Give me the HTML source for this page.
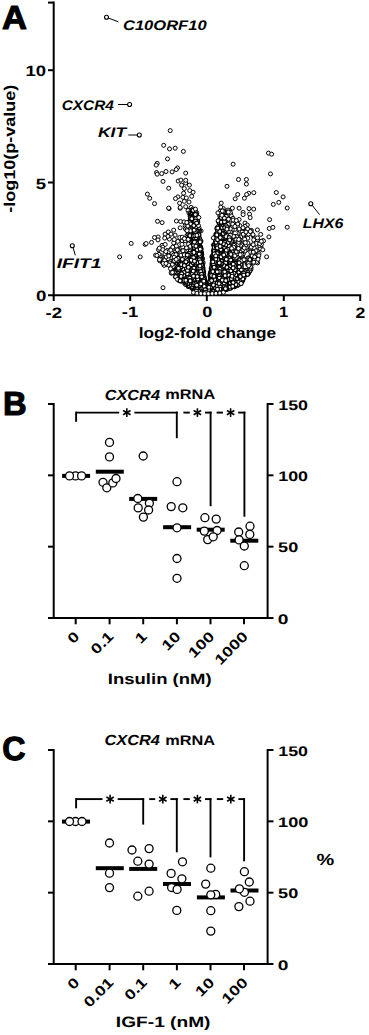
<!DOCTYPE html>
<html><head><meta charset="utf-8"><style>
html,body{margin:0;padding:0;background:#fff;}
svg{display:block;font-family:"Liberation Sans", sans-serif;text-rendering:geometricPrecision;}
</style></head><body>
<svg width="369" height="1035" viewBox="0 0 369 1035" xmlns="http://www.w3.org/2000/svg">
<line x1="53.7" y1="1.6" x2="53.7" y2="296.2" stroke="#000" stroke-width="2"/>
<line x1="48" y1="2.6" x2="53.7" y2="2.6" stroke="#000" stroke-width="2"/>
<line x1="48" y1="70.2" x2="53.7" y2="70.2" stroke="#000" stroke-width="2"/>
<line x1="48" y1="182.5" x2="53.7" y2="182.5" stroke="#000" stroke-width="2"/>
<line x1="48" y1="295.2" x2="361.2" y2="295.2" stroke="#000" stroke-width="2"/>
<line x1="53.7" y1="295.2" x2="53.7" y2="301" stroke="#000" stroke-width="2"/>
<line x1="130.2" y1="295.2" x2="130.2" y2="301" stroke="#000" stroke-width="2"/>
<line x1="206.8" y1="295.2" x2="206.8" y2="301" stroke="#000" stroke-width="2"/>
<line x1="283.8" y1="295.2" x2="283.8" y2="301" stroke="#000" stroke-width="2"/>
<line x1="360.2" y1="295.2" x2="360.2" y2="301" stroke="#000" stroke-width="2"/>
<defs><filter id="bl" x="0" y="0" width="1" height="1"><feGaussianBlur stdDeviation="0.4"/></filter></defs>
<g fill="#fff" stroke="#000" stroke-width="1.12"">
<circle cx="178.2" cy="181" r="2.0" stroke-width="1.0"/>
<circle cx="184.32" cy="260.34" r="2.0" stroke-width="1.0"/>
<circle cx="244.28" cy="271.86" r="1.95"/>
<circle cx="219.79" cy="233.84" r="1.95"/>
<circle cx="212.62" cy="275.65" r="1.95"/>
<circle cx="201.9" cy="272.11" r="1.95"/>
<circle cx="180.6" cy="221.5" r="2.0" stroke-width="1.0"/>
<circle cx="187.06" cy="264.64" r="1.95"/>
<circle cx="208.61" cy="290.04" r="1.95"/>
<circle cx="236.92" cy="271.6" r="1.95"/>
<circle cx="221.35" cy="243.11" r="1.95"/>
<circle cx="198.43" cy="246.44" r="1.95"/>
<circle cx="213.16" cy="272.15" r="1.95"/>
<circle cx="217.87" cy="245.41" r="1.95"/>
<circle cx="216.92" cy="264.91" r="1.95"/>
<circle cx="227.01" cy="285.45" r="1.95"/>
<circle cx="243.1" cy="212.4" r="2.0" stroke-width="1.0"/>
<circle cx="202.25" cy="279.61" r="1.95"/>
<circle cx="236.72" cy="264.17" r="1.95"/>
<circle cx="197.06" cy="271" r="1.95"/>
<circle cx="231.43" cy="232.25" r="2.0" stroke-width="1.0"/>
<circle cx="162" cy="262.01" r="2.0" stroke-width="1.0"/>
<circle cx="216.77" cy="267.9" r="1.95"/>
<circle cx="212.02" cy="289.96" r="1.95"/>
<circle cx="211.85" cy="270.19" r="1.95"/>
<circle cx="219.16" cy="289.79" r="1.95"/>
<circle cx="210.87" cy="291.3" r="1.95"/>
<circle cx="158.49" cy="249.68" r="2.0" stroke-width="1.0"/>
<circle cx="203.23" cy="279.64" r="1.95"/>
<circle cx="220.75" cy="281.06" r="1.95"/>
<circle cx="217.61" cy="253.18" r="1.95"/>
<circle cx="202.39" cy="281.01" r="1.95"/>
<circle cx="219.02" cy="293.21" r="1.95"/>
<circle cx="217.98" cy="282.3" r="1.95"/>
<circle cx="201.49" cy="275.31" r="1.95"/>
<circle cx="268.5" cy="153.1" r="2.0" stroke-width="1.0"/>
<circle cx="201.59" cy="258.16" r="1.95"/>
<circle cx="232.69" cy="259.51" r="1.95"/>
<circle cx="193.19" cy="213.93" r="1.95"/>
<circle cx="172.13" cy="271.52" r="2.0" stroke-width="1.0"/>
<circle cx="233.63" cy="283.58" r="1.95"/>
<circle cx="261.1" cy="247.4" r="2.0" stroke-width="1.0"/>
<circle cx="207.17" cy="293.14" r="1.95"/>
<circle cx="242.56" cy="275.15" r="1.95"/>
<circle cx="201.16" cy="280.87" r="1.95"/>
<circle cx="229.34" cy="253.87" r="1.95"/>
<circle cx="192.17" cy="282.73" r="1.95"/>
<circle cx="229.43" cy="286.29" r="1.95"/>
<circle cx="203.47" cy="281.82" r="1.95"/>
<circle cx="203.88" cy="284.97" r="1.95"/>
<circle cx="214.88" cy="269.62" r="1.95"/>
<circle cx="208.41" cy="291.75" r="1.95"/>
<circle cx="212.7" cy="292.45" r="1.95"/>
<circle cx="199.98" cy="265.34" r="1.95"/>
<circle cx="193.85" cy="288.84" r="1.95"/>
<circle cx="198.7" cy="278.36" r="1.95"/>
<circle cx="217.52" cy="256.44" r="1.95"/>
<circle cx="204.17" cy="289.83" r="1.95"/>
<circle cx="204.37" cy="285.05" r="1.95"/>
<circle cx="211.09" cy="278.66" r="1.95"/>
<circle cx="224.98" cy="230.72" r="1.95"/>
<circle cx="227.92" cy="215.78" r="1.95"/>
<circle cx="225.66" cy="280.15" r="1.95"/>
<circle cx="198.32" cy="263.98" r="1.95"/>
<circle cx="195.32" cy="237.86" r="1.95"/>
<circle cx="201.19" cy="272.7" r="1.95"/>
<circle cx="222.92" cy="252.6" r="1.95"/>
<circle cx="212.71" cy="270.09" r="1.95"/>
<circle cx="220.34" cy="263.63" r="1.95"/>
<circle cx="212.83" cy="268.36" r="1.95"/>
<circle cx="201.9" cy="284.14" r="1.95"/>
<circle cx="216.68" cy="287.44" r="1.95"/>
<circle cx="216.42" cy="274.13" r="1.95"/>
<circle cx="213.74" cy="259.61" r="1.95"/>
<circle cx="211.76" cy="279.83" r="1.95"/>
<circle cx="202.47" cy="282.51" r="1.95"/>
<circle cx="222.54" cy="260.9" r="1.95"/>
<circle cx="258.4" cy="249.8" r="2.0" stroke-width="1.0"/>
<circle cx="200.52" cy="282.7" r="1.95"/>
<circle cx="260.7" cy="234.4" r="2.0" stroke-width="1.0"/>
<circle cx="212.28" cy="270.14" r="1.95"/>
<circle cx="249.33" cy="270.77" r="2.0" stroke-width="1.0"/>
<circle cx="238.14" cy="248.01" r="2.0" stroke-width="1.0"/>
<circle cx="240.37" cy="242.61" r="2.0" stroke-width="1.0"/>
<circle cx="203.05" cy="287.22" r="1.95"/>
<circle cx="213.92" cy="269.63" r="1.95"/>
<circle cx="245.75" cy="236.41" r="2.0" stroke-width="1.0"/>
<circle cx="199.58" cy="292.11" r="1.95"/>
<circle cx="194.73" cy="212.5" r="1.95"/>
<circle cx="202.21" cy="269.61" r="1.95"/>
<circle cx="197.1" cy="250.61" r="1.95"/>
<circle cx="224.03" cy="265.08" r="1.95"/>
<circle cx="187.87" cy="235.85" r="2.0" stroke-width="1.0"/>
<circle cx="203.78" cy="283.29" r="1.95"/>
<circle cx="199.43" cy="250.64" r="1.95"/>
<circle cx="227.58" cy="249.79" r="1.95"/>
<circle cx="234.54" cy="279.56" r="1.95"/>
<circle cx="198.68" cy="255.84" r="1.95"/>
<circle cx="162.06" cy="245.35" r="2.0" stroke-width="1.0"/>
<circle cx="228.92" cy="275.71" r="1.95"/>
<circle cx="195.16" cy="210.67" r="2.0" stroke-width="1.0"/>
<circle cx="198.88" cy="255.62" r="1.95"/>
<circle cx="203.95" cy="292.96" r="1.95"/>
<circle cx="218.97" cy="280.66" r="1.95"/>
<circle cx="200.65" cy="272.79" r="1.95"/>
<circle cx="202.05" cy="284.97" r="1.95"/>
<circle cx="207.92" cy="293.26" r="1.95"/>
<circle cx="189.49" cy="263.39" r="1.95"/>
<circle cx="220.72" cy="265.15" r="1.95"/>
<circle cx="210.19" cy="282.28" r="1.95"/>
<circle cx="218.4" cy="221.44" r="2.0" stroke-width="1.0"/>
<circle cx="203.95" cy="283.37" r="1.95"/>
<circle cx="215.49" cy="279.62" r="1.95"/>
<circle cx="202.58" cy="278.31" r="1.95"/>
<circle cx="247.06" cy="260.8" r="2.0" stroke-width="1.0"/>
<circle cx="241.23" cy="257.53" r="2.0" stroke-width="1.0"/>
<circle cx="192.55" cy="224.93" r="1.95"/>
<circle cx="225.03" cy="224.85" r="1.95"/>
<circle cx="196.93" cy="248.01" r="1.95"/>
<circle cx="205.11" cy="291.31" r="1.95"/>
<circle cx="211.77" cy="273.19" r="1.95"/>
<circle cx="229.9" cy="283.99" r="1.95"/>
<circle cx="218" cy="283.71" r="1.95"/>
<circle cx="221.87" cy="238.47" r="1.95"/>
<circle cx="179.03" cy="261.76" r="1.95"/>
<circle cx="179.7" cy="237.5" r="2.0" stroke-width="1.0"/>
<circle cx="199.89" cy="261.43" r="1.95"/>
<circle cx="218.82" cy="238.55" r="1.95"/>
<circle cx="215.32" cy="239.95" r="2.0" stroke-width="1.0"/>
<circle cx="183.03" cy="259.58" r="2.0" stroke-width="1.0"/>
<circle cx="209.48" cy="286.67" r="1.95"/>
<circle cx="212.24" cy="278.47" r="1.95"/>
<circle cx="224.75" cy="264.67" r="1.95"/>
<circle cx="234.37" cy="224.99" r="2.0" stroke-width="1.0"/>
<circle cx="195.15" cy="284.78" r="1.95"/>
<circle cx="211.88" cy="277.88" r="1.95"/>
<circle cx="227.14" cy="231.1" r="1.95"/>
<circle cx="198.64" cy="243.97" r="1.95"/>
<circle cx="168.89" cy="255.81" r="2.0" stroke-width="1.0"/>
<circle cx="216.07" cy="267.42" r="1.95"/>
<circle cx="218.84" cy="244.83" r="1.95"/>
<circle cx="223.32" cy="280.6" r="1.95"/>
<circle cx="198.6" cy="268.64" r="1.95"/>
<circle cx="196.12" cy="271.74" r="1.95"/>
<circle cx="202.4" cy="272.29" r="1.95"/>
<circle cx="179.85" cy="268.26" r="1.95"/>
<circle cx="201.63" cy="277.33" r="1.95"/>
<circle cx="216.44" cy="267.75" r="1.95"/>
<circle cx="211.19" cy="277.24" r="1.95"/>
<circle cx="213.07" cy="268.91" r="1.95"/>
<circle cx="221.48" cy="212" r="2.0" stroke-width="1.0"/>
<circle cx="180.26" cy="268.12" r="1.95"/>
<circle cx="168.52" cy="263.33" r="2.0" stroke-width="1.0"/>
<circle cx="200.47" cy="275.56" r="1.95"/>
<circle cx="215.89" cy="234.51" r="1.95"/>
<circle cx="208.22" cy="290.67" r="1.95"/>
<circle cx="217.71" cy="285.68" r="1.95"/>
<circle cx="200.66" cy="274.31" r="1.95"/>
<circle cx="199.34" cy="292.08" r="1.95"/>
<circle cx="203.37" cy="278.64" r="1.95"/>
<circle cx="202.59" cy="292.98" r="1.95"/>
<circle cx="215.37" cy="266.11" r="1.95"/>
<circle cx="215.25" cy="278.62" r="1.95"/>
<circle cx="214.36" cy="267.41" r="1.95"/>
<circle cx="202.09" cy="280.13" r="1.95"/>
<circle cx="218.48" cy="254.97" r="1.95"/>
<circle cx="227.66" cy="261.94" r="1.95"/>
<circle cx="215.05" cy="287.61" r="1.95"/>
<circle cx="202.61" cy="275.78" r="1.95"/>
<circle cx="208.73" cy="290.27" r="1.95"/>
<circle cx="214.9" cy="262.24" r="1.95"/>
<circle cx="190.6" cy="274.87" r="1.95"/>
<circle cx="203.66" cy="284.81" r="1.95"/>
<circle cx="198.96" cy="257.95" r="1.95"/>
<circle cx="209.46" cy="286.72" r="1.95"/>
<circle cx="212.42" cy="276.51" r="1.95"/>
<circle cx="210" cy="288.42" r="1.95"/>
<circle cx="205.29" cy="292.33" r="1.95"/>
<circle cx="236.07" cy="279.6" r="1.95"/>
<circle cx="207.95" cy="293.57" r="1.95"/>
<circle cx="188.71" cy="237.78" r="2.0" stroke-width="1.0"/>
<circle cx="200.75" cy="259.87" r="1.95"/>
<circle cx="217.09" cy="234.05" r="1.95"/>
<circle cx="200.64" cy="264.03" r="1.95"/>
<circle cx="197.36" cy="225.77" r="1.95"/>
<circle cx="188.25" cy="267.7" r="1.95"/>
<circle cx="191.31" cy="235.65" r="1.95"/>
<circle cx="212.51" cy="273.32" r="1.95"/>
<circle cx="195.33" cy="242.68" r="1.95"/>
<circle cx="228.74" cy="244.3" r="1.95"/>
<circle cx="201.79" cy="279.18" r="1.95"/>
<circle cx="209.75" cy="287.68" r="1.95"/>
<circle cx="211.11" cy="293.46" r="1.95"/>
<circle cx="218.45" cy="286.71" r="1.95"/>
<circle cx="210.19" cy="284.11" r="1.95"/>
<circle cx="173.79" cy="254.19" r="2.0" stroke-width="1.0"/>
<circle cx="233.1" cy="275.51" r="1.95"/>
<circle cx="212.61" cy="279.18" r="1.95"/>
<circle cx="216.1" cy="260.02" r="1.95"/>
<circle cx="210.19" cy="280.98" r="1.95"/>
<circle cx="216.59" cy="238.75" r="1.95"/>
<circle cx="197.85" cy="254.98" r="1.95"/>
<circle cx="204.09" cy="283.56" r="1.95"/>
<circle cx="217.31" cy="263.4" r="1.95"/>
<circle cx="195.69" cy="291.23" r="1.95"/>
<circle cx="202.53" cy="282.39" r="1.95"/>
<circle cx="182.69" cy="280.31" r="1.95"/>
<circle cx="234.91" cy="229.39" r="2.0" stroke-width="1.0"/>
<circle cx="217.21" cy="256.51" r="1.95"/>
<circle cx="224.49" cy="285.67" r="1.95"/>
<circle cx="218.01" cy="290.08" r="1.95"/>
<circle cx="218.22" cy="271.06" r="1.95"/>
<circle cx="204.49" cy="288.06" r="1.95"/>
<circle cx="198.45" cy="249.52" r="1.95"/>
<circle cx="224.42" cy="289.1" r="1.95"/>
<circle cx="222" cy="274.3" r="1.95"/>
<circle cx="199.2" cy="258.25" r="1.95"/>
<circle cx="197.2" cy="291.06" r="1.95"/>
<circle cx="195.65" cy="211.69" r="2.0" stroke-width="1.0"/>
<circle cx="217.26" cy="283.69" r="1.95"/>
<circle cx="200.19" cy="254.29" r="1.95"/>
<circle cx="192.66" cy="240.6" r="1.95"/>
<circle cx="221.99" cy="284.56" r="1.95"/>
<circle cx="201.05" cy="230.92" r="2.0" stroke-width="1.0"/>
<circle cx="201.99" cy="282.55" r="1.95"/>
<circle cx="207.88" cy="291.8" r="1.95"/>
<circle cx="198.22" cy="256.57" r="1.95"/>
<circle cx="201.82" cy="274.1" r="1.95"/>
<circle cx="222.9" cy="283.63" r="1.95"/>
<circle cx="220.78" cy="223.88" r="1.95"/>
<circle cx="218.47" cy="246.01" r="1.95"/>
<circle cx="191.25" cy="217.13" r="1.95"/>
<circle cx="241.12" cy="281.61" r="1.95"/>
<circle cx="185.19" cy="272.73" r="1.95"/>
<circle cx="205.82" cy="291.85" r="1.95"/>
<circle cx="226.91" cy="289.35" r="1.95"/>
<circle cx="223.79" cy="286.17" r="1.95"/>
<circle cx="186.97" cy="235.4" r="2.0" stroke-width="1.0"/>
<circle cx="185.53" cy="274.64" r="1.95"/>
<circle cx="198.82" cy="258.32" r="1.95"/>
<circle cx="258" cy="258.2" r="2.0" stroke-width="1.0"/>
<circle cx="197.92" cy="254.04" r="1.95"/>
<circle cx="203.87" cy="283.39" r="1.95"/>
<circle cx="193.25" cy="238.31" r="1.95"/>
<circle cx="197.46" cy="261.35" r="1.95"/>
<circle cx="200.97" cy="272.94" r="1.95"/>
<circle cx="199.55" cy="277.6" r="1.95"/>
<circle cx="227.92" cy="215.32" r="1.95"/>
<circle cx="231.02" cy="216.87" r="2.0" stroke-width="1.0"/>
<circle cx="185.44" cy="228.96" r="2.0" stroke-width="1.0"/>
<circle cx="200.16" cy="279.84" r="1.95"/>
<circle cx="202.67" cy="272.73" r="1.95"/>
<circle cx="214.99" cy="281.09" r="1.95"/>
<circle cx="197.2" cy="248.34" r="1.95"/>
<circle cx="216" cy="265.4" r="1.95"/>
<circle cx="213.03" cy="268.65" r="1.95"/>
<circle cx="220.3" cy="261.47" r="1.95"/>
<circle cx="214.13" cy="272.82" r="1.95"/>
<circle cx="193.86" cy="245.74" r="1.95"/>
<circle cx="210.43" cy="286.34" r="1.95"/>
<circle cx="224.89" cy="283.09" r="1.95"/>
<circle cx="207.44" cy="293.44" r="1.95"/>
<circle cx="206.41" cy="293.59" r="1.95"/>
<circle cx="199.28" cy="269.7" r="1.95"/>
<circle cx="202.31" cy="267.06" r="1.95"/>
<circle cx="202.04" cy="277.35" r="1.95"/>
<circle cx="219.73" cy="271.03" r="1.95"/>
<circle cx="200.67" cy="262.02" r="1.95"/>
<circle cx="225.62" cy="268.36" r="1.95"/>
<circle cx="194.97" cy="254.75" r="1.95"/>
<circle cx="239.82" cy="281.45" r="1.95"/>
<circle cx="219.39" cy="281.82" r="1.95"/>
<circle cx="226.75" cy="217.32" r="1.95"/>
<circle cx="194.03" cy="254.17" r="1.95"/>
<circle cx="200.65" cy="264.37" r="1.95"/>
<circle cx="208.87" cy="290.04" r="1.95"/>
<circle cx="229.38" cy="287.64" r="1.95"/>
<circle cx="216.89" cy="258.7" r="1.95"/>
<circle cx="215.66" cy="289.84" r="1.95"/>
<circle cx="209.39" cy="286.15" r="1.95"/>
<circle cx="197.72" cy="250.93" r="1.95"/>
<circle cx="202.38" cy="271.6" r="1.95"/>
<circle cx="245" cy="223.1" r="2.0" stroke-width="1.0"/>
<circle cx="188.24" cy="276.67" r="1.95"/>
<circle cx="214.67" cy="274.7" r="1.95"/>
<circle cx="160.43" cy="255.66" r="2.0" stroke-width="1.0"/>
<circle cx="223.4" cy="208.6" r="2.0" stroke-width="1.0"/>
<circle cx="203.28" cy="283.94" r="1.95"/>
<circle cx="215.22" cy="273.47" r="1.95"/>
<circle cx="202.2" cy="282.9" r="1.95"/>
<circle cx="202.9" cy="276.87" r="1.95"/>
<circle cx="204.1" cy="281.45" r="1.95"/>
<circle cx="224.01" cy="212.69" r="2.0" stroke-width="1.0"/>
<circle cx="219.54" cy="284.96" r="1.95"/>
<circle cx="202.99" cy="281.83" r="1.95"/>
<circle cx="195.45" cy="265.25" r="1.95"/>
<circle cx="195.39" cy="234.83" r="1.95"/>
<circle cx="212.45" cy="276.37" r="1.95"/>
<circle cx="174.35" cy="272.69" r="1.95"/>
<circle cx="216.9" cy="260.22" r="1.95"/>
<circle cx="209.33" cy="285.56" r="1.95"/>
<circle cx="222.63" cy="285.86" r="1.95"/>
<circle cx="192.88" cy="283.84" r="1.95"/>
<circle cx="170.2" cy="130.6" r="2.0" stroke-width="1.0"/>
<circle cx="218.11" cy="268.41" r="1.95"/>
<circle cx="204.33" cy="282.51" r="1.95"/>
<circle cx="208.94" cy="293.56" r="1.95"/>
<circle cx="171.88" cy="268.47" r="2.0" stroke-width="1.0"/>
<circle cx="198.22" cy="269.13" r="1.95"/>
<circle cx="200.07" cy="263.66" r="1.95"/>
<circle cx="198.69" cy="254.27" r="1.95"/>
<circle cx="199.43" cy="260.51" r="1.95"/>
<circle cx="239.31" cy="256.4" r="2.0" stroke-width="1.0"/>
<circle cx="209.96" cy="285.52" r="1.95"/>
<circle cx="198.18" cy="251.59" r="1.95"/>
<circle cx="203" cy="290.98" r="1.95"/>
<circle cx="241.5" cy="282.52" r="2.0" stroke-width="1.0"/>
<circle cx="244.67" cy="272.97" r="1.95"/>
<circle cx="203.93" cy="285.33" r="1.95"/>
<circle cx="223.14" cy="264.77" r="1.95"/>
<circle cx="201.6" cy="264.33" r="1.95"/>
<circle cx="204.59" cy="291.28" r="1.95"/>
<circle cx="222.25" cy="253.21" r="1.95"/>
<circle cx="217.22" cy="256.88" r="1.95"/>
<circle cx="202.33" cy="290.12" r="1.95"/>
<circle cx="218.67" cy="263.11" r="1.95"/>
<circle cx="231.89" cy="227" r="2.0" stroke-width="1.0"/>
<circle cx="214.37" cy="265.82" r="1.95"/>
<circle cx="204.95" cy="288.04" r="1.95"/>
<circle cx="217.96" cy="290.3" r="1.95"/>
<circle cx="225.06" cy="281.36" r="1.95"/>
<circle cx="175.29" cy="276.9" r="2.0" stroke-width="1.0"/>
<circle cx="204.11" cy="284.22" r="1.95"/>
<circle cx="201.58" cy="271.51" r="1.95"/>
<circle cx="270.5" cy="173.9" r="2.0" stroke-width="1.0"/>
<circle cx="216.77" cy="252.92" r="1.95"/>
<circle cx="202.27" cy="279.1" r="1.95"/>
<circle cx="202.78" cy="280.75" r="1.95"/>
<circle cx="199.46" cy="255.61" r="1.95"/>
<circle cx="202.89" cy="287.1" r="1.95"/>
<circle cx="203.38" cy="276.96" r="1.95"/>
<circle cx="198.26" cy="292.52" r="1.95"/>
<circle cx="201.92" cy="271.5" r="1.95"/>
<circle cx="195.07" cy="221.75" r="1.95"/>
<circle cx="192.06" cy="221.26" r="1.95"/>
<circle cx="193.79" cy="287.15" r="1.95"/>
<circle cx="213.55" cy="292.98" r="1.95"/>
<circle cx="202.24" cy="283.15" r="1.95"/>
<circle cx="241.15" cy="261.01" r="1.95"/>
<circle cx="224.27" cy="285.31" r="1.95"/>
<circle cx="216.2" cy="254.62" r="1.95"/>
<circle cx="209.37" cy="286.42" r="1.95"/>
<circle cx="202.1" cy="276.6" r="1.95"/>
<circle cx="194.79" cy="283.97" r="1.95"/>
<circle cx="218.51" cy="248.16" r="1.95"/>
<circle cx="199.48" cy="230.47" r="1.95"/>
<circle cx="239.48" cy="259.79" r="2.0" stroke-width="1.0"/>
<circle cx="212.26" cy="270.1" r="1.95"/>
<circle cx="220.35" cy="274.24" r="1.95"/>
<circle cx="199.92" cy="250.63" r="1.95"/>
<circle cx="180.52" cy="278.09" r="1.95"/>
<circle cx="241.32" cy="279.82" r="1.95"/>
<circle cx="202.38" cy="277.35" r="1.95"/>
<circle cx="205.78" cy="292.11" r="1.95"/>
<circle cx="176.21" cy="274.94" r="2.0" stroke-width="1.0"/>
<circle cx="181.49" cy="266.23" r="1.95"/>
<circle cx="212.38" cy="277.7" r="1.95"/>
<circle cx="196.38" cy="216.26" r="1.95"/>
<circle cx="200.35" cy="253.35" r="1.95"/>
<circle cx="202.57" cy="280.43" r="1.95"/>
<circle cx="211.8" cy="269.34" r="1.95"/>
<circle cx="214.28" cy="269.17" r="1.95"/>
<circle cx="216.88" cy="267.04" r="1.95"/>
<circle cx="202.65" cy="293.2" r="1.95"/>
<circle cx="203.18" cy="276" r="1.95"/>
<circle cx="257.56" cy="255.25" r="2.0" stroke-width="1.0"/>
<circle cx="213.74" cy="273.3" r="1.95"/>
<circle cx="190.16" cy="215.89" r="1.95"/>
<circle cx="200.5" cy="268.09" r="1.95"/>
<circle cx="212.97" cy="274.24" r="1.95"/>
<circle cx="215.01" cy="269.26" r="1.95"/>
<circle cx="211.5" cy="290.71" r="1.95"/>
<circle cx="233.66" cy="246.61" r="2.0" stroke-width="1.0"/>
<circle cx="201.32" cy="271.09" r="1.95"/>
<circle cx="203.83" cy="289.23" r="1.95"/>
<circle cx="208.75" cy="291.53" r="1.95"/>
<circle cx="195.79" cy="282.53" r="1.95"/>
<circle cx="213.57" cy="277.23" r="1.95"/>
<circle cx="218.59" cy="273.02" r="1.95"/>
<circle cx="208.77" cy="293.15" r="1.95"/>
<circle cx="221.32" cy="240.24" r="1.95"/>
<circle cx="217.52" cy="246.52" r="1.95"/>
<circle cx="238.22" cy="266.52" r="1.95"/>
<circle cx="219.9" cy="277.65" r="1.95"/>
<circle cx="216.25" cy="271.26" r="1.95"/>
<circle cx="211.47" cy="284.13" r="1.95"/>
<circle cx="218.99" cy="228.1" r="1.95"/>
<circle cx="204.88" cy="289.79" r="1.95"/>
<circle cx="212.16" cy="263.32" r="1.95"/>
<circle cx="175.1" cy="235.1" r="2.0" stroke-width="1.0"/>
<circle cx="202.41" cy="274.69" r="1.95"/>
<circle cx="202.39" cy="288.4" r="1.95"/>
<circle cx="190.49" cy="209.09" r="2.0" stroke-width="1.0"/>
<circle cx="203.16" cy="281.19" r="1.95"/>
<circle cx="211.69" cy="283.3" r="1.95"/>
<circle cx="224.56" cy="229.74" r="1.95"/>
<circle cx="200.55" cy="247.11" r="1.95"/>
<circle cx="211.46" cy="274.74" r="1.95"/>
<circle cx="199.16" cy="263.76" r="1.95"/>
<circle cx="228.92" cy="241.69" r="1.95"/>
<circle cx="216.62" cy="291.69" r="1.95"/>
<circle cx="248.52" cy="270.74" r="1.95"/>
<circle cx="225.43" cy="215.51" r="1.95"/>
<circle cx="202.5" cy="279.96" r="1.95"/>
<circle cx="207.1" cy="293.42" r="1.95"/>
<circle cx="222.74" cy="268.05" r="1.95"/>
<circle cx="204.25" cy="293.18" r="1.95"/>
<circle cx="219.94" cy="231.88" r="1.95"/>
<circle cx="167.04" cy="260.38" r="2.0" stroke-width="1.0"/>
<circle cx="233.86" cy="238.62" r="1.95"/>
<circle cx="214.84" cy="264.42" r="1.95"/>
<circle cx="202.16" cy="280.8" r="1.95"/>
<circle cx="228.04" cy="246.68" r="2.0" stroke-width="1.0"/>
<circle cx="219.42" cy="235.8" r="1.95"/>
<circle cx="192.6" cy="286.72" r="1.95"/>
<circle cx="195.6" cy="224.07" r="1.95"/>
<circle cx="216.46" cy="273.85" r="1.95"/>
<circle cx="203.52" cy="286.8" r="1.95"/>
<circle cx="214.6" cy="262.75" r="1.95"/>
<circle cx="198" cy="257.73" r="1.95"/>
<circle cx="182.4" cy="240.8" r="2.0" stroke-width="1.0"/>
<circle cx="198.49" cy="288.55" r="1.95"/>
<circle cx="198.75" cy="274.44" r="1.95"/>
<circle cx="202.59" cy="277.23" r="1.95"/>
<circle cx="220.02" cy="291.58" r="1.95"/>
<circle cx="196.82" cy="244.62" r="1.95"/>
<circle cx="202.29" cy="271.05" r="1.95"/>
<circle cx="202.21" cy="263.51" r="1.95"/>
<circle cx="203.95" cy="289.85" r="1.95"/>
<circle cx="221.35" cy="259.33" r="1.95"/>
<circle cx="204.33" cy="280.42" r="1.95"/>
<circle cx="216.47" cy="256.22" r="1.95"/>
<circle cx="227" cy="252.53" r="1.95"/>
<circle cx="215.38" cy="269.92" r="1.95"/>
<circle cx="217.82" cy="268.33" r="1.95"/>
<circle cx="203.09" cy="282.71" r="1.95"/>
<circle cx="198.75" cy="258.61" r="1.95"/>
<circle cx="190.71" cy="234.45" r="1.95"/>
<circle cx="241.15" cy="262.02" r="1.95"/>
<circle cx="210.8" cy="293.06" r="1.95"/>
<circle cx="240.82" cy="283.79" r="2.0" stroke-width="1.0"/>
<circle cx="212.79" cy="272.74" r="1.95"/>
<circle cx="235.9" cy="240.65" r="2.0" stroke-width="1.0"/>
<circle cx="174.97" cy="270.18" r="1.95"/>
<circle cx="204.43" cy="285.79" r="1.95"/>
<circle cx="225.87" cy="252.86" r="1.95"/>
<circle cx="198.13" cy="239.81" r="1.95"/>
<circle cx="204.9" cy="287.96" r="1.95"/>
<circle cx="196.55" cy="238.66" r="1.95"/>
<circle cx="212.63" cy="268.48" r="1.95"/>
<circle cx="188.27" cy="234.77" r="2.0" stroke-width="1.0"/>
<circle cx="256.32" cy="255.77" r="2.0" stroke-width="1.0"/>
<circle cx="218.79" cy="288.74" r="1.95"/>
<circle cx="219.08" cy="257.5" r="1.95"/>
<circle cx="211.41" cy="284.68" r="1.95"/>
<circle cx="195.89" cy="247.28" r="1.95"/>
<circle cx="216.38" cy="285.51" r="1.95"/>
<circle cx="199.42" cy="267.63" r="1.95"/>
<circle cx="183.8" cy="269.31" r="1.95"/>
<circle cx="221.04" cy="291.74" r="1.95"/>
<circle cx="230.35" cy="277.61" r="1.95"/>
<circle cx="203.31" cy="288.96" r="1.95"/>
<circle cx="223.65" cy="235.77" r="1.95"/>
<circle cx="186.45" cy="260.23" r="2.0" stroke-width="1.0"/>
<circle cx="226.12" cy="229.41" r="1.95"/>
<circle cx="213.05" cy="269.19" r="1.95"/>
<circle cx="168.81" cy="261.49" r="2.0" stroke-width="1.0"/>
<circle cx="205.8" cy="292.12" r="1.95"/>
<circle cx="226.5" cy="281.57" r="1.95"/>
<circle cx="213.37" cy="268.68" r="1.95"/>
<circle cx="200.56" cy="267.05" r="1.95"/>
<circle cx="221.18" cy="237.2" r="1.95"/>
<circle cx="204.77" cy="290.71" r="1.95"/>
<circle cx="201.05" cy="269.1" r="1.95"/>
<circle cx="215.25" cy="264.43" r="1.95"/>
<circle cx="203.61" cy="276.69" r="1.95"/>
<circle cx="199.89" cy="258.6" r="1.95"/>
<circle cx="216.7" cy="291.18" r="1.95"/>
<circle cx="199.89" cy="288.58" r="1.95"/>
<circle cx="220.74" cy="242.03" r="1.95"/>
<circle cx="231.2" cy="258.32" r="1.95"/>
<circle cx="246.72" cy="231.42" r="2.0" stroke-width="1.0"/>
<circle cx="226" cy="272.46" r="1.95"/>
<circle cx="233.3" cy="257.75" r="1.95"/>
<circle cx="193.17" cy="244.57" r="1.95"/>
<circle cx="202.15" cy="281.57" r="1.95"/>
<circle cx="224.63" cy="223.11" r="1.95"/>
<circle cx="197.58" cy="232.19" r="1.95"/>
<circle cx="219.78" cy="237.98" r="1.95"/>
<circle cx="273.3" cy="204.4" r="2.0" stroke-width="1.0"/>
<circle cx="202.86" cy="284.16" r="1.95"/>
<circle cx="217.38" cy="265.78" r="1.95"/>
<circle cx="189" cy="282.69" r="1.95"/>
<circle cx="202.26" cy="270.32" r="1.95"/>
<circle cx="209.39" cy="291.72" r="1.95"/>
<circle cx="202.36" cy="279.15" r="1.95"/>
<circle cx="222.02" cy="254.23" r="1.95"/>
<circle cx="162.1" cy="222.6" r="2.0" stroke-width="1.0"/>
<circle cx="202.35" cy="282.51" r="1.95"/>
<circle cx="208.25" cy="291.26" r="1.95"/>
<circle cx="201.45" cy="259.01" r="1.95"/>
<circle cx="211.79" cy="275.62" r="1.95"/>
<circle cx="199.63" cy="249.5" r="1.95"/>
<circle cx="207.93" cy="292.93" r="1.95"/>
<circle cx="190.34" cy="218.85" r="1.95"/>
<circle cx="204.14" cy="285.78" r="1.95"/>
<circle cx="229.77" cy="267.85" r="1.95"/>
<circle cx="199.64" cy="271.49" r="1.95"/>
<circle cx="241.06" cy="278.7" r="1.95"/>
<circle cx="166" cy="171.5" r="2.0" stroke-width="1.0"/>
<circle cx="238.5" cy="179.5" r="2.0" stroke-width="1.0"/>
<circle cx="200.53" cy="274.9" r="1.95"/>
<circle cx="202.91" cy="277.95" r="1.95"/>
<circle cx="254.1" cy="259.49" r="2.0" stroke-width="1.0"/>
<circle cx="179.09" cy="270.15" r="1.95"/>
<circle cx="208.77" cy="289.61" r="1.95"/>
<circle cx="198.75" cy="256.3" r="1.95"/>
<circle cx="204.69" cy="290.96" r="1.95"/>
<circle cx="205.16" cy="291.07" r="1.95"/>
<circle cx="197.44" cy="288.26" r="1.95"/>
<circle cx="224.84" cy="273.4" r="1.95"/>
<circle cx="202.51" cy="280.58" r="1.95"/>
<circle cx="228.27" cy="282.79" r="1.95"/>
<circle cx="219.1" cy="237.92" r="1.95"/>
<circle cx="204.72" cy="288.96" r="1.95"/>
<circle cx="162.75" cy="247.18" r="2.0" stroke-width="1.0"/>
<circle cx="182.24" cy="237.23" r="2.0" stroke-width="1.0"/>
<circle cx="202.4" cy="280.61" r="1.95"/>
<circle cx="181.5" cy="256.77" r="2.0" stroke-width="1.0"/>
<circle cx="225.17" cy="281.94" r="1.95"/>
<circle cx="202.66" cy="282.02" r="1.95"/>
<circle cx="196.51" cy="251.89" r="1.95"/>
<circle cx="219.39" cy="246.11" r="1.95"/>
<circle cx="244.8" cy="242.41" r="2.0" stroke-width="1.0"/>
<circle cx="200.99" cy="262.54" r="1.95"/>
<circle cx="240.81" cy="276.71" r="1.95"/>
<circle cx="203.49" cy="285.36" r="1.95"/>
<circle cx="196.86" cy="240.05" r="1.95"/>
<circle cx="168.51" cy="255.23" r="2.0" stroke-width="1.0"/>
<circle cx="213.78" cy="245.09" r="1.95"/>
<circle cx="197.14" cy="216.84" r="1.95"/>
<circle cx="200" cy="248.86" r="1.95"/>
<circle cx="199.32" cy="250.78" r="1.95"/>
<circle cx="252.2" cy="259.07" r="2.0" stroke-width="1.0"/>
<circle cx="186.44" cy="247.88" r="2.0" stroke-width="1.0"/>
<circle cx="221.19" cy="217.87" r="1.95"/>
<circle cx="220.25" cy="218.91" r="1.95"/>
<circle cx="203.57" cy="278.24" r="1.95"/>
<circle cx="145.1" cy="244.4" r="2.0" stroke-width="1.0"/>
<circle cx="213.89" cy="285.69" r="1.95"/>
<circle cx="217.61" cy="276.62" r="1.95"/>
<circle cx="203.81" cy="283.5" r="1.95"/>
<circle cx="241.44" cy="250.55" r="2.0" stroke-width="1.0"/>
<circle cx="183.22" cy="282.14" r="2.0" stroke-width="1.0"/>
<circle cx="201.24" cy="280.07" r="1.95"/>
<circle cx="202.98" cy="281.59" r="1.95"/>
<circle cx="238.28" cy="242.65" r="2.0" stroke-width="1.0"/>
<circle cx="202.25" cy="290.68" r="1.95"/>
<circle cx="176.3" cy="246.14" r="2.0" stroke-width="1.0"/>
<circle cx="203.73" cy="286.06" r="1.95"/>
<circle cx="249.5" cy="271.64" r="2.0" stroke-width="1.0"/>
<circle cx="212.81" cy="270.22" r="1.95"/>
<circle cx="190.1" cy="268.88" r="1.95"/>
<circle cx="206.24" cy="292.99" r="1.95"/>
<circle cx="208.68" cy="284.72" r="1.95"/>
<circle cx="215.16" cy="264.43" r="1.95"/>
<circle cx="208.83" cy="290.12" r="1.95"/>
<circle cx="185.68" cy="283.3" r="2.0" stroke-width="1.0"/>
<circle cx="198.57" cy="262.19" r="1.95"/>
<circle cx="215.64" cy="256.19" r="1.95"/>
<circle cx="208.74" cy="290.74" r="1.95"/>
<circle cx="198.96" cy="266.76" r="1.95"/>
<circle cx="202.36" cy="287.95" r="1.95"/>
<circle cx="200.45" cy="263.72" r="1.95"/>
<circle cx="214.35" cy="268.62" r="1.95"/>
<circle cx="202.92" cy="284.42" r="1.95"/>
<circle cx="236.6" cy="238.68" r="2.0" stroke-width="1.0"/>
<circle cx="219.31" cy="290.51" r="1.95"/>
<circle cx="209.21" cy="284.58" r="1.95"/>
<circle cx="221.01" cy="288.08" r="1.95"/>
<circle cx="201.94" cy="272.57" r="1.95"/>
<circle cx="198.87" cy="243.45" r="1.95"/>
<circle cx="198.55" cy="253.53" r="1.95"/>
<circle cx="212.5" cy="269.06" r="1.95"/>
<circle cx="200.81" cy="270.03" r="1.95"/>
<circle cx="189.16" cy="264.47" r="1.95"/>
<circle cx="218.59" cy="278.62" r="1.95"/>
<circle cx="201.31" cy="277.44" r="1.95"/>
<circle cx="215.09" cy="273.11" r="1.95"/>
<circle cx="198.97" cy="284.48" r="1.95"/>
<circle cx="174.79" cy="262.51" r="2.0" stroke-width="1.0"/>
<circle cx="164.82" cy="258.79" r="2.0" stroke-width="1.0"/>
<circle cx="191.79" cy="287.71" r="1.95"/>
<circle cx="203.35" cy="283.63" r="1.95"/>
<circle cx="196.94" cy="291.05" r="1.95"/>
<circle cx="218.85" cy="234.96" r="1.95"/>
<circle cx="194" cy="239.34" r="1.95"/>
<circle cx="212.1" cy="264.33" r="1.95"/>
<circle cx="203.65" cy="285.1" r="1.95"/>
<circle cx="243.77" cy="247.68" r="2.0" stroke-width="1.0"/>
<circle cx="211.12" cy="292.47" r="1.95"/>
<circle cx="190.56" cy="266.05" r="1.95"/>
<circle cx="189.66" cy="254.82" r="1.95"/>
<circle cx="188.12" cy="278.55" r="1.95"/>
<circle cx="256.54" cy="258.37" r="2.0" stroke-width="1.0"/>
<circle cx="213.46" cy="272.35" r="1.95"/>
<circle cx="219.4" cy="278.68" r="1.95"/>
<circle cx="200.69" cy="275.24" r="1.95"/>
<circle cx="214.77" cy="245.74" r="1.95"/>
<circle cx="222.84" cy="281.35" r="1.95"/>
<circle cx="242.62" cy="280.49" r="1.95"/>
<circle cx="202.84" cy="273.99" r="1.95"/>
<circle cx="207.99" cy="293.3" r="1.95"/>
<circle cx="230.7" cy="213.84" r="2.0" stroke-width="1.0"/>
<circle cx="216.58" cy="263.45" r="1.95"/>
<circle cx="211.36" cy="290.25" r="1.95"/>
<circle cx="210.36" cy="290.39" r="1.95"/>
<circle cx="208.8" cy="290.84" r="1.95"/>
<circle cx="266.6" cy="256.8" r="2.0" stroke-width="1.0"/>
<circle cx="191.32" cy="286.18" r="1.95"/>
<circle cx="184.64" cy="280.46" r="1.95"/>
<circle cx="198.95" cy="246.93" r="1.95"/>
<circle cx="202.35" cy="270.78" r="1.95"/>
<circle cx="205.38" cy="289.82" r="1.95"/>
<circle cx="217.34" cy="288.12" r="1.95"/>
<circle cx="220.95" cy="292.27" r="1.95"/>
<circle cx="175.19" cy="266.52" r="2.0" stroke-width="1.0"/>
<circle cx="201.81" cy="273.81" r="1.95"/>
<circle cx="201.53" cy="275.21" r="1.95"/>
<circle cx="199.85" cy="255.8" r="1.95"/>
<circle cx="201.43" cy="280.74" r="1.95"/>
<circle cx="213.75" cy="263.08" r="1.95"/>
<circle cx="218.93" cy="291.97" r="1.95"/>
<circle cx="238.52" cy="266.43" r="1.95"/>
<circle cx="199.28" cy="268.35" r="1.95"/>
<circle cx="220.4" cy="282.66" r="1.95"/>
<circle cx="194.9" cy="283.13" r="1.95"/>
<circle cx="203.74" cy="279.49" r="1.95"/>
<circle cx="224.47" cy="288.99" r="1.95"/>
<circle cx="202.47" cy="276.57" r="1.95"/>
<circle cx="193.64" cy="285.71" r="1.95"/>
<circle cx="203" cy="281.73" r="1.95"/>
<circle cx="222.01" cy="289.05" r="1.95"/>
<circle cx="203.34" cy="281.66" r="1.95"/>
<circle cx="198.25" cy="247.94" r="1.95"/>
<circle cx="200.77" cy="274.73" r="1.95"/>
<circle cx="196.17" cy="221.46" r="1.95"/>
<circle cx="198.27" cy="255.33" r="1.95"/>
<circle cx="200.5" cy="292.41" r="1.95"/>
<circle cx="207.34" cy="293.22" r="1.95"/>
<circle cx="198.56" cy="260.11" r="1.95"/>
<circle cx="215.69" cy="285.39" r="1.95"/>
<circle cx="196.85" cy="244.69" r="1.95"/>
<circle cx="201.14" cy="273.92" r="1.95"/>
<circle cx="209.92" cy="287.92" r="1.95"/>
<circle cx="223.55" cy="288.16" r="1.95"/>
<circle cx="193.56" cy="219.2" r="1.95"/>
<circle cx="198.77" cy="244.52" r="1.95"/>
<circle cx="233.59" cy="285.32" r="1.95"/>
<circle cx="196.38" cy="247.53" r="1.95"/>
<circle cx="221.05" cy="289.36" r="1.95"/>
<circle cx="201.42" cy="280.97" r="1.95"/>
<circle cx="213.9" cy="292.87" r="1.95"/>
<circle cx="158.25" cy="255.44" r="2.0" stroke-width="1.0"/>
<circle cx="218.03" cy="263.69" r="1.95"/>
<circle cx="173.29" cy="266.79" r="2.0" stroke-width="1.0"/>
<circle cx="209.71" cy="291" r="1.95"/>
<circle cx="222.29" cy="283.88" r="1.95"/>
<circle cx="210.01" cy="274.65" r="1.95"/>
<circle cx="224.02" cy="289" r="1.95"/>
<circle cx="219.65" cy="240.07" r="1.95"/>
<circle cx="204.34" cy="283.9" r="1.95"/>
<circle cx="200.91" cy="268.4" r="1.95"/>
<circle cx="222.63" cy="283.24" r="1.95"/>
<circle cx="199.86" cy="268.13" r="1.95"/>
<circle cx="226.33" cy="261.05" r="1.95"/>
<circle cx="187.84" cy="264.53" r="1.95"/>
<circle cx="227.4" cy="284.34" r="1.95"/>
<circle cx="199.1" cy="263.82" r="1.95"/>
<circle cx="197.18" cy="292.11" r="1.95"/>
<circle cx="233.8" cy="254.56" r="1.95"/>
<circle cx="217.33" cy="290.53" r="1.95"/>
<circle cx="198.65" cy="229.1" r="1.95"/>
<circle cx="197.91" cy="254.54" r="1.95"/>
<circle cx="245.49" cy="270.22" r="1.95"/>
<circle cx="217.85" cy="281.15" r="1.95"/>
<circle cx="202.71" cy="274.32" r="1.95"/>
<circle cx="200.72" cy="270.82" r="1.95"/>
<circle cx="197.43" cy="241.29" r="1.95"/>
<circle cx="222.43" cy="249.62" r="1.95"/>
<circle cx="202.93" cy="275.18" r="1.95"/>
<circle cx="184.3" cy="188.5" r="2.0" stroke-width="1.0"/>
<circle cx="221" cy="251.84" r="1.95"/>
<circle cx="207.3" cy="293.46" r="1.95"/>
<circle cx="208.36" cy="292.52" r="1.95"/>
<circle cx="200.71" cy="263.31" r="1.95"/>
<circle cx="240.62" cy="259.49" r="2.0" stroke-width="1.0"/>
<circle cx="217.42" cy="244.19" r="1.95"/>
<circle cx="200.6" cy="253.7" r="1.95"/>
<circle cx="200.79" cy="283.98" r="1.95"/>
<circle cx="217.44" cy="244.13" r="1.95"/>
<circle cx="196.13" cy="240.16" r="1.95"/>
<circle cx="200.99" cy="252.37" r="1.95"/>
<circle cx="229.45" cy="241.02" r="1.95"/>
<circle cx="196.86" cy="231.44" r="1.95"/>
<circle cx="213.21" cy="276.63" r="1.95"/>
<circle cx="203.99" cy="286.1" r="1.95"/>
<circle cx="235.44" cy="260.85" r="2.0" stroke-width="1.0"/>
<circle cx="244.3" cy="272.48" r="1.95"/>
<circle cx="209.19" cy="287.63" r="1.95"/>
<circle cx="200.37" cy="264.37" r="1.95"/>
<circle cx="210.57" cy="282.48" r="1.95"/>
<circle cx="208.6" cy="291.15" r="1.95"/>
<circle cx="172.61" cy="249.64" r="2.0" stroke-width="1.0"/>
<circle cx="199.72" cy="262.08" r="1.95"/>
<circle cx="218.04" cy="226.88" r="2.0" stroke-width="1.0"/>
<circle cx="218.3" cy="265.42" r="1.95"/>
<circle cx="170.92" cy="261.46" r="2.0" stroke-width="1.0"/>
<circle cx="254.25" cy="248.09" r="2.0" stroke-width="1.0"/>
<circle cx="192.85" cy="237.45" r="1.95"/>
<circle cx="192.83" cy="277.39" r="1.95"/>
<circle cx="195.79" cy="256.88" r="1.95"/>
<circle cx="202.76" cy="281.7" r="1.95"/>
<circle cx="223.44" cy="273.29" r="1.95"/>
<circle cx="220.76" cy="280.37" r="1.95"/>
<circle cx="226.48" cy="264.53" r="1.95"/>
<circle cx="196.22" cy="247.68" r="1.95"/>
<circle cx="213.78" cy="266.36" r="1.95"/>
<circle cx="224.21" cy="287.6" r="1.95"/>
<circle cx="208.55" cy="293.23" r="1.95"/>
<circle cx="221.79" cy="226.95" r="1.95"/>
<circle cx="175.41" cy="269.76" r="1.95"/>
<circle cx="234.28" cy="272.08" r="1.95"/>
<circle cx="206.51" cy="293.28" r="1.95"/>
<circle cx="247.74" cy="262.98" r="2.0" stroke-width="1.0"/>
<circle cx="205" cy="289.04" r="1.95"/>
<circle cx="250.22" cy="270.32" r="2.0" stroke-width="1.0"/>
<circle cx="191.51" cy="255.83" r="1.95"/>
<circle cx="158.2" cy="237" r="2.0" stroke-width="1.0"/>
<circle cx="234.38" cy="282.9" r="1.95"/>
<circle cx="180.05" cy="248.53" r="2.0" stroke-width="1.0"/>
<circle cx="196.53" cy="226.56" r="1.95"/>
<circle cx="211.77" cy="291.26" r="1.95"/>
<circle cx="187.86" cy="251.35" r="2.0" stroke-width="1.0"/>
<circle cx="156.5" cy="172.5" r="2.0" stroke-width="1.0"/>
<circle cx="211.56" cy="291.92" r="1.95"/>
<circle cx="202.39" cy="284.01" r="1.95"/>
<circle cx="226" cy="241" r="1.95"/>
<circle cx="213.88" cy="255.51" r="1.95"/>
<circle cx="221.6" cy="252.63" r="1.95"/>
<circle cx="208.61" cy="287.73" r="1.95"/>
<circle cx="198.67" cy="250.83" r="1.95"/>
<circle cx="201.4" cy="275.64" r="1.95"/>
<circle cx="204.81" cy="288.76" r="1.95"/>
<circle cx="232.53" cy="283.48" r="1.95"/>
<circle cx="204.94" cy="287.44" r="1.95"/>
<circle cx="201.86" cy="265.62" r="1.95"/>
<circle cx="213.75" cy="265.71" r="1.95"/>
<circle cx="236.03" cy="236.52" r="2.0" stroke-width="1.0"/>
<circle cx="183.51" cy="270.09" r="1.95"/>
<circle cx="211.9" cy="281.68" r="1.95"/>
<circle cx="197.5" cy="286.51" r="1.95"/>
<circle cx="189.25" cy="253.03" r="1.95"/>
<circle cx="212.11" cy="281.27" r="1.95"/>
<circle cx="235.22" cy="261.81" r="1.95"/>
<circle cx="239.94" cy="273.27" r="1.95"/>
<circle cx="208.3" cy="293.05" r="1.95"/>
<circle cx="220.76" cy="252.68" r="1.95"/>
<circle cx="196.88" cy="233.32" r="1.95"/>
<circle cx="203.7" cy="286.11" r="1.95"/>
<circle cx="229" cy="238.41" r="1.95"/>
<circle cx="248.49" cy="273.12" r="1.95"/>
<circle cx="204.91" cy="290.42" r="1.95"/>
<circle cx="202.74" cy="275.03" r="1.95"/>
<circle cx="219.27" cy="222.67" r="1.95"/>
<circle cx="227.3" cy="231.78" r="1.95"/>
<circle cx="202.51" cy="276.76" r="1.95"/>
<circle cx="203.23" cy="292.35" r="1.95"/>
<circle cx="228.76" cy="260.19" r="1.95"/>
<circle cx="234.68" cy="250.59" r="2.0" stroke-width="1.0"/>
<circle cx="185.7" cy="206.7" r="2.0" stroke-width="1.0"/>
<circle cx="203.59" cy="276.23" r="1.95"/>
<circle cx="198.7" cy="276.62" r="1.95"/>
<circle cx="201.8" cy="264.56" r="1.95"/>
<circle cx="227.6" cy="277.35" r="1.95"/>
<circle cx="171.54" cy="273.22" r="2.0" stroke-width="1.0"/>
<circle cx="220.98" cy="287.62" r="1.95"/>
<circle cx="201.66" cy="278.38" r="1.95"/>
<circle cx="216.84" cy="238" r="1.95"/>
<circle cx="201.94" cy="268.99" r="1.95"/>
<circle cx="200.92" cy="266.88" r="1.95"/>
<circle cx="226.16" cy="248.27" r="2.0" stroke-width="1.0"/>
<circle cx="224.3" cy="277.97" r="1.95"/>
<circle cx="224.23" cy="266.05" r="1.95"/>
<circle cx="209.34" cy="293.06" r="1.95"/>
<circle cx="198.72" cy="244.11" r="1.95"/>
<circle cx="210.2" cy="288.17" r="1.95"/>
<circle cx="217.31" cy="241.69" r="1.95"/>
<circle cx="182.99" cy="278.54" r="1.95"/>
<circle cx="243.42" cy="258.38" r="2.0" stroke-width="1.0"/>
<circle cx="196.86" cy="257.33" r="1.95"/>
<circle cx="214.41" cy="276.14" r="1.95"/>
<circle cx="205.71" cy="292.68" r="1.95"/>
<circle cx="209.73" cy="285.69" r="1.95"/>
<circle cx="202.12" cy="268.75" r="1.95"/>
<circle cx="214.22" cy="272.87" r="1.95"/>
<circle cx="211.16" cy="291.39" r="1.95"/>
<circle cx="204.23" cy="287.13" r="1.95"/>
<circle cx="229.3" cy="284.07" r="1.95"/>
<circle cx="200.46" cy="268.77" r="1.95"/>
<circle cx="204.27" cy="288.07" r="1.95"/>
<circle cx="260.29" cy="248.64" r="2.0" stroke-width="1.0"/>
<circle cx="222.04" cy="284.85" r="1.95"/>
<circle cx="215.31" cy="290.27" r="1.95"/>
<circle cx="221.03" cy="244.07" r="1.95"/>
<circle cx="226.53" cy="212.61" r="2.0" stroke-width="1.0"/>
<circle cx="180.06" cy="261.85" r="1.95"/>
<circle cx="222.62" cy="260.93" r="1.95"/>
<circle cx="235.2" cy="198.8" r="2.0" stroke-width="1.0"/>
<circle cx="195.19" cy="270.2" r="1.95"/>
<circle cx="230.31" cy="261.62" r="1.95"/>
<circle cx="205.42" cy="292.55" r="1.95"/>
<circle cx="213.18" cy="285.5" r="1.95"/>
<circle cx="215.88" cy="268.99" r="1.95"/>
<circle cx="202.33" cy="279.78" r="1.95"/>
<circle cx="162.78" cy="249.67" r="2.0" stroke-width="1.0"/>
<circle cx="215.33" cy="261.01" r="1.95"/>
<circle cx="211.77" cy="277.39" r="1.95"/>
<circle cx="221.41" cy="285.13" r="1.95"/>
<circle cx="222.43" cy="214.86" r="1.95"/>
<circle cx="204.61" cy="287.92" r="1.95"/>
<circle cx="241.34" cy="264.05" r="2.0" stroke-width="1.0"/>
<circle cx="218.22" cy="287.09" r="1.95"/>
<circle cx="201.4" cy="266.97" r="1.95"/>
<circle cx="203.76" cy="281.77" r="1.95"/>
<circle cx="196.63" cy="258.23" r="1.95"/>
<circle cx="221.86" cy="257.65" r="1.95"/>
<circle cx="196.52" cy="238.47" r="1.95"/>
<circle cx="213.6" cy="267.11" r="1.95"/>
<circle cx="191.75" cy="233.96" r="1.95"/>
<circle cx="203.21" cy="273.68" r="1.95"/>
<circle cx="200.46" cy="272.09" r="1.95"/>
<circle cx="205.83" cy="290.67" r="1.95"/>
<circle cx="200.47" cy="293.25" r="1.95"/>
<circle cx="199.48" cy="261.94" r="1.95"/>
<circle cx="220.41" cy="269.06" r="1.95"/>
<circle cx="203.79" cy="292.2" r="1.95"/>
<circle cx="202.22" cy="280.42" r="1.95"/>
<circle cx="208.19" cy="290.42" r="1.95"/>
<circle cx="200.71" cy="274.88" r="1.95"/>
<circle cx="203.77" cy="284.71" r="1.95"/>
<circle cx="202.19" cy="267.55" r="1.95"/>
<circle cx="250.47" cy="248.06" r="2.0" stroke-width="1.0"/>
<circle cx="218.96" cy="247.59" r="1.95"/>
<circle cx="194.41" cy="262.21" r="1.95"/>
<circle cx="212.17" cy="282.69" r="1.95"/>
<circle cx="203.17" cy="276.33" r="1.95"/>
<circle cx="209.42" cy="286.36" r="1.95"/>
<circle cx="223.37" cy="228.72" r="1.95"/>
<circle cx="185.83" cy="270.54" r="1.95"/>
<circle cx="214.35" cy="267.47" r="1.95"/>
<circle cx="209.01" cy="284.59" r="1.95"/>
<circle cx="163" cy="287.7" r="2.0" stroke-width="1.0"/>
<circle cx="256.03" cy="250.82" r="2.0" stroke-width="1.0"/>
<circle cx="223.07" cy="282.95" r="1.95"/>
<circle cx="192.26" cy="262.13" r="1.95"/>
<circle cx="209.63" cy="287.49" r="1.95"/>
<circle cx="188" cy="285.7" r="1.95"/>
<circle cx="204.75" cy="285.89" r="1.95"/>
<circle cx="217.57" cy="283.12" r="1.95"/>
<circle cx="177.7" cy="258.08" r="1.95"/>
<circle cx="201.84" cy="274.94" r="1.95"/>
<circle cx="201.93" cy="287.59" r="1.95"/>
<circle cx="194.33" cy="218.62" r="1.95"/>
<circle cx="228.71" cy="243.88" r="1.95"/>
<circle cx="207.48" cy="293.54" r="1.95"/>
<circle cx="216.43" cy="286.63" r="1.95"/>
<circle cx="210.84" cy="272.42" r="1.95"/>
<circle cx="175.2" cy="148.2" r="2.0" stroke-width="1.0"/>
<circle cx="198.7" cy="279.94" r="1.95"/>
<circle cx="167.11" cy="264.33" r="2.0" stroke-width="1.0"/>
<circle cx="189.62" cy="265.84" r="1.95"/>
<circle cx="191.34" cy="254.52" r="1.95"/>
<circle cx="215.37" cy="258.92" r="1.95"/>
<circle cx="201.39" cy="291.64" r="1.95"/>
<circle cx="218.52" cy="278.72" r="1.95"/>
<circle cx="192.73" cy="280.22" r="1.95"/>
<circle cx="197.98" cy="280.03" r="1.95"/>
<circle cx="200.19" cy="261.16" r="1.95"/>
<circle cx="218.09" cy="275.06" r="1.95"/>
<circle cx="202.35" cy="266.5" r="1.95"/>
<circle cx="202.63" cy="282.66" r="1.95"/>
<circle cx="221.06" cy="284.91" r="1.95"/>
<circle cx="238.28" cy="244.36" r="2.0" stroke-width="1.0"/>
<circle cx="236.02" cy="264.49" r="1.95"/>
<circle cx="211.1" cy="276.73" r="1.95"/>
<circle cx="219.7" cy="247.92" r="1.95"/>
<circle cx="195.24" cy="286.67" r="1.95"/>
<circle cx="214.3" cy="275.93" r="1.95"/>
<circle cx="177.22" cy="253.94" r="2.0" stroke-width="1.0"/>
<circle cx="197.58" cy="266.51" r="1.95"/>
<circle cx="220.56" cy="285.13" r="1.95"/>
<circle cx="269.3" cy="228.5" r="2.0" stroke-width="1.0"/>
<circle cx="222.6" cy="250.13" r="1.95"/>
<circle cx="207.33" cy="293.37" r="1.95"/>
<circle cx="216.01" cy="275.98" r="1.95"/>
<circle cx="202.33" cy="285.82" r="1.95"/>
<circle cx="199.26" cy="265.73" r="1.95"/>
<circle cx="198.74" cy="258.5" r="1.95"/>
<circle cx="197.64" cy="259.02" r="1.95"/>
<circle cx="224.11" cy="228.45" r="1.95"/>
<circle cx="215.31" cy="271.43" r="1.95"/>
<circle cx="250.81" cy="255.88" r="2.0" stroke-width="1.0"/>
<circle cx="204.52" cy="284.11" r="1.95"/>
<circle cx="219.55" cy="279.79" r="1.95"/>
<circle cx="218.52" cy="246.18" r="1.95"/>
<circle cx="213.55" cy="285.08" r="1.95"/>
<circle cx="201.39" cy="275.71" r="1.95"/>
<circle cx="197.9" cy="231.22" r="1.95"/>
<circle cx="215.01" cy="292.34" r="1.95"/>
<circle cx="204.65" cy="293.03" r="1.95"/>
<circle cx="234.01" cy="281.52" r="1.95"/>
<circle cx="216.91" cy="251.26" r="1.95"/>
<circle cx="198.35" cy="261.77" r="1.95"/>
<circle cx="192.82" cy="275.12" r="1.95"/>
<circle cx="202.46" cy="283.2" r="1.95"/>
<circle cx="214.65" cy="272.11" r="1.95"/>
<circle cx="209.06" cy="292.38" r="1.95"/>
<circle cx="198.55" cy="284.99" r="1.95"/>
<circle cx="201.13" cy="268.6" r="1.95"/>
<circle cx="213.31" cy="279.01" r="1.95"/>
<circle cx="205.23" cy="293.38" r="1.95"/>
<circle cx="239.1" cy="219.5" r="2.0" stroke-width="1.0"/>
<circle cx="199.94" cy="267.78" r="1.95"/>
<circle cx="202.52" cy="264.88" r="1.95"/>
<circle cx="226.34" cy="278.29" r="1.95"/>
<circle cx="248.7" cy="193.3" r="2.0" stroke-width="1.0"/>
<circle cx="199.18" cy="253.32" r="1.95"/>
<circle cx="167.28" cy="250.47" r="2.0" stroke-width="1.0"/>
<circle cx="236.72" cy="284.92" r="1.95"/>
<circle cx="203.91" cy="286.8" r="1.95"/>
<circle cx="177.39" cy="263.16" r="1.95"/>
<circle cx="198.83" cy="257.76" r="1.95"/>
<circle cx="181.57" cy="265.35" r="1.95"/>
<circle cx="215.14" cy="274.22" r="1.95"/>
<circle cx="196.21" cy="282.02" r="1.95"/>
<circle cx="202.9" cy="272.7" r="1.95"/>
<circle cx="220.76" cy="257.17" r="1.95"/>
<circle cx="193.22" cy="283.13" r="1.95"/>
<circle cx="196.64" cy="283.96" r="1.95"/>
<circle cx="203.07" cy="280.76" r="1.95"/>
<circle cx="247.09" cy="274.56" r="1.95"/>
<circle cx="213.68" cy="272.93" r="1.95"/>
<circle cx="199.36" cy="283.24" r="1.95"/>
<circle cx="200.22" cy="266.71" r="1.95"/>
<circle cx="200.28" cy="273.63" r="1.95"/>
<circle cx="219.43" cy="271.22" r="1.95"/>
<circle cx="199.17" cy="285.64" r="1.95"/>
<circle cx="257.6" cy="262.9" r="2.0" stroke-width="1.0"/>
<circle cx="210.66" cy="280.24" r="1.95"/>
<circle cx="202.13" cy="290.08" r="1.95"/>
<circle cx="210.54" cy="280.23" r="1.95"/>
<circle cx="203.1" cy="279.55" r="1.95"/>
<circle cx="257.53" cy="239.75" r="2.0" stroke-width="1.0"/>
<circle cx="202.05" cy="264.52" r="1.95"/>
<circle cx="226.8" cy="283.76" r="1.95"/>
<circle cx="235.03" cy="285.62" r="1.95"/>
<circle cx="220.52" cy="261.68" r="1.95"/>
<circle cx="217.02" cy="263.39" r="1.95"/>
<circle cx="199.56" cy="254.67" r="1.95"/>
<circle cx="199.41" cy="269" r="1.95"/>
<circle cx="250.98" cy="269.37" r="2.0" stroke-width="1.0"/>
<circle cx="207.58" cy="293.37" r="1.95"/>
<circle cx="216.33" cy="254.76" r="1.95"/>
<circle cx="202.92" cy="278.4" r="1.95"/>
<circle cx="221.69" cy="252.21" r="1.95"/>
<circle cx="204.61" cy="289.55" r="1.95"/>
<circle cx="203.58" cy="281.19" r="1.95"/>
<circle cx="201.51" cy="268.12" r="1.95"/>
<circle cx="196.51" cy="252.75" r="1.95"/>
<circle cx="209.91" cy="290.12" r="1.95"/>
<circle cx="245.34" cy="250.52" r="2.0" stroke-width="1.0"/>
<circle cx="219.51" cy="229.19" r="1.95"/>
<circle cx="216.19" cy="265.33" r="1.95"/>
<circle cx="251.11" cy="267.46" r="2.0" stroke-width="1.0"/>
<circle cx="209.67" cy="287.19" r="1.95"/>
<circle cx="217.05" cy="261.71" r="1.95"/>
<circle cx="203.33" cy="279.82" r="1.95"/>
<circle cx="214.61" cy="275.51" r="1.95"/>
<circle cx="119.6" cy="256.9" r="2.0" stroke-width="1.0"/>
<circle cx="196.35" cy="276.83" r="1.95"/>
<circle cx="205.87" cy="293.15" r="1.95"/>
<circle cx="187.83" cy="274.2" r="1.95"/>
<circle cx="177.9" cy="196.9" r="2.0" stroke-width="1.0"/>
<circle cx="215.92" cy="268.48" r="1.95"/>
<circle cx="202.73" cy="280.95" r="1.95"/>
<circle cx="214.61" cy="289.78" r="1.95"/>
<circle cx="208.03" cy="292.04" r="1.95"/>
<circle cx="221.17" cy="226.47" r="1.95"/>
<circle cx="213.55" cy="284.78" r="1.95"/>
<circle cx="204.34" cy="290.36" r="1.95"/>
<circle cx="219.54" cy="264.61" r="1.95"/>
<circle cx="216.54" cy="257.98" r="1.95"/>
<circle cx="199.59" cy="262.79" r="1.95"/>
<circle cx="199.79" cy="251.73" r="1.95"/>
<circle cx="241.09" cy="265.16" r="2.0" stroke-width="1.0"/>
<circle cx="201.43" cy="276.43" r="1.95"/>
<circle cx="209.76" cy="286.23" r="1.95"/>
<circle cx="198.5" cy="258.46" r="1.95"/>
<circle cx="209.08" cy="288.52" r="1.95"/>
<circle cx="212.29" cy="280.46" r="1.95"/>
<circle cx="196.38" cy="277" r="1.95"/>
<circle cx="203.04" cy="277.71" r="1.95"/>
<circle cx="216.8" cy="253.84" r="1.95"/>
<circle cx="200.97" cy="270.91" r="1.95"/>
<circle cx="252.24" cy="245.11" r="2.0" stroke-width="1.0"/>
<circle cx="195.32" cy="257.78" r="1.95"/>
<circle cx="226.71" cy="217.02" r="1.95"/>
<circle cx="211.25" cy="282.19" r="1.95"/>
<circle cx="174.24" cy="271.62" r="1.95"/>
<circle cx="221.96" cy="222.27" r="1.95"/>
<circle cx="192.65" cy="210.44" r="1.95"/>
<circle cx="185.29" cy="257.5" r="2.0" stroke-width="1.0"/>
<circle cx="253" cy="235.6" r="2.0" stroke-width="1.0"/>
<circle cx="219.32" cy="271.22" r="1.95"/>
<circle cx="216.28" cy="266.92" r="1.95"/>
<circle cx="227.36" cy="220.07" r="1.95"/>
<circle cx="228.54" cy="288.19" r="1.95"/>
<circle cx="202.8" cy="281.8" r="1.95"/>
<circle cx="180.2" cy="227.8" r="2.0" stroke-width="1.0"/>
<circle cx="204.13" cy="288.22" r="1.95"/>
<circle cx="211.53" cy="280.46" r="1.95"/>
<circle cx="199.56" cy="265.2" r="1.95"/>
<circle cx="211.24" cy="268.45" r="1.95"/>
<circle cx="237.42" cy="223.67" r="2.0" stroke-width="1.0"/>
<circle cx="202.79" cy="275.62" r="1.95"/>
<circle cx="232.23" cy="229.81" r="2.0" stroke-width="1.0"/>
<circle cx="196.5" cy="236.17" r="1.95"/>
<circle cx="220.39" cy="256.38" r="1.95"/>
<circle cx="197.98" cy="252.04" r="1.95"/>
<circle cx="203.01" cy="282.9" r="1.95"/>
<circle cx="195.84" cy="270.03" r="1.95"/>
<circle cx="203.83" cy="283.85" r="1.95"/>
<circle cx="216.79" cy="271.7" r="1.95"/>
<circle cx="200.14" cy="267.72" r="1.95"/>
<circle cx="201.33" cy="266.32" r="1.95"/>
<circle cx="216.58" cy="254.06" r="1.95"/>
<circle cx="211.45" cy="273.54" r="1.95"/>
<circle cx="201.93" cy="281.84" r="1.95"/>
<circle cx="200.57" cy="282.12" r="1.95"/>
<circle cx="212.74" cy="288.62" r="1.95"/>
<circle cx="203.56" cy="281.05" r="1.95"/>
<circle cx="209.97" cy="283.79" r="1.95"/>
<circle cx="213.35" cy="290.51" r="1.95"/>
<circle cx="207.18" cy="293.6" r="1.95"/>
<circle cx="213.69" cy="278.18" r="1.95"/>
<circle cx="228.89" cy="284.23" r="1.95"/>
<circle cx="228.84" cy="261.04" r="1.95"/>
<circle cx="204.18" cy="289.27" r="1.95"/>
<circle cx="209.69" cy="286.37" r="1.95"/>
<circle cx="198.61" cy="270.3" r="1.95"/>
<circle cx="209.75" cy="291.06" r="1.95"/>
<circle cx="211.81" cy="291.47" r="1.95"/>
<circle cx="227.78" cy="269.08" r="1.95"/>
<circle cx="210.96" cy="279.87" r="1.95"/>
<circle cx="202.76" cy="283.12" r="1.95"/>
<circle cx="205.45" cy="291.82" r="1.95"/>
<circle cx="149.7" cy="198.3" r="2.0" stroke-width="1.0"/>
<circle cx="213.43" cy="289.78" r="1.95"/>
<circle cx="203.74" cy="287.61" r="1.95"/>
<circle cx="200.13" cy="281.75" r="1.95"/>
<circle cx="218.95" cy="262.53" r="1.95"/>
<circle cx="219.92" cy="240.27" r="1.95"/>
<circle cx="203.93" cy="282.63" r="1.95"/>
<circle cx="197.96" cy="288.96" r="1.95"/>
<circle cx="214.64" cy="291.3" r="1.95"/>
<circle cx="199.06" cy="272.99" r="1.95"/>
<circle cx="211.79" cy="283.43" r="1.95"/>
<circle cx="216.77" cy="252.83" r="1.95"/>
<circle cx="243.75" cy="235.95" r="2.0" stroke-width="1.0"/>
<circle cx="249.5" cy="214.1" r="2.0" stroke-width="1.0"/>
<circle cx="228.41" cy="265.49" r="1.95"/>
<circle cx="210.31" cy="286.92" r="1.95"/>
<circle cx="213.59" cy="263.82" r="1.95"/>
<circle cx="232.95" cy="243.57" r="2.0" stroke-width="1.0"/>
<circle cx="209.2" cy="290.15" r="1.95"/>
<circle cx="204.63" cy="290.11" r="1.95"/>
<circle cx="218.37" cy="234.88" r="1.95"/>
<circle cx="197.16" cy="248.44" r="1.95"/>
<circle cx="209.83" cy="287.75" r="1.95"/>
<circle cx="212.13" cy="277.47" r="1.95"/>
<circle cx="221.19" cy="236.43" r="1.95"/>
<circle cx="203.3" cy="287.11" r="1.95"/>
<circle cx="239.44" cy="283.03" r="1.95"/>
<circle cx="198.44" cy="276.18" r="1.95"/>
<circle cx="204.3" cy="288.65" r="1.95"/>
<circle cx="192.08" cy="219.62" r="1.95"/>
<circle cx="166.53" cy="264.48" r="2.0" stroke-width="1.0"/>
<circle cx="200.1" cy="283.71" r="1.95"/>
<circle cx="203.32" cy="278.57" r="1.95"/>
<circle cx="215.44" cy="253.06" r="1.95"/>
<circle cx="239.04" cy="232.42" r="2.0" stroke-width="1.0"/>
<circle cx="175.25" cy="260.97" r="2.0" stroke-width="1.0"/>
<circle cx="202.1" cy="286.39" r="1.95"/>
<circle cx="205.82" cy="290.49" r="1.95"/>
<circle cx="211.91" cy="270.9" r="1.95"/>
<circle cx="201.53" cy="273.31" r="1.95"/>
<circle cx="189.95" cy="262.88" r="1.95"/>
<circle cx="212.23" cy="286.04" r="1.95"/>
<circle cx="189.71" cy="271.36" r="1.95"/>
<circle cx="202.21" cy="272.14" r="1.95"/>
<circle cx="218.83" cy="231.13" r="1.95"/>
<circle cx="196.93" cy="248.63" r="1.95"/>
<circle cx="211.19" cy="293.31" r="1.95"/>
<circle cx="220.27" cy="218.45" r="1.95"/>
<circle cx="202.05" cy="274.2" r="1.95"/>
<circle cx="202.61" cy="288.32" r="1.95"/>
<circle cx="210.18" cy="292.54" r="1.95"/>
<circle cx="212.14" cy="283.66" r="1.95"/>
<circle cx="203.66" cy="279.51" r="1.95"/>
<circle cx="211.33" cy="289" r="1.95"/>
<circle cx="205.79" cy="292.99" r="1.95"/>
<circle cx="203.29" cy="282.65" r="1.95"/>
<circle cx="253.13" cy="252.27" r="2.0" stroke-width="1.0"/>
<circle cx="172.53" cy="262.97" r="2.0" stroke-width="1.0"/>
<circle cx="232.4" cy="208.2" r="2.0" stroke-width="1.0"/>
<circle cx="200.7" cy="259.05" r="1.95"/>
<circle cx="203.02" cy="289.71" r="1.95"/>
<circle cx="204.1" cy="287.43" r="1.95"/>
<circle cx="248.45" cy="234.15" r="2.0" stroke-width="1.0"/>
<circle cx="240.11" cy="248.98" r="2.0" stroke-width="1.0"/>
<circle cx="223.46" cy="282" r="1.95"/>
<circle cx="209.23" cy="293.02" r="1.95"/>
<circle cx="252.7" cy="253.7" r="2.0" stroke-width="1.0"/>
<circle cx="197.28" cy="274.77" r="1.95"/>
<circle cx="205.52" cy="292.7" r="1.95"/>
<circle cx="176.74" cy="271.82" r="1.95"/>
<circle cx="200.87" cy="272.34" r="1.95"/>
<circle cx="203.18" cy="285.17" r="1.95"/>
<circle cx="241.29" cy="267.1" r="1.95"/>
<circle cx="193.48" cy="212.67" r="1.95"/>
<circle cx="219.53" cy="254.41" r="1.95"/>
<circle cx="241.96" cy="258.39" r="2.0" stroke-width="1.0"/>
<circle cx="199.77" cy="286.26" r="1.95"/>
<circle cx="210.14" cy="283.57" r="1.95"/>
<circle cx="168.7" cy="188.2" r="2.0" stroke-width="1.0"/>
<circle cx="195.12" cy="232.04" r="1.95"/>
<circle cx="167.5" cy="158.9" r="2.0" stroke-width="1.0"/>
<circle cx="210.42" cy="284.71" r="1.95"/>
<circle cx="205.45" cy="290.28" r="1.95"/>
<circle cx="205.54" cy="291.24" r="1.95"/>
<circle cx="217.25" cy="260.2" r="1.95"/>
<circle cx="211.93" cy="276.33" r="1.95"/>
<circle cx="199.82" cy="267.79" r="1.95"/>
<circle cx="212.36" cy="271.07" r="1.95"/>
<circle cx="209" cy="290.34" r="1.95"/>
<circle cx="220.76" cy="222.4" r="1.95"/>
<circle cx="212.76" cy="260.9" r="1.95"/>
<circle cx="225.01" cy="227.66" r="1.95"/>
<circle cx="239.55" cy="241.7" r="2.0" stroke-width="1.0"/>
<circle cx="179.79" cy="252.39" r="2.0" stroke-width="1.0"/>
<circle cx="240.87" cy="278.1" r="1.95"/>
<circle cx="205.88" cy="292.32" r="1.95"/>
<circle cx="159.71" cy="259.74" r="2.0" stroke-width="1.0"/>
<circle cx="201.37" cy="278.38" r="1.95"/>
<circle cx="199.55" cy="258.66" r="1.95"/>
<circle cx="217.74" cy="257.79" r="1.95"/>
<circle cx="208.51" cy="291.74" r="1.95"/>
<circle cx="215.16" cy="271.31" r="1.95"/>
<circle cx="208.76" cy="285.94" r="1.95"/>
<circle cx="211" cy="282.13" r="1.95"/>
<circle cx="201.1" cy="273.38" r="1.95"/>
<circle cx="205.09" cy="289.41" r="1.95"/>
<circle cx="199.78" cy="249.44" r="1.95"/>
<circle cx="213.93" cy="262.05" r="1.95"/>
<circle cx="217.49" cy="227.56" r="2.0" stroke-width="1.0"/>
<circle cx="212.71" cy="273.94" r="1.95"/>
<circle cx="193.48" cy="216.51" r="1.95"/>
<circle cx="201.77" cy="267.54" r="1.95"/>
<circle cx="201.78" cy="290.87" r="1.95"/>
<circle cx="171.04" cy="251.27" r="2.0" stroke-width="1.0"/>
<circle cx="220.27" cy="265.74" r="1.95"/>
<circle cx="217.6" cy="285.87" r="1.95"/>
<circle cx="217.25" cy="254.58" r="1.95"/>
<circle cx="204.03" cy="278.29" r="1.95"/>
<circle cx="207.23" cy="293.4" r="1.95"/>
<circle cx="169.4" cy="239.1" r="2.0" stroke-width="1.0"/>
<circle cx="185.37" cy="268.47" r="1.95"/>
<circle cx="210.24" cy="286.75" r="1.95"/>
<circle cx="199.17" cy="250.69" r="1.95"/>
<circle cx="227.37" cy="214.67" r="1.95"/>
<circle cx="196.14" cy="232.09" r="1.95"/>
<circle cx="201.72" cy="280.17" r="1.95"/>
<circle cx="201.23" cy="270.1" r="1.95"/>
<circle cx="193.11" cy="237.79" r="1.95"/>
<circle cx="200.78" cy="275.15" r="1.95"/>
<circle cx="206.16" cy="293.56" r="1.95"/>
<circle cx="211.48" cy="282.83" r="1.95"/>
<circle cx="203.13" cy="278.25" r="1.95"/>
<circle cx="230.58" cy="280.56" r="1.95"/>
<circle cx="205.91" cy="293.12" r="1.95"/>
<circle cx="231.42" cy="242.82" r="1.95"/>
<circle cx="197.08" cy="243.95" r="1.95"/>
<circle cx="211.79" cy="274.83" r="1.95"/>
<circle cx="208.92" cy="287.35" r="1.95"/>
<circle cx="203.87" cy="284.09" r="1.95"/>
<circle cx="204.43" cy="285.61" r="1.95"/>
<circle cx="198.85" cy="288.39" r="1.95"/>
<circle cx="229.32" cy="286.93" r="1.95"/>
<circle cx="251.88" cy="256.23" r="2.0" stroke-width="1.0"/>
<circle cx="200.71" cy="274.95" r="1.95"/>
<circle cx="198.53" cy="265.93" r="1.95"/>
<circle cx="195.12" cy="226.48" r="1.95"/>
<circle cx="198.47" cy="267.27" r="1.95"/>
<circle cx="205.6" cy="293.2" r="1.95"/>
<circle cx="217.64" cy="233.8" r="1.95"/>
<circle cx="219.41" cy="227.5" r="1.95"/>
<circle cx="198.39" cy="247.65" r="1.95"/>
<circle cx="209.23" cy="289.72" r="1.95"/>
<circle cx="211.59" cy="286.64" r="1.95"/>
<circle cx="205.04" cy="290.45" r="1.95"/>
<circle cx="211.26" cy="279.83" r="1.95"/>
<circle cx="196.29" cy="260.78" r="1.95"/>
<circle cx="198.19" cy="256.53" r="1.95"/>
<circle cx="181.72" cy="278.29" r="1.95"/>
<circle cx="221.12" cy="231.7" r="1.95"/>
<circle cx="196.39" cy="278.5" r="1.95"/>
<circle cx="217.03" cy="251.74" r="1.95"/>
<circle cx="221.5" cy="277.13" r="1.95"/>
<circle cx="194.31" cy="284.81" r="1.95"/>
<circle cx="236.68" cy="238.39" r="2.0" stroke-width="1.0"/>
<circle cx="208.98" cy="288.85" r="1.95"/>
<circle cx="210.5" cy="274.2" r="1.95"/>
<circle cx="204.62" cy="287.32" r="1.95"/>
<circle cx="171.86" cy="253.08" r="2.0" stroke-width="1.0"/>
<circle cx="262.9" cy="240.7" r="2.0" stroke-width="1.0"/>
<circle cx="201.9" cy="273.73" r="1.95"/>
<circle cx="256.38" cy="243.48" r="2.0" stroke-width="1.0"/>
<circle cx="228.45" cy="258.94" r="1.95"/>
<circle cx="200.56" cy="260.77" r="1.95"/>
<circle cx="200.34" cy="276.04" r="1.95"/>
<circle cx="216.9" cy="288.02" r="1.95"/>
<circle cx="197.76" cy="250.64" r="1.95"/>
<circle cx="218.51" cy="238.57" r="1.95"/>
<circle cx="234.81" cy="247.62" r="2.0" stroke-width="1.0"/>
<circle cx="196.93" cy="288.52" r="1.95"/>
<circle cx="205.08" cy="291.72" r="1.95"/>
<circle cx="212.91" cy="281.13" r="1.95"/>
<circle cx="201.56" cy="271.12" r="1.95"/>
<circle cx="193.49" cy="230.96" r="1.95"/>
<circle cx="214.34" cy="260.47" r="1.95"/>
<circle cx="218.43" cy="239.73" r="1.95"/>
<circle cx="215.43" cy="260.94" r="1.95"/>
<circle cx="204.25" cy="286.11" r="1.95"/>
<circle cx="198.05" cy="246.74" r="1.95"/>
<circle cx="214.3" cy="270.32" r="1.95"/>
<circle cx="201.49" cy="275.41" r="1.95"/>
<circle cx="231.23" cy="215.78" r="2.0" stroke-width="1.0"/>
<circle cx="204.82" cy="289.53" r="1.95"/>
<circle cx="204.73" cy="291.94" r="1.95"/>
<circle cx="211.44" cy="277.37" r="1.95"/>
<circle cx="219.71" cy="269.86" r="1.95"/>
<circle cx="235.33" cy="278.38" r="1.95"/>
<circle cx="200.51" cy="275.93" r="1.95"/>
<circle cx="237.84" cy="271.99" r="1.95"/>
<circle cx="196.78" cy="212.82" r="2.0" stroke-width="1.0"/>
<circle cx="182.81" cy="277.34" r="1.95"/>
<circle cx="203" cy="293.09" r="1.95"/>
<circle cx="207.58" cy="292.66" r="1.95"/>
<circle cx="225.27" cy="238.6" r="1.95"/>
<circle cx="211.75" cy="278.02" r="1.95"/>
<circle cx="223.05" cy="280.67" r="1.95"/>
<circle cx="230.09" cy="252.21" r="1.95"/>
<circle cx="201.67" cy="270.53" r="1.95"/>
<circle cx="200.64" cy="265.23" r="1.95"/>
<circle cx="200.54" cy="282.99" r="1.95"/>
<circle cx="212.48" cy="273.42" r="1.95"/>
<circle cx="193.78" cy="246.1" r="1.95"/>
<circle cx="203.25" cy="284.66" r="1.95"/>
<circle cx="204.33" cy="287.15" r="1.95"/>
<circle cx="195.28" cy="285.13" r="1.95"/>
<circle cx="219.29" cy="252.45" r="1.95"/>
<circle cx="205.33" cy="291.58" r="1.95"/>
<circle cx="220.16" cy="211.18" r="2.0" stroke-width="1.0"/>
<circle cx="216.22" cy="253.64" r="1.95"/>
<circle cx="203.66" cy="282.42" r="1.95"/>
<circle cx="219.97" cy="269.05" r="1.95"/>
<circle cx="192.28" cy="214.57" r="1.95"/>
<circle cx="215.41" cy="263.65" r="1.95"/>
<circle cx="225.73" cy="267.72" r="1.95"/>
<circle cx="211.02" cy="292.8" r="1.95"/>
<circle cx="228.66" cy="274.33" r="1.95"/>
<circle cx="221.49" cy="233.86" r="1.95"/>
<circle cx="251.46" cy="230.45" r="2.0" stroke-width="1.0"/>
<circle cx="209.03" cy="291.52" r="1.95"/>
<circle cx="209.05" cy="285.36" r="1.95"/>
<circle cx="159.71" cy="260.75" r="2.0" stroke-width="1.0"/>
<circle cx="218.59" cy="243.54" r="1.95"/>
<circle cx="192.16" cy="271.53" r="1.95"/>
<circle cx="211.31" cy="283.36" r="1.95"/>
<circle cx="211.91" cy="273.77" r="1.95"/>
<circle cx="201.38" cy="268.32" r="1.95"/>
<circle cx="218.47" cy="266.95" r="1.95"/>
<circle cx="204.64" cy="285.07" r="1.95"/>
<circle cx="210.32" cy="287.79" r="1.95"/>
<circle cx="217.69" cy="271.58" r="1.95"/>
<circle cx="200.68" cy="287.72" r="1.95"/>
<circle cx="190.44" cy="250.85" r="1.95"/>
<circle cx="194.64" cy="242.17" r="1.95"/>
<circle cx="244.37" cy="246.2" r="2.0" stroke-width="1.0"/>
<circle cx="188.82" cy="282.75" r="1.95"/>
<circle cx="223.28" cy="287.45" r="1.95"/>
<circle cx="209.08" cy="290.64" r="1.95"/>
<circle cx="199.01" cy="257.75" r="1.95"/>
<circle cx="200.86" cy="267.59" r="1.95"/>
<circle cx="174.21" cy="258.56" r="2.0" stroke-width="1.0"/>
<circle cx="232.79" cy="226.2" r="2.0" stroke-width="1.0"/>
<circle cx="194.47" cy="253.02" r="1.95"/>
<circle cx="195.05" cy="247.29" r="1.95"/>
<circle cx="196.58" cy="290.61" r="1.95"/>
<circle cx="206.37" cy="293.22" r="1.95"/>
<circle cx="201.52" cy="252.56" r="1.95"/>
<circle cx="212.83" cy="289.19" r="1.95"/>
<circle cx="200.65" cy="256.76" r="1.95"/>
<circle cx="202.12" cy="269.56" r="1.95"/>
<circle cx="185.41" cy="284.07" r="2.0" stroke-width="1.0"/>
<circle cx="212.01" cy="274.91" r="1.95"/>
<circle cx="229.48" cy="210.75" r="2.0" stroke-width="1.0"/>
<circle cx="219.41" cy="232.45" r="1.95"/>
<circle cx="214.84" cy="257.06" r="1.95"/>
<circle cx="197.89" cy="264.96" r="1.95"/>
<circle cx="179.01" cy="277.6" r="1.95"/>
<circle cx="202.87" cy="281.21" r="1.95"/>
<circle cx="183.6" cy="193.2" r="2.0" stroke-width="1.0"/>
<circle cx="203.76" cy="286.24" r="1.95"/>
<circle cx="243.4" cy="249.72" r="2.0" stroke-width="1.0"/>
<circle cx="194.31" cy="233.91" r="1.95"/>
<circle cx="210" cy="287" r="1.95"/>
<circle cx="170.33" cy="266.38" r="2.0" stroke-width="1.0"/>
<circle cx="212.98" cy="292.25" r="1.95"/>
<circle cx="209.28" cy="284.08" r="1.95"/>
<circle cx="160.42" cy="257.4" r="2.0" stroke-width="1.0"/>
<circle cx="195.05" cy="247.82" r="1.95"/>
<circle cx="202.97" cy="281.55" r="1.95"/>
<circle cx="225.79" cy="284.38" r="1.95"/>
<circle cx="239.86" cy="262.44" r="1.95"/>
<circle cx="211.36" cy="282.12" r="1.95"/>
<circle cx="192.47" cy="272.26" r="1.95"/>
<circle cx="198.06" cy="257.87" r="1.95"/>
<circle cx="199.22" cy="249.77" r="1.95"/>
<circle cx="201.75" cy="272.75" r="1.95"/>
<circle cx="243.77" cy="271.81" r="1.95"/>
<circle cx="200.36" cy="255.41" r="1.95"/>
<circle cx="204.76" cy="291.33" r="1.95"/>
<circle cx="232.9" cy="269.1" r="1.95"/>
<circle cx="203.87" cy="290.84" r="1.95"/>
<circle cx="194.83" cy="264.34" r="1.95"/>
<circle cx="218.8" cy="236.08" r="1.95"/>
<circle cx="203.45" cy="277.18" r="1.95"/>
<circle cx="212.5" cy="283.13" r="1.95"/>
<circle cx="236.5" cy="279.2" r="1.95"/>
<circle cx="197.52" cy="221.05" r="1.95"/>
<circle cx="225.59" cy="216.79" r="1.95"/>
<circle cx="187.36" cy="283.76" r="1.95"/>
<circle cx="205.45" cy="291.01" r="1.95"/>
<circle cx="207.45" cy="293.29" r="1.95"/>
<circle cx="238.43" cy="282.56" r="1.95"/>
<circle cx="202.49" cy="280.82" r="1.95"/>
<circle cx="199.03" cy="256.12" r="1.95"/>
<circle cx="211.37" cy="279.94" r="1.95"/>
<circle cx="216.71" cy="262.02" r="1.95"/>
<circle cx="202.44" cy="291.59" r="1.95"/>
<circle cx="202.05" cy="276.57" r="1.95"/>
<circle cx="219.88" cy="259.78" r="1.95"/>
<circle cx="202.29" cy="280.39" r="1.95"/>
<circle cx="206.42" cy="293.21" r="1.95"/>
<circle cx="204.73" cy="287.17" r="1.95"/>
<circle cx="201.36" cy="264.41" r="1.95"/>
<circle cx="195.93" cy="235.07" r="1.95"/>
<circle cx="201.5" cy="277.08" r="1.95"/>
<circle cx="222.31" cy="218.41" r="1.95"/>
<circle cx="205.51" cy="291.19" r="1.95"/>
<circle cx="202.27" cy="278.51" r="1.95"/>
<circle cx="203.66" cy="284.84" r="1.95"/>
<circle cx="222.66" cy="241.04" r="1.95"/>
<circle cx="197.55" cy="283.66" r="1.95"/>
<circle cx="193.11" cy="225.03" r="1.95"/>
<circle cx="210.44" cy="283.24" r="1.95"/>
<circle cx="234.31" cy="266.15" r="1.95"/>
<circle cx="154.5" cy="237.5" r="2.0" stroke-width="1.0"/>
<circle cx="213.52" cy="251.18" r="1.95"/>
<circle cx="226.14" cy="289.19" r="1.95"/>
<circle cx="202.54" cy="279.96" r="1.95"/>
<circle cx="200" cy="278.14" r="1.95"/>
<circle cx="200.65" cy="260.83" r="1.95"/>
<circle cx="201.25" cy="263.2" r="1.95"/>
<circle cx="221.03" cy="286.85" r="1.95"/>
<circle cx="204.33" cy="289.6" r="1.95"/>
<circle cx="191.4" cy="285.98" r="1.95"/>
<circle cx="191.5" cy="223.58" r="1.95"/>
<circle cx="216.32" cy="270.61" r="1.95"/>
<circle cx="169.53" cy="262.88" r="2.0" stroke-width="1.0"/>
<circle cx="213.03" cy="292.91" r="1.95"/>
<circle cx="203.47" cy="285.44" r="1.95"/>
<circle cx="177.15" cy="274.72" r="1.95"/>
<circle cx="220.22" cy="255.64" r="1.95"/>
<circle cx="228.09" cy="214.69" r="2.0" stroke-width="1.0"/>
<circle cx="225.06" cy="241.14" r="1.95"/>
<circle cx="224.19" cy="279.41" r="1.95"/>
<circle cx="216.89" cy="228.55" r="1.95"/>
<circle cx="198.06" cy="288.05" r="1.95"/>
<circle cx="200.39" cy="285.63" r="1.95"/>
<circle cx="209.63" cy="285.69" r="1.95"/>
<circle cx="214.04" cy="254.02" r="1.95"/>
<circle cx="177.41" cy="260.08" r="1.95"/>
<circle cx="229.44" cy="245.89" r="1.95"/>
<circle cx="198.48" cy="252.83" r="1.95"/>
<circle cx="232.68" cy="275.5" r="1.95"/>
<circle cx="232.25" cy="269.98" r="1.95"/>
<circle cx="212.25" cy="281.41" r="1.95"/>
<circle cx="218.42" cy="275.53" r="1.95"/>
<circle cx="224.73" cy="277.58" r="1.95"/>
<circle cx="197.6" cy="249.38" r="1.95"/>
<circle cx="209.54" cy="289.68" r="1.95"/>
<circle cx="168.3" cy="231.9" r="2.0" stroke-width="1.0"/>
<circle cx="192.11" cy="275.26" r="1.95"/>
<circle cx="182.28" cy="268.05" r="1.95"/>
<circle cx="203.77" cy="283.29" r="1.95"/>
<circle cx="186.53" cy="283.31" r="1.95"/>
<circle cx="201.79" cy="266.04" r="1.95"/>
<circle cx="165.79" cy="255.84" r="2.0" stroke-width="1.0"/>
<circle cx="198.5" cy="269.61" r="1.95"/>
<circle cx="214.95" cy="267.44" r="1.95"/>
<circle cx="202.15" cy="263.83" r="1.95"/>
<circle cx="200.44" cy="270.84" r="1.95"/>
<circle cx="194.38" cy="267.53" r="1.95"/>
<circle cx="201.13" cy="272.61" r="1.95"/>
<circle cx="197.94" cy="289.11" r="1.95"/>
<circle cx="233" cy="218.25" r="2.0" stroke-width="1.0"/>
<circle cx="218.01" cy="253.34" r="1.95"/>
<circle cx="248.71" cy="270.79" r="1.95"/>
<circle cx="200.36" cy="287.73" r="1.95"/>
<circle cx="210.92" cy="280.78" r="1.95"/>
<circle cx="237.97" cy="279.38" r="1.95"/>
<circle cx="197.51" cy="249.19" r="1.95"/>
<circle cx="201.36" cy="262.93" r="1.95"/>
<circle cx="196.82" cy="246.97" r="1.95"/>
<circle cx="202.14" cy="277.38" r="1.95"/>
<circle cx="202.93" cy="290.44" r="1.95"/>
<circle cx="197.02" cy="226.58" r="1.95"/>
<circle cx="212.78" cy="262.84" r="1.95"/>
<circle cx="216.03" cy="280.26" r="1.95"/>
<circle cx="203.35" cy="278.92" r="1.95"/>
<circle cx="211.2" cy="280.86" r="1.95"/>
<circle cx="201.99" cy="271.54" r="1.95"/>
<circle cx="186.8" cy="230.2" r="2.0" stroke-width="1.0"/>
<circle cx="232" cy="264.21" r="1.95"/>
<circle cx="223.31" cy="231.02" r="1.95"/>
<circle cx="191.1" cy="207.4" r="2.0" stroke-width="1.0"/>
<circle cx="212.82" cy="284.96" r="1.95"/>
<circle cx="202.75" cy="290.16" r="1.95"/>
<circle cx="164.13" cy="264.97" r="2.0" stroke-width="1.0"/>
<circle cx="211.55" cy="278.42" r="1.95"/>
<circle cx="202.3" cy="279.08" r="1.95"/>
<circle cx="213.02" cy="267.22" r="1.95"/>
<circle cx="209.93" cy="285.63" r="1.95"/>
<circle cx="209.57" cy="286.16" r="1.95"/>
<circle cx="200.52" cy="292.32" r="1.95"/>
<circle cx="204.19" cy="284.71" r="1.95"/>
<circle cx="199.52" cy="250.11" r="1.95"/>
<circle cx="187.86" cy="260.59" r="2.0" stroke-width="1.0"/>
<circle cx="199.67" cy="269.11" r="1.95"/>
<circle cx="198.69" cy="277.45" r="1.95"/>
<circle cx="229.64" cy="261.6" r="1.95"/>
<circle cx="214.93" cy="284.8" r="1.95"/>
<circle cx="216.79" cy="291.18" r="1.95"/>
<circle cx="204.31" cy="286.07" r="1.95"/>
<circle cx="209.55" cy="285.69" r="1.95"/>
<circle cx="204" cy="284.08" r="1.95"/>
<circle cx="204.13" cy="284.86" r="1.95"/>
<circle cx="198.09" cy="248.3" r="1.95"/>
<circle cx="211.53" cy="272.73" r="1.95"/>
<circle cx="210.98" cy="281.81" r="1.95"/>
<circle cx="198.42" cy="245.12" r="1.95"/>
<circle cx="216.7" cy="277.45" r="1.95"/>
<circle cx="157.5" cy="221.3" r="2.0" stroke-width="1.0"/>
<circle cx="230.67" cy="267.44" r="1.95"/>
<circle cx="198.5" cy="280.45" r="1.95"/>
<circle cx="214.85" cy="248.37" r="1.95"/>
<circle cx="201.88" cy="279.7" r="1.95"/>
<circle cx="195.36" cy="270.57" r="1.95"/>
<circle cx="232.55" cy="269.35" r="1.95"/>
<circle cx="200.31" cy="249.26" r="1.95"/>
<circle cx="240.5" cy="264.99" r="2.0" stroke-width="1.0"/>
<circle cx="199.5" cy="248.38" r="1.95"/>
<circle cx="241.01" cy="278.77" r="1.95"/>
<circle cx="197.18" cy="278.3" r="1.95"/>
<circle cx="240.06" cy="283.68" r="2.0" stroke-width="1.0"/>
<circle cx="205.21" cy="289.41" r="1.95"/>
<circle cx="201.33" cy="273.35" r="1.95"/>
<circle cx="208.07" cy="293.04" r="1.95"/>
<circle cx="199.82" cy="268.74" r="1.95"/>
<circle cx="203.08" cy="281.84" r="1.95"/>
<circle cx="236.94" cy="253.76" r="2.0" stroke-width="1.0"/>
<circle cx="225.96" cy="284.35" r="1.95"/>
<circle cx="210.77" cy="279.42" r="1.95"/>
<circle cx="197.33" cy="220.17" r="1.95"/>
<circle cx="246.72" cy="249.49" r="2.0" stroke-width="1.0"/>
<circle cx="179.9" cy="280.08" r="2.0" stroke-width="1.0"/>
<circle cx="199.14" cy="286.66" r="1.95"/>
<circle cx="180.2" cy="208.3" r="2.0" stroke-width="1.0"/>
<circle cx="215.7" cy="282.56" r="1.95"/>
<circle cx="210.19" cy="290.26" r="1.95"/>
<circle cx="195.42" cy="278.5" r="1.95"/>
<circle cx="213.66" cy="277.25" r="1.95"/>
<circle cx="234.64" cy="267.8" r="1.95"/>
<circle cx="243.1" cy="276.96" r="1.95"/>
<circle cx="246.6" cy="194.5" r="2.0" stroke-width="1.0"/>
<circle cx="201.16" cy="278.7" r="1.95"/>
<circle cx="201.8" cy="274.93" r="1.95"/>
<circle cx="199.91" cy="276.65" r="1.95"/>
<circle cx="199.9" cy="276.07" r="1.95"/>
<circle cx="211.79" cy="279.94" r="1.95"/>
<circle cx="224.26" cy="222.4" r="1.95"/>
<circle cx="212.54" cy="277.98" r="1.95"/>
<circle cx="211.44" cy="283.64" r="1.95"/>
<circle cx="230.8" cy="287.87" r="1.95"/>
<circle cx="204.56" cy="287.56" r="1.95"/>
<circle cx="215.2" cy="288.76" r="1.95"/>
<circle cx="212.54" cy="280.28" r="1.95"/>
<circle cx="220.11" cy="292.61" r="1.95"/>
<circle cx="203" cy="276.25" r="1.95"/>
<circle cx="205" cy="291.93" r="1.95"/>
<circle cx="225.45" cy="285.87" r="1.95"/>
<circle cx="216.67" cy="252.39" r="1.95"/>
<circle cx="179.1" cy="262.68" r="1.95"/>
<circle cx="228.71" cy="275.93" r="1.95"/>
<circle cx="205.3" cy="292.03" r="1.95"/>
<circle cx="209.97" cy="284.73" r="1.95"/>
<circle cx="205.15" cy="288.75" r="1.95"/>
<circle cx="214.92" cy="257.2" r="1.95"/>
<circle cx="213.89" cy="244.68" r="1.95"/>
<circle cx="186.7" cy="239.88" r="2.0" stroke-width="1.0"/>
<circle cx="192.05" cy="262.18" r="1.95"/>
<circle cx="214.29" cy="273" r="1.95"/>
<circle cx="204.83" cy="289.67" r="1.95"/>
<circle cx="226.88" cy="288.65" r="1.95"/>
<circle cx="227" cy="186.3" r="2.0" stroke-width="1.0"/>
<circle cx="205.8" cy="293.41" r="1.95"/>
<circle cx="204.59" cy="286.61" r="1.95"/>
<circle cx="214.16" cy="268.26" r="1.95"/>
<circle cx="245.61" cy="274.44" r="1.95"/>
<circle cx="242.97" cy="237.56" r="2.0" stroke-width="1.0"/>
<circle cx="203.74" cy="284.97" r="1.95"/>
<circle cx="215.89" cy="265.74" r="1.95"/>
<circle cx="230.37" cy="264.77" r="1.95"/>
<circle cx="224.59" cy="272.86" r="1.95"/>
<circle cx="201.68" cy="282.89" r="1.95"/>
<circle cx="201.95" cy="276.35" r="1.95"/>
<circle cx="219.84" cy="275.76" r="1.95"/>
<circle cx="202.82" cy="283.23" r="1.95"/>
<circle cx="200.87" cy="249.58" r="1.95"/>
<circle cx="196.02" cy="234.54" r="1.95"/>
<circle cx="194.5" cy="216.39" r="1.95"/>
<circle cx="212.99" cy="267.51" r="1.95"/>
<circle cx="198.44" cy="287.58" r="1.95"/>
<circle cx="211.65" cy="288.37" r="1.95"/>
<circle cx="214.63" cy="264.74" r="1.95"/>
<circle cx="204.34" cy="286.02" r="1.95"/>
<circle cx="272.9" cy="227.4" r="2.0" stroke-width="1.0"/>
<circle cx="223.72" cy="273.38" r="1.95"/>
<circle cx="209.4" cy="293.12" r="1.95"/>
<circle cx="225.68" cy="288.9" r="1.95"/>
<circle cx="208.27" cy="292.4" r="1.95"/>
<circle cx="210.15" cy="282.18" r="1.95"/>
<circle cx="213.77" cy="292.39" r="1.95"/>
<circle cx="197.68" cy="258.78" r="1.95"/>
<circle cx="220.04" cy="286.69" r="1.95"/>
<circle cx="189.22" cy="222.09" r="1.95"/>
<circle cx="247.3" cy="225" r="2.0" stroke-width="1.0"/>
<circle cx="204.42" cy="290.89" r="1.95"/>
<circle cx="211.2" cy="279.17" r="1.95"/>
<circle cx="269.6" cy="219.6" r="2.0" stroke-width="1.0"/>
<circle cx="198.79" cy="283.75" r="1.95"/>
<circle cx="194.73" cy="243.66" r="1.95"/>
<circle cx="218.94" cy="265.68" r="1.95"/>
<circle cx="211.42" cy="287.76" r="1.95"/>
<circle cx="201.39" cy="274.65" r="1.95"/>
<circle cx="238.71" cy="242.27" r="2.0" stroke-width="1.0"/>
<circle cx="223.71" cy="280.32" r="1.95"/>
<circle cx="218.21" cy="285.69" r="1.95"/>
<circle cx="243.95" cy="270.5" r="1.95"/>
<circle cx="249.93" cy="268.79" r="2.0" stroke-width="1.0"/>
<circle cx="202.55" cy="275.23" r="1.95"/>
<circle cx="217.13" cy="233.43" r="1.95"/>
<circle cx="210.25" cy="289.22" r="1.95"/>
<circle cx="201.02" cy="265.31" r="1.95"/>
<circle cx="191.47" cy="284.98" r="1.95"/>
<circle cx="229.18" cy="284.45" r="1.95"/>
<circle cx="204.49" cy="281.97" r="1.95"/>
<circle cx="198.81" cy="274.73" r="1.95"/>
<circle cx="217.29" cy="275.27" r="1.95"/>
<circle cx="176.15" cy="269.83" r="1.95"/>
<circle cx="203.92" cy="281.71" r="1.95"/>
<circle cx="203.07" cy="278" r="1.95"/>
<circle cx="217.47" cy="250.03" r="1.95"/>
<circle cx="189.27" cy="268.19" r="1.95"/>
<circle cx="224.46" cy="284.99" r="1.95"/>
<circle cx="202" cy="274.7" r="1.95"/>
<circle cx="184.1" cy="260.34" r="2.0" stroke-width="1.0"/>
<circle cx="193.65" cy="225.13" r="1.95"/>
<circle cx="195.78" cy="254.83" r="1.95"/>
<circle cx="197.23" cy="262.02" r="1.95"/>
<circle cx="201.46" cy="278.93" r="1.95"/>
<circle cx="200.58" cy="276.56" r="1.95"/>
<circle cx="218.87" cy="259.32" r="1.95"/>
<circle cx="217.45" cy="247.94" r="1.95"/>
<circle cx="237.15" cy="279.51" r="1.95"/>
<circle cx="214.29" cy="245.51" r="1.95"/>
<circle cx="198.31" cy="288.17" r="1.95"/>
<circle cx="197.18" cy="291.23" r="1.95"/>
<circle cx="215.38" cy="258.31" r="1.95"/>
<circle cx="215.12" cy="267.9" r="1.95"/>
<circle cx="201.75" cy="254.42" r="1.95"/>
<circle cx="194.19" cy="289.17" r="1.95"/>
<circle cx="202.82" cy="289.72" r="1.95"/>
<circle cx="214.28" cy="278.16" r="1.95"/>
<circle cx="202.38" cy="288.78" r="1.95"/>
<circle cx="222.43" cy="213.26" r="1.95"/>
<circle cx="208.88" cy="291.61" r="1.95"/>
<circle cx="181.63" cy="247.78" r="2.0" stroke-width="1.0"/>
<circle cx="213.13" cy="261.56" r="1.95"/>
<circle cx="211.83" cy="276.16" r="1.95"/>
<circle cx="185.2" cy="225.59" r="2.0" stroke-width="1.0"/>
<circle cx="211.99" cy="271.95" r="1.95"/>
<circle cx="222.11" cy="261.78" r="1.95"/>
<circle cx="204.58" cy="286.8" r="1.95"/>
<circle cx="214.79" cy="269.35" r="1.95"/>
<circle cx="211.41" cy="276.95" r="1.95"/>
<circle cx="185.85" cy="275.07" r="1.95"/>
<circle cx="215.58" cy="255.77" r="1.95"/>
<circle cx="215.84" cy="275.04" r="1.95"/>
<circle cx="210.4" cy="284.88" r="1.95"/>
<circle cx="240.6" cy="237.05" r="2.0" stroke-width="1.0"/>
<circle cx="204.24" cy="288.82" r="1.95"/>
<circle cx="183.92" cy="267.74" r="1.95"/>
<circle cx="197.7" cy="291.08" r="1.95"/>
<circle cx="218.26" cy="277.73" r="1.95"/>
<circle cx="188.43" cy="228.14" r="2.0" stroke-width="1.0"/>
<circle cx="204.53" cy="285.27" r="1.95"/>
<circle cx="203.44" cy="275.78" r="1.95"/>
<circle cx="209.61" cy="283.28" r="1.95"/>
<circle cx="214.72" cy="278.65" r="1.95"/>
<circle cx="225.8" cy="253.45" r="1.95"/>
<circle cx="212.78" cy="274.23" r="1.95"/>
<circle cx="197.62" cy="268.42" r="1.95"/>
<circle cx="202.06" cy="283.46" r="1.95"/>
<circle cx="200.39" cy="272.49" r="1.95"/>
<circle cx="210.33" cy="293.14" r="1.95"/>
<circle cx="209.79" cy="287.19" r="1.95"/>
<circle cx="203.09" cy="275.51" r="1.95"/>
<circle cx="211.55" cy="272.88" r="1.95"/>
<circle cx="207.9" cy="293.17" r="1.95"/>
<circle cx="216.5" cy="244.96" r="1.95"/>
<circle cx="175.12" cy="257.17" r="2.0" stroke-width="1.0"/>
<circle cx="214.65" cy="267.48" r="1.95"/>
<circle cx="202.75" cy="280.19" r="1.95"/>
<circle cx="223.91" cy="265.18" r="1.95"/>
<circle cx="253.81" cy="256.82" r="2.0" stroke-width="1.0"/>
<circle cx="238.45" cy="248.48" r="2.0" stroke-width="1.0"/>
<circle cx="193.11" cy="289.23" r="1.95"/>
<circle cx="201.15" cy="263.24" r="1.95"/>
<circle cx="214.56" cy="269.39" r="1.95"/>
<circle cx="190.57" cy="266.79" r="1.95"/>
<circle cx="212.43" cy="280.09" r="1.95"/>
<circle cx="191.71" cy="273.65" r="1.95"/>
<circle cx="165.35" cy="262.35" r="2.0" stroke-width="1.0"/>
<circle cx="204.41" cy="285.93" r="1.95"/>
<circle cx="219.02" cy="280.71" r="1.95"/>
<circle cx="219.56" cy="247.94" r="1.95"/>
<circle cx="201.23" cy="280.01" r="1.95"/>
<circle cx="201.01" cy="287.58" r="1.95"/>
<circle cx="197.75" cy="221.85" r="1.95"/>
<circle cx="214.67" cy="276.26" r="1.95"/>
<circle cx="209.73" cy="283.68" r="1.95"/>
<circle cx="202.61" cy="279.63" r="1.95"/>
<circle cx="190.17" cy="256.49" r="1.95"/>
<circle cx="219.89" cy="216.09" r="1.95"/>
<circle cx="220.88" cy="274.79" r="1.95"/>
<circle cx="210.64" cy="282.63" r="1.95"/>
<circle cx="216.74" cy="253.55" r="1.95"/>
<circle cx="208.88" cy="289.38" r="1.95"/>
<circle cx="203.11" cy="287.76" r="1.95"/>
<circle cx="190.8" cy="267.07" r="1.95"/>
<circle cx="219.11" cy="266.23" r="1.95"/>
<circle cx="203.45" cy="279.9" r="1.95"/>
<circle cx="203.61" cy="284.74" r="1.95"/>
<circle cx="233.26" cy="274.27" r="1.95"/>
<circle cx="203.4" cy="277.15" r="1.95"/>
<circle cx="197.56" cy="286.23" r="1.95"/>
<circle cx="195.59" cy="273.61" r="1.95"/>
<circle cx="233.16" cy="282.14" r="1.95"/>
<circle cx="215.13" cy="262.39" r="1.95"/>
<circle cx="218.82" cy="244.57" r="1.95"/>
<circle cx="211.35" cy="276.59" r="1.95"/>
<circle cx="210.71" cy="282.99" r="1.95"/>
<circle cx="230.88" cy="260.31" r="1.95"/>
<circle cx="200.66" cy="286.21" r="1.95"/>
<circle cx="229.65" cy="228.7" r="2.0" stroke-width="1.0"/>
<circle cx="214.64" cy="263.69" r="1.95"/>
<circle cx="204.7" cy="287.63" r="1.95"/>
<circle cx="202.55" cy="287.03" r="1.95"/>
<circle cx="201.87" cy="274.52" r="1.95"/>
<circle cx="211.92" cy="273.95" r="1.95"/>
<circle cx="191.97" cy="225.16" r="1.95"/>
<circle cx="205.11" cy="291.54" r="1.95"/>
<circle cx="204.12" cy="280.02" r="1.95"/>
<circle cx="218.65" cy="259.78" r="1.95"/>
<circle cx="191.59" cy="211.66" r="1.95"/>
<circle cx="201.89" cy="277.69" r="1.95"/>
<circle cx="201.75" cy="267.72" r="1.95"/>
<circle cx="196.48" cy="234.22" r="1.95"/>
<circle cx="211.88" cy="292.25" r="1.95"/>
<circle cx="209.34" cy="291.22" r="1.95"/>
<circle cx="213.2" cy="260.69" r="1.95"/>
<circle cx="246.38" cy="270.67" r="1.95"/>
<circle cx="199.28" cy="253.94" r="1.95"/>
<circle cx="205.26" cy="288.28" r="1.95"/>
<circle cx="215.87" cy="236.31" r="1.95"/>
<circle cx="215.7" cy="273.86" r="1.95"/>
<circle cx="202.99" cy="280.71" r="1.95"/>
<circle cx="211.56" cy="276.9" r="1.95"/>
<circle cx="212.2" cy="267.71" r="1.95"/>
<circle cx="199.78" cy="262.63" r="1.95"/>
<circle cx="205.26" cy="291.64" r="1.95"/>
<circle cx="198.8" cy="282.93" r="1.95"/>
<circle cx="195.11" cy="221.96" r="1.95"/>
<circle cx="211.12" cy="280.66" r="1.95"/>
<circle cx="256.61" cy="262.06" r="2.0" stroke-width="1.0"/>
<circle cx="205.3" cy="292.81" r="1.95"/>
<circle cx="194.64" cy="225.79" r="1.95"/>
<circle cx="217.64" cy="227" r="2.0" stroke-width="1.0"/>
<circle cx="203.96" cy="293.6" r="1.95"/>
<circle cx="200.36" cy="261.25" r="1.95"/>
<circle cx="235.59" cy="278.28" r="1.95"/>
<circle cx="214.93" cy="263.84" r="1.95"/>
<circle cx="202.5" cy="277.86" r="1.95"/>
<circle cx="215.1" cy="283.84" r="1.95"/>
<circle cx="201.53" cy="279.2" r="1.95"/>
<circle cx="140.2" cy="256.9" r="2.0" stroke-width="1.0"/>
<circle cx="204.86" cy="290.11" r="1.95"/>
<circle cx="209.32" cy="285.83" r="1.95"/>
<circle cx="213.72" cy="273.35" r="1.95"/>
<circle cx="212.16" cy="278.27" r="1.95"/>
<circle cx="228.13" cy="238.59" r="1.95"/>
<circle cx="190.68" cy="276.22" r="1.95"/>
<circle cx="200.71" cy="291.09" r="1.95"/>
<circle cx="197.17" cy="266.29" r="1.95"/>
<circle cx="195.01" cy="285.47" r="1.95"/>
<circle cx="206.38" cy="293.04" r="1.95"/>
<circle cx="204.73" cy="287.26" r="1.95"/>
<circle cx="220.75" cy="268.9" r="1.95"/>
<circle cx="198.57" cy="274.18" r="1.95"/>
<circle cx="209.68" cy="284.83" r="1.95"/>
<circle cx="217.28" cy="266.64" r="1.95"/>
<circle cx="202.91" cy="278.88" r="1.95"/>
<circle cx="202.78" cy="278.42" r="1.95"/>
<circle cx="213.07" cy="264.64" r="1.95"/>
<circle cx="202.89" cy="287.77" r="1.95"/>
<circle cx="205.73" cy="291.5" r="1.95"/>
<circle cx="236.42" cy="221.69" r="2.0" stroke-width="1.0"/>
<circle cx="196.28" cy="214.39" r="1.95"/>
<circle cx="216.4" cy="292.96" r="1.95"/>
<circle cx="198.88" cy="279.04" r="1.95"/>
<circle cx="210.51" cy="277.39" r="1.95"/>
<circle cx="234.11" cy="248.04" r="2.0" stroke-width="1.0"/>
<circle cx="220.79" cy="243.76" r="1.95"/>
<circle cx="190.07" cy="271.89" r="1.95"/>
<circle cx="198.89" cy="249.41" r="1.95"/>
<circle cx="200.6" cy="275.36" r="1.95"/>
<circle cx="203.62" cy="278.31" r="1.95"/>
<circle cx="221.09" cy="279.07" r="1.95"/>
<circle cx="205.69" cy="292.81" r="1.95"/>
<circle cx="213.13" cy="262.4" r="1.95"/>
<circle cx="215.7" cy="293.03" r="1.95"/>
<circle cx="207.97" cy="291.75" r="1.95"/>
<circle cx="245" cy="226.2" r="2.0" stroke-width="1.0"/>
<circle cx="203.81" cy="289.22" r="1.95"/>
<circle cx="216.42" cy="257.48" r="1.95"/>
<circle cx="193.1" cy="192.2" r="2.0" stroke-width="1.0"/>
<circle cx="200.35" cy="251.2" r="1.95"/>
<circle cx="218.81" cy="266.68" r="1.95"/>
<circle cx="186.06" cy="271.78" r="1.95"/>
<circle cx="196.95" cy="262.37" r="1.95"/>
<circle cx="214.73" cy="265.69" r="1.95"/>
<circle cx="201.01" cy="272.46" r="1.95"/>
<circle cx="227" cy="220.91" r="1.95"/>
<circle cx="205.57" cy="292.68" r="1.95"/>
<circle cx="209.21" cy="283.46" r="1.95"/>
<circle cx="194.93" cy="215.08" r="1.95"/>
<circle cx="209.99" cy="292.67" r="1.95"/>
<circle cx="215.96" cy="270.17" r="1.95"/>
<circle cx="210.97" cy="283.53" r="1.95"/>
<circle cx="198.66" cy="249.23" r="1.95"/>
<circle cx="202.21" cy="272.67" r="1.95"/>
<circle cx="209.06" cy="285.76" r="1.95"/>
<circle cx="215.21" cy="266.96" r="1.95"/>
<circle cx="193.07" cy="268.46" r="1.95"/>
<circle cx="215.99" cy="263.04" r="1.95"/>
<circle cx="194.08" cy="251.19" r="1.95"/>
<circle cx="201.5" cy="265.79" r="1.95"/>
<circle cx="221.79" cy="250.66" r="1.95"/>
<circle cx="204.65" cy="283.25" r="1.95"/>
<circle cx="202.48" cy="258.6" r="1.95"/>
<circle cx="201.72" cy="268.22" r="1.95"/>
<circle cx="204.18" cy="285.69" r="1.95"/>
<circle cx="239.19" cy="269.84" r="1.95"/>
<circle cx="186.92" cy="269" r="1.95"/>
<circle cx="209.79" cy="293.15" r="1.95"/>
<circle cx="199.51" cy="273.4" r="1.95"/>
<circle cx="209.69" cy="285.38" r="1.95"/>
<circle cx="216.67" cy="287.49" r="1.95"/>
<circle cx="211.18" cy="280.3" r="1.95"/>
<circle cx="204.31" cy="282.56" r="1.95"/>
<circle cx="214.92" cy="272.62" r="1.95"/>
<circle cx="229.23" cy="268.11" r="1.95"/>
<circle cx="202.63" cy="275.82" r="1.95"/>
<circle cx="199.37" cy="267.83" r="1.95"/>
<circle cx="210.56" cy="277.62" r="1.95"/>
<circle cx="221.55" cy="273.21" r="1.95"/>
<circle cx="204.79" cy="293.18" r="1.95"/>
<circle cx="214.79" cy="278.41" r="1.95"/>
<circle cx="203.71" cy="282.09" r="1.95"/>
<circle cx="199.25" cy="256.9" r="1.95"/>
<circle cx="202.01" cy="281.62" r="1.95"/>
<circle cx="240.15" cy="259.73" r="2.0" stroke-width="1.0"/>
<circle cx="198.82" cy="261.94" r="1.95"/>
<circle cx="197.22" cy="273.54" r="1.95"/>
<circle cx="216.2" cy="264.63" r="1.95"/>
<circle cx="217.1" cy="249.45" r="1.95"/>
<circle cx="195.17" cy="262.66" r="1.95"/>
<circle cx="204.16" cy="290.71" r="1.95"/>
<circle cx="195.27" cy="273.76" r="1.95"/>
<circle cx="251.16" cy="247.08" r="2.0" stroke-width="1.0"/>
<circle cx="247.98" cy="258.05" r="2.0" stroke-width="1.0"/>
<circle cx="209.45" cy="283.91" r="1.95"/>
<circle cx="213.24" cy="272.23" r="1.95"/>
<circle cx="216.11" cy="267.41" r="1.95"/>
<circle cx="193.35" cy="217.43" r="1.95"/>
<circle cx="199.99" cy="276.27" r="1.95"/>
<circle cx="224.38" cy="273.17" r="1.95"/>
<circle cx="209.26" cy="284.28" r="1.95"/>
<circle cx="198.16" cy="256.76" r="1.95"/>
<circle cx="198.39" cy="243.02" r="1.95"/>
<circle cx="219.88" cy="266.24" r="1.95"/>
<circle cx="163.7" cy="145.3" r="2.0" stroke-width="1.0"/>
<circle cx="192.12" cy="209.69" r="2.0" stroke-width="1.0"/>
<circle cx="194.76" cy="210.38" r="1.95"/>
<circle cx="219.83" cy="278.03" r="1.95"/>
<circle cx="202.7" cy="290.99" r="1.95"/>
<circle cx="211.64" cy="275.21" r="1.95"/>
<circle cx="201.54" cy="272.2" r="1.95"/>
<circle cx="212.94" cy="267.59" r="1.95"/>
<circle cx="197.46" cy="254.54" r="1.95"/>
<circle cx="201.01" cy="267.28" r="1.95"/>
<circle cx="250.36" cy="230.84" r="2.0" stroke-width="1.0"/>
<circle cx="216.28" cy="292" r="1.95"/>
<circle cx="204.48" cy="291.85" r="1.95"/>
<circle cx="195.85" cy="246.58" r="1.95"/>
<circle cx="224.39" cy="224.71" r="1.95"/>
<circle cx="203.94" cy="285.54" r="1.95"/>
<circle cx="199.79" cy="270.79" r="1.95"/>
<circle cx="200.39" cy="259.43" r="1.95"/>
<circle cx="223.71" cy="257.81" r="1.95"/>
<circle cx="200.78" cy="289.59" r="1.95"/>
<circle cx="194.13" cy="240.81" r="1.95"/>
<circle cx="239.95" cy="266.3" r="1.95"/>
<circle cx="189.08" cy="253.53" r="1.95"/>
<circle cx="198.44" cy="265.32" r="1.95"/>
<circle cx="202.63" cy="269.25" r="1.95"/>
<circle cx="203.8" cy="283.9" r="1.95"/>
<circle cx="203.71" cy="284.82" r="1.95"/>
<circle cx="209.05" cy="288.48" r="1.95"/>
<circle cx="216.01" cy="237.3" r="1.95"/>
<circle cx="202.48" cy="283.65" r="1.95"/>
<circle cx="213.51" cy="261.58" r="1.95"/>
<circle cx="217.15" cy="273.12" r="1.95"/>
<circle cx="213.26" cy="259.45" r="1.95"/>
<circle cx="227.66" cy="253.89" r="1.95"/>
<circle cx="224.24" cy="218.29" r="1.95"/>
<circle cx="202.02" cy="272.99" r="1.95"/>
<circle cx="205.51" cy="293.18" r="1.95"/>
<circle cx="202.48" cy="267.64" r="1.95"/>
<circle cx="229.54" cy="246.46" r="2.0" stroke-width="1.0"/>
<circle cx="213.92" cy="273.91" r="1.95"/>
<circle cx="214.13" cy="273.51" r="1.95"/>
<circle cx="199.51" cy="261.7" r="1.95"/>
<circle cx="180.49" cy="258.77" r="1.95"/>
<circle cx="210.77" cy="278.76" r="1.95"/>
<circle cx="203.31" cy="278.61" r="1.95"/>
<circle cx="215.32" cy="258.1" r="1.95"/>
<circle cx="219.06" cy="246.17" r="1.95"/>
<circle cx="221.08" cy="245.37" r="1.95"/>
<circle cx="222.53" cy="273.46" r="1.95"/>
<circle cx="200.86" cy="271.76" r="1.95"/>
<circle cx="199.34" cy="255.11" r="1.95"/>
<circle cx="204.25" cy="290.4" r="1.95"/>
<circle cx="211.01" cy="278.77" r="1.95"/>
<circle cx="205.62" cy="293.54" r="1.95"/>
<circle cx="235.85" cy="280.29" r="1.95"/>
<circle cx="202.13" cy="269.77" r="1.95"/>
<circle cx="201.81" cy="274.32" r="1.95"/>
<circle cx="220.7" cy="207.1" r="2.0" stroke-width="1.0"/>
<circle cx="209.98" cy="285.63" r="1.95"/>
<circle cx="191.81" cy="279.14" r="1.95"/>
<circle cx="262.8" cy="249.8" r="2.0" stroke-width="1.0"/>
<circle cx="222.29" cy="269.08" r="1.95"/>
<circle cx="203.34" cy="277.98" r="1.95"/>
<circle cx="192.63" cy="252.06" r="1.95"/>
<circle cx="215.25" cy="273.6" r="1.95"/>
<circle cx="210.91" cy="288.13" r="1.95"/>
<circle cx="194.94" cy="274.68" r="1.95"/>
<circle cx="220.27" cy="270.74" r="1.95"/>
<circle cx="204.11" cy="286.94" r="1.95"/>
<circle cx="217.71" cy="268.69" r="1.95"/>
<circle cx="200.49" cy="247.62" r="1.95"/>
<circle cx="242.86" cy="248.73" r="2.0" stroke-width="1.0"/>
<circle cx="216.67" cy="257.58" r="1.95"/>
<circle cx="230.8" cy="220.04" r="2.0" stroke-width="1.0"/>
<circle cx="185.43" cy="260.29" r="2.0" stroke-width="1.0"/>
<circle cx="200.82" cy="262.96" r="1.95"/>
<circle cx="217.93" cy="250.12" r="1.95"/>
<circle cx="146.1" cy="243.5" r="2.0" stroke-width="1.0"/>
<circle cx="219.41" cy="232.14" r="1.95"/>
<circle cx="211.65" cy="277.39" r="1.95"/>
<circle cx="209.49" cy="287.46" r="1.95"/>
<circle cx="205.68" cy="293.03" r="1.95"/>
<circle cx="214.49" cy="261.27" r="1.95"/>
<circle cx="203.86" cy="286.94" r="1.95"/>
<circle cx="202.97" cy="276.25" r="1.95"/>
<circle cx="204.05" cy="287.24" r="1.95"/>
<circle cx="223.1" cy="233.6" r="1.95"/>
<circle cx="207.46" cy="293.29" r="1.95"/>
<circle cx="199.59" cy="253.61" r="1.95"/>
<circle cx="202.91" cy="278.39" r="1.95"/>
<circle cx="222.16" cy="266.64" r="1.95"/>
<circle cx="198.24" cy="286.87" r="1.95"/>
<circle cx="157.2" cy="174.2" r="2.0" stroke-width="1.0"/>
<circle cx="212.48" cy="280.56" r="1.95"/>
<circle cx="198.73" cy="267.1" r="1.95"/>
<circle cx="194.17" cy="271.93" r="1.95"/>
<circle cx="230.58" cy="231.77" r="2.0" stroke-width="1.0"/>
<circle cx="200.72" cy="273.99" r="1.95"/>
<circle cx="199.46" cy="254.16" r="1.95"/>
<circle cx="201.93" cy="268.3" r="1.95"/>
<circle cx="195.67" cy="235.25" r="1.95"/>
<circle cx="238.12" cy="278.3" r="1.95"/>
<circle cx="200.84" cy="271.3" r="1.95"/>
<circle cx="213.32" cy="279.77" r="1.95"/>
<circle cx="221.48" cy="229.02" r="1.95"/>
<circle cx="211.54" cy="274.81" r="1.95"/>
<circle cx="196.32" cy="233.44" r="1.95"/>
<circle cx="207.28" cy="292.85" r="1.95"/>
<circle cx="213.6" cy="260.25" r="1.95"/>
<circle cx="198.61" cy="264.16" r="1.95"/>
<circle cx="246.17" cy="247.7" r="2.0" stroke-width="1.0"/>
<circle cx="246.4" cy="184.1" r="2.0" stroke-width="1.0"/>
<circle cx="205.49" cy="292.81" r="1.95"/>
<circle cx="199.86" cy="253.34" r="1.95"/>
<circle cx="208.22" cy="291.26" r="1.95"/>
<circle cx="195.86" cy="224.18" r="1.95"/>
<circle cx="199.75" cy="249.59" r="1.95"/>
<circle cx="202.17" cy="279.83" r="1.95"/>
<circle cx="199.05" cy="243.61" r="1.95"/>
<circle cx="200.59" cy="265.35" r="1.95"/>
<circle cx="204.73" cy="289.29" r="1.95"/>
<circle cx="219.85" cy="264.9" r="1.95"/>
<circle cx="220.83" cy="268.58" r="1.95"/>
<circle cx="222.52" cy="276.43" r="1.95"/>
<circle cx="215.54" cy="241.03" r="1.95"/>
<circle cx="224.92" cy="231.27" r="1.95"/>
<circle cx="200.24" cy="272.1" r="1.95"/>
<circle cx="217.24" cy="264.96" r="1.95"/>
<circle cx="197.4" cy="275.02" r="1.95"/>
<circle cx="202.18" cy="270.67" r="1.95"/>
<circle cx="233.51" cy="282.93" r="1.95"/>
<circle cx="213.1" cy="274.12" r="1.95"/>
<circle cx="201.04" cy="269.2" r="1.95"/>
<circle cx="187.73" cy="276.08" r="1.95"/>
<circle cx="212.16" cy="265.98" r="1.95"/>
<circle cx="213.98" cy="269.75" r="1.95"/>
<circle cx="184.56" cy="280.96" r="1.95"/>
<circle cx="254.2" cy="259.38" r="2.0" stroke-width="1.0"/>
<circle cx="212.59" cy="274.36" r="1.95"/>
<circle cx="211.61" cy="286.17" r="1.95"/>
<circle cx="208.16" cy="290.12" r="1.95"/>
<circle cx="227.51" cy="279.61" r="1.95"/>
<circle cx="215.11" cy="272.86" r="1.95"/>
<circle cx="204.52" cy="286.09" r="1.95"/>
<circle cx="209.08" cy="290.64" r="1.95"/>
<circle cx="238.4" cy="277.82" r="1.95"/>
<circle cx="229.27" cy="238.46" r="1.95"/>
<circle cx="189.44" cy="230.01" r="2.0" stroke-width="1.0"/>
<circle cx="193.36" cy="261.06" r="1.95"/>
<circle cx="213.36" cy="288.41" r="1.95"/>
<circle cx="201.57" cy="269.38" r="1.95"/>
<circle cx="199.01" cy="290.74" r="1.95"/>
<circle cx="199.13" cy="275.5" r="1.95"/>
<circle cx="214.65" cy="247.73" r="1.95"/>
<circle cx="223.66" cy="210.92" r="2.0" stroke-width="1.0"/>
<circle cx="247.07" cy="263.09" r="2.0" stroke-width="1.0"/>
<circle cx="221.81" cy="288.88" r="1.95"/>
<circle cx="203.12" cy="284.26" r="1.95"/>
<circle cx="185.43" cy="284.37" r="2.0" stroke-width="1.0"/>
<circle cx="212.52" cy="279.14" r="1.95"/>
<circle cx="215.98" cy="248.5" r="1.95"/>
<circle cx="208.19" cy="290" r="1.95"/>
<circle cx="218.34" cy="283.73" r="1.95"/>
<circle cx="217.41" cy="285.59" r="1.95"/>
<circle cx="236.85" cy="280.82" r="1.95"/>
<circle cx="213.86" cy="278.56" r="1.95"/>
<circle cx="235.81" cy="278.75" r="1.95"/>
<circle cx="206.43" cy="293.27" r="1.95"/>
<circle cx="199.94" cy="262.64" r="1.95"/>
<circle cx="210.64" cy="281.97" r="1.95"/>
<circle cx="213.76" cy="249.81" r="1.95"/>
<circle cx="253.72" cy="262.61" r="2.0" stroke-width="1.0"/>
<circle cx="263.5" cy="240.9" r="2.0" stroke-width="1.0"/>
<circle cx="215.59" cy="293.06" r="1.95"/>
<circle cx="217.34" cy="275.39" r="1.95"/>
<circle cx="240.4" cy="264.51" r="2.0" stroke-width="1.0"/>
<circle cx="167.8" cy="236.4" r="2.0" stroke-width="1.0"/>
<circle cx="230.73" cy="277.36" r="1.95"/>
<circle cx="201.58" cy="269.93" r="1.95"/>
<circle cx="225.66" cy="229.96" r="1.95"/>
<circle cx="164.22" cy="265.3" r="2.0" stroke-width="1.0"/>
<circle cx="202.27" cy="275.93" r="1.95"/>
<circle cx="194.17" cy="219.6" r="1.95"/>
<circle cx="199.98" cy="253.47" r="1.95"/>
<circle cx="213.41" cy="268.75" r="1.95"/>
<circle cx="195.63" cy="250.33" r="1.95"/>
<circle cx="227.95" cy="228.3" r="1.95"/>
<circle cx="213.99" cy="270.91" r="1.95"/>
<circle cx="182.82" cy="274.92" r="1.95"/>
<circle cx="197.99" cy="253.9" r="1.95"/>
<circle cx="202.84" cy="280.07" r="1.95"/>
<circle cx="200.88" cy="268.41" r="1.95"/>
<circle cx="211.94" cy="256.66" r="1.95"/>
<circle cx="204.32" cy="289.75" r="1.95"/>
<circle cx="172.38" cy="264.38" r="2.0" stroke-width="1.0"/>
<circle cx="214.29" cy="267.81" r="1.95"/>
<circle cx="204.43" cy="290.92" r="1.95"/>
<circle cx="233.66" cy="279.74" r="1.95"/>
<circle cx="201.82" cy="281.04" r="1.95"/>
<circle cx="201.23" cy="270.28" r="1.95"/>
<circle cx="203.51" cy="290.5" r="1.95"/>
<circle cx="202.16" cy="276.89" r="1.95"/>
<circle cx="204.47" cy="284.44" r="1.95"/>
<circle cx="234.41" cy="272.42" r="1.95"/>
<circle cx="216.66" cy="264.35" r="1.95"/>
<circle cx="202.79" cy="283.58" r="1.95"/>
<circle cx="179.38" cy="263.5" r="1.95"/>
<circle cx="253.65" cy="239.85" r="2.0" stroke-width="1.0"/>
<circle cx="222.01" cy="239.53" r="1.95"/>
<circle cx="230.69" cy="240.45" r="1.95"/>
<circle cx="197.39" cy="247.2" r="1.95"/>
<circle cx="185.7" cy="173.1" r="2.0" stroke-width="1.0"/>
<circle cx="214.47" cy="252.41" r="1.95"/>
<circle cx="240.18" cy="278.65" r="1.95"/>
<circle cx="194.35" cy="290.43" r="1.95"/>
<circle cx="211.96" cy="282.71" r="1.95"/>
<circle cx="200" cy="267.17" r="1.95"/>
<circle cx="171.18" cy="272.79" r="2.0" stroke-width="1.0"/>
<circle cx="210.51" cy="279.1" r="1.95"/>
<circle cx="234.01" cy="250.36" r="2.0" stroke-width="1.0"/>
<circle cx="223.29" cy="268.3" r="1.95"/>
<circle cx="201.99" cy="292.97" r="1.95"/>
<circle cx="199.72" cy="265.19" r="1.95"/>
<circle cx="245.92" cy="244.94" r="2.0" stroke-width="1.0"/>
<circle cx="211.06" cy="284.92" r="1.95"/>
<circle cx="212.47" cy="278.43" r="1.95"/>
<circle cx="212.06" cy="276.66" r="1.95"/>
<circle cx="203.05" cy="271.37" r="1.95"/>
<circle cx="233.85" cy="285.15" r="1.95"/>
<circle cx="224.5" cy="276.96" r="1.95"/>
<circle cx="218.12" cy="290.11" r="1.95"/>
<circle cx="204.67" cy="288.94" r="1.95"/>
<circle cx="204.6" cy="283.44" r="1.95"/>
<circle cx="198.77" cy="249.73" r="1.95"/>
<circle cx="216.5" cy="278.41" r="1.95"/>
<circle cx="223.98" cy="219.25" r="1.95"/>
<circle cx="186.83" cy="227.5" r="2.0" stroke-width="1.0"/>
<circle cx="214.2" cy="265.51" r="1.95"/>
<circle cx="203.51" cy="284.05" r="1.95"/>
<circle cx="222.89" cy="213.86" r="1.95"/>
<circle cx="196.34" cy="278.3" r="1.95"/>
<circle cx="216.12" cy="249.64" r="1.95"/>
<circle cx="223.14" cy="229.31" r="1.95"/>
<circle cx="193.84" cy="273.58" r="1.95"/>
<circle cx="214.56" cy="251.78" r="1.95"/>
<circle cx="209.43" cy="290.12" r="1.95"/>
<circle cx="221.6" cy="285.59" r="1.95"/>
<circle cx="201.97" cy="282.79" r="1.95"/>
<circle cx="220.48" cy="267.98" r="1.95"/>
<circle cx="155.57" cy="255.25" r="2.0" stroke-width="1.0"/>
<circle cx="202.15" cy="276.94" r="1.95"/>
<circle cx="188.63" cy="239.53" r="2.0" stroke-width="1.0"/>
<circle cx="216.13" cy="284.41" r="1.95"/>
<circle cx="212.85" cy="272.62" r="1.95"/>
<circle cx="186.19" cy="283.37" r="1.95"/>
<circle cx="225.19" cy="217.89" r="1.95"/>
<circle cx="222.91" cy="276.97" r="1.95"/>
<circle cx="249.53" cy="271.36" r="2.0" stroke-width="1.0"/>
<circle cx="210.84" cy="282.03" r="1.95"/>
<circle cx="211.67" cy="275.99" r="1.95"/>
<circle cx="198.9" cy="241.01" r="1.95"/>
<circle cx="204.59" cy="283.42" r="1.95"/>
<circle cx="224.36" cy="286.34" r="1.95"/>
<circle cx="200.66" cy="263.13" r="1.95"/>
<circle cx="196.16" cy="277.04" r="1.95"/>
<circle cx="189.72" cy="235.38" r="1.95"/>
<circle cx="204.62" cy="284.24" r="1.95"/>
<circle cx="215.11" cy="282.07" r="1.95"/>
<circle cx="214.02" cy="290.43" r="1.95"/>
<circle cx="201.22" cy="281.66" r="1.95"/>
<circle cx="200.26" cy="274.62" r="1.95"/>
<circle cx="225.06" cy="271.53" r="1.95"/>
<circle cx="201.65" cy="268.44" r="1.95"/>
<circle cx="215.7" cy="262.47" r="1.95"/>
<circle cx="196.08" cy="254.55" r="1.95"/>
<circle cx="249.13" cy="264.99" r="2.0" stroke-width="1.0"/>
<circle cx="203.4" cy="274.91" r="1.95"/>
<circle cx="204.63" cy="287.13" r="1.95"/>
<circle cx="186.98" cy="225.27" r="2.0" stroke-width="1.0"/>
<circle cx="189.72" cy="259.82" r="1.95"/>
<circle cx="241.38" cy="251.87" r="2.0" stroke-width="1.0"/>
<circle cx="198.95" cy="254.82" r="1.95"/>
<circle cx="199.81" cy="264.01" r="1.95"/>
<circle cx="216.34" cy="253.24" r="1.95"/>
<circle cx="210.56" cy="280.06" r="1.95"/>
<circle cx="213.01" cy="282.62" r="1.95"/>
<circle cx="201.87" cy="290.73" r="1.95"/>
<circle cx="218" cy="255.74" r="1.95"/>
<circle cx="250.69" cy="252.22" r="2.0" stroke-width="1.0"/>
<circle cx="207.27" cy="292.89" r="1.95"/>
<circle cx="184.7" cy="254.19" r="2.0" stroke-width="1.0"/>
<circle cx="250.17" cy="268.26" r="2.0" stroke-width="1.0"/>
<circle cx="234.39" cy="277.12" r="1.95"/>
<circle cx="211.49" cy="282.58" r="1.95"/>
<circle cx="234.41" cy="286.84" r="1.95"/>
<circle cx="211.24" cy="277.48" r="1.95"/>
<circle cx="206.49" cy="293.19" r="1.95"/>
<circle cx="195.32" cy="254.93" r="1.95"/>
<circle cx="204.92" cy="289.35" r="1.95"/>
<circle cx="198.98" cy="249.67" r="1.95"/>
<circle cx="214.8" cy="256.4" r="1.95"/>
<circle cx="191.02" cy="221.17" r="1.95"/>
<circle cx="228.86" cy="259.01" r="1.95"/>
<circle cx="226.36" cy="223.01" r="1.95"/>
<circle cx="220.68" cy="271.63" r="1.95"/>
<circle cx="268.9" cy="236.9" r="2.0" stroke-width="1.0"/>
<circle cx="210.76" cy="272.12" r="1.95"/>
<circle cx="204.62" cy="283.37" r="1.95"/>
<circle cx="198.03" cy="241.86" r="1.95"/>
<circle cx="215.19" cy="274.86" r="1.95"/>
<circle cx="210.89" cy="281.6" r="1.95"/>
<circle cx="202.91" cy="275.17" r="1.95"/>
<circle cx="200.34" cy="261.72" r="1.95"/>
<circle cx="198.14" cy="241.4" r="1.95"/>
<circle cx="197.05" cy="288.48" r="1.95"/>
<circle cx="182.43" cy="260.6" r="1.95"/>
<circle cx="213.96" cy="275.51" r="1.95"/>
<circle cx="194.41" cy="266.76" r="1.95"/>
<circle cx="182.7" cy="247.1" r="2.0" stroke-width="1.0"/>
<circle cx="210.1" cy="287.42" r="1.95"/>
<circle cx="198.37" cy="256.08" r="1.95"/>
<circle cx="193.89" cy="287.64" r="1.95"/>
<circle cx="225.91" cy="246.4" r="2.0" stroke-width="1.0"/>
<circle cx="215.98" cy="289.28" r="1.95"/>
<circle cx="203.48" cy="291.21" r="1.95"/>
<circle cx="229.24" cy="277.1" r="1.95"/>
<circle cx="199.25" cy="281.42" r="1.95"/>
<circle cx="175.26" cy="260.78" r="2.0" stroke-width="1.0"/>
<circle cx="204.34" cy="289.34" r="1.95"/>
<circle cx="209.18" cy="287.71" r="1.95"/>
<circle cx="253.45" cy="263.07" r="2.0" stroke-width="1.0"/>
<circle cx="239.89" cy="225.67" r="2.0" stroke-width="1.0"/>
<circle cx="205.3" cy="288.9" r="1.95"/>
<circle cx="204.22" cy="286.44" r="1.95"/>
<circle cx="198.41" cy="266.76" r="1.95"/>
<circle cx="200.58" cy="285.86" r="1.95"/>
<circle cx="160.7" cy="259.23" r="2.0" stroke-width="1.0"/>
<circle cx="219.74" cy="290.1" r="1.95"/>
<circle cx="205.63" cy="292.03" r="1.95"/>
<circle cx="225.52" cy="272.24" r="1.95"/>
<circle cx="202.93" cy="281.81" r="1.95"/>
<circle cx="204.47" cy="286.07" r="1.95"/>
<circle cx="205.72" cy="293.1" r="1.95"/>
<circle cx="204.43" cy="284.41" r="1.95"/>
<circle cx="185.19" cy="240.73" r="2.0" stroke-width="1.0"/>
<circle cx="202.9" cy="281.56" r="1.95"/>
<circle cx="218.52" cy="259.47" r="1.95"/>
<circle cx="195.39" cy="212.55" r="2.0" stroke-width="1.0"/>
<circle cx="283.1" cy="196.9" r="2.0" stroke-width="1.0"/>
<circle cx="194.04" cy="278.71" r="1.95"/>
<circle cx="190.77" cy="280.62" r="1.95"/>
<circle cx="218.58" cy="272.45" r="1.95"/>
<circle cx="213.31" cy="265.6" r="1.95"/>
<circle cx="217.6" cy="280.95" r="1.95"/>
<circle cx="203.79" cy="283.67" r="1.95"/>
<circle cx="212.09" cy="276.03" r="1.95"/>
<circle cx="212.25" cy="275.77" r="1.95"/>
<circle cx="206.46" cy="292.86" r="1.95"/>
<circle cx="205.94" cy="293.23" r="1.95"/>
<circle cx="225.92" cy="280.3" r="1.95"/>
<circle cx="202.48" cy="275.75" r="1.95"/>
<circle cx="199.98" cy="274.44" r="1.95"/>
<circle cx="191.26" cy="257.72" r="1.95"/>
<circle cx="178.48" cy="258.7" r="1.95"/>
<circle cx="231.15" cy="278.55" r="1.95"/>
<circle cx="212.73" cy="292.77" r="1.95"/>
<circle cx="205.28" cy="289.06" r="1.95"/>
<circle cx="221.49" cy="265.25" r="1.95"/>
<circle cx="195.56" cy="282.58" r="1.95"/>
<circle cx="204.09" cy="285.86" r="1.95"/>
<circle cx="200.26" cy="271.8" r="1.95"/>
<circle cx="247.3" cy="264.2" r="2.0" stroke-width="1.0"/>
<circle cx="217.9" cy="244.66" r="1.95"/>
<circle cx="199.84" cy="262.85" r="1.95"/>
<circle cx="200.32" cy="292.02" r="1.95"/>
<circle cx="194.82" cy="279.47" r="1.95"/>
<circle cx="204.46" cy="287.65" r="1.95"/>
<circle cx="200.77" cy="254.16" r="1.95"/>
<circle cx="205.27" cy="290.71" r="1.95"/>
<circle cx="173.52" cy="255.06" r="2.0" stroke-width="1.0"/>
<circle cx="226.81" cy="263.81" r="1.95"/>
<circle cx="213.71" cy="266.92" r="1.95"/>
<circle cx="222.63" cy="282.52" r="1.95"/>
<circle cx="198.17" cy="265.68" r="1.95"/>
<circle cx="201.71" cy="270.48" r="1.95"/>
<circle cx="223.71" cy="269.29" r="1.95"/>
<circle cx="248.41" cy="264.2" r="2.0" stroke-width="1.0"/>
<circle cx="205.49" cy="288.8" r="1.95"/>
<circle cx="195.85" cy="237.41" r="1.95"/>
<circle cx="197.97" cy="249.76" r="1.95"/>
<circle cx="212.71" cy="276.49" r="1.95"/>
<circle cx="218.43" cy="220.88" r="2.0" stroke-width="1.0"/>
<circle cx="203.78" cy="292.37" r="1.95"/>
<circle cx="209.2" cy="291.66" r="1.95"/>
<circle cx="217.91" cy="251.99" r="1.95"/>
<circle cx="189.4" cy="185.1" r="2.0" stroke-width="1.0"/>
<circle cx="209.36" cy="290.88" r="1.95"/>
<circle cx="205.33" cy="290.58" r="1.95"/>
<circle cx="237.54" cy="278.81" r="1.95"/>
<circle cx="196.78" cy="289.62" r="1.95"/>
<circle cx="199.71" cy="265.92" r="1.95"/>
<circle cx="217.36" cy="245.06" r="1.95"/>
<circle cx="212.21" cy="282.83" r="1.95"/>
<circle cx="238.41" cy="237.66" r="2.0" stroke-width="1.0"/>
<circle cx="201.19" cy="266.52" r="1.95"/>
<circle cx="205.28" cy="290.49" r="1.95"/>
<circle cx="203.72" cy="278.93" r="1.95"/>
<circle cx="199.7" cy="283.67" r="1.95"/>
<circle cx="217.62" cy="245.33" r="1.95"/>
<circle cx="203.31" cy="278.13" r="1.95"/>
<circle cx="232.02" cy="237.08" r="1.95"/>
<circle cx="214.64" cy="280.01" r="1.95"/>
<circle cx="220.23" cy="213.33" r="2.0" stroke-width="1.0"/>
<circle cx="243.1" cy="214.6" r="2.0" stroke-width="1.0"/>
<circle cx="220.79" cy="276.38" r="1.95"/>
<circle cx="195.13" cy="265.16" r="1.95"/>
<circle cx="235.1" cy="273.56" r="1.95"/>
<circle cx="197.76" cy="234.46" r="1.95"/>
<circle cx="214.54" cy="282.08" r="1.95"/>
<circle cx="212.4" cy="257.71" r="1.95"/>
<circle cx="200.03" cy="269.64" r="1.95"/>
<circle cx="200.36" cy="270.58" r="1.95"/>
<circle cx="247.09" cy="260.51" r="2.0" stroke-width="1.0"/>
<circle cx="212.12" cy="273.39" r="1.95"/>
<circle cx="200.1" cy="262.68" r="1.95"/>
<circle cx="220.29" cy="273.43" r="1.95"/>
<circle cx="201.05" cy="274.05" r="1.95"/>
<circle cx="194.37" cy="217.78" r="1.95"/>
<circle cx="202.94" cy="271.72" r="1.95"/>
<circle cx="217.99" cy="257.59" r="1.95"/>
<circle cx="198.87" cy="261.68" r="1.95"/>
<circle cx="195.52" cy="255.08" r="1.95"/>
<circle cx="168.61" cy="255.02" r="2.0" stroke-width="1.0"/>
<circle cx="215.4" cy="249.3" r="1.95"/>
<circle cx="204.67" cy="289" r="1.95"/>
<circle cx="198.21" cy="260.52" r="1.95"/>
<circle cx="242.28" cy="255.56" r="2.0" stroke-width="1.0"/>
<circle cx="227.33" cy="272.04" r="1.95"/>
<circle cx="194.77" cy="265.61" r="1.95"/>
<circle cx="210.3" cy="276.36" r="1.95"/>
<circle cx="203.38" cy="277.16" r="1.95"/>
<circle cx="217.51" cy="272.74" r="1.95"/>
<circle cx="203.51" cy="280.69" r="1.95"/>
<circle cx="211.32" cy="280.89" r="1.95"/>
<circle cx="198.77" cy="293.33" r="1.95"/>
<circle cx="207.21" cy="292.83" r="1.95"/>
<circle cx="232.97" cy="282.76" r="1.95"/>
<circle cx="202.41" cy="279.2" r="1.95"/>
<circle cx="248.85" cy="258.28" r="2.0" stroke-width="1.0"/>
<circle cx="185.7" cy="183" r="2.0" stroke-width="1.0"/>
<circle cx="259.56" cy="245.57" r="2.0" stroke-width="1.0"/>
<circle cx="205.04" cy="289.63" r="1.95"/>
<circle cx="253.21" cy="244.67" r="2.0" stroke-width="1.0"/>
<circle cx="200.79" cy="269.61" r="1.95"/>
<circle cx="191.24" cy="275.34" r="1.95"/>
<circle cx="220.78" cy="254.52" r="1.95"/>
<circle cx="202.56" cy="288.07" r="1.95"/>
<circle cx="203.78" cy="278.32" r="1.95"/>
<circle cx="197.07" cy="247.3" r="1.95"/>
<circle cx="214.34" cy="266.76" r="1.95"/>
<circle cx="204.75" cy="285.11" r="1.95"/>
<circle cx="189.91" cy="279.45" r="1.95"/>
<circle cx="196.94" cy="235.29" r="1.95"/>
<circle cx="199.05" cy="263.91" r="1.95"/>
<circle cx="201.36" cy="258.58" r="1.95"/>
<circle cx="222.32" cy="274.67" r="1.95"/>
<circle cx="180.2" cy="207.4" r="2.0" stroke-width="1.0"/>
<circle cx="201.38" cy="274.62" r="1.95"/>
<circle cx="219.14" cy="256.75" r="1.95"/>
<circle cx="180.9" cy="180.1" r="2.0" stroke-width="1.0"/>
<circle cx="201.42" cy="272.34" r="1.95"/>
<circle cx="202.82" cy="280.53" r="1.95"/>
<circle cx="200.5" cy="248.27" r="1.95"/>
<circle cx="192.89" cy="275.09" r="1.95"/>
<circle cx="211.58" cy="289.66" r="1.95"/>
<circle cx="225.29" cy="288.69" r="1.95"/>
<circle cx="200.72" cy="268.28" r="1.95"/>
<circle cx="188.68" cy="274.82" r="1.95"/>
<circle cx="194.15" cy="272.83" r="1.95"/>
<circle cx="210.74" cy="278.37" r="1.95"/>
<circle cx="208.1" cy="291.88" r="1.95"/>
<circle cx="212.33" cy="260.52" r="1.95"/>
<circle cx="233.73" cy="250.59" r="1.95"/>
<circle cx="222.96" cy="274.96" r="1.95"/>
<circle cx="203.99" cy="283.99" r="1.95"/>
<circle cx="194.83" cy="272.31" r="1.95"/>
<circle cx="216.16" cy="273.37" r="1.95"/>
<circle cx="196.92" cy="232.19" r="1.95"/>
<circle cx="216.8" cy="249.55" r="1.95"/>
<circle cx="214.42" cy="274.21" r="1.95"/>
<circle cx="240.93" cy="275.56" r="1.95"/>
<circle cx="211.07" cy="273.99" r="1.95"/>
<circle cx="203.79" cy="281.75" r="1.95"/>
<circle cx="225.61" cy="253.81" r="1.95"/>
<circle cx="217.77" cy="252.53" r="1.95"/>
<circle cx="235.08" cy="221.64" r="2.0" stroke-width="1.0"/>
<circle cx="219.04" cy="267.22" r="1.95"/>
<circle cx="185.57" cy="258.09" r="2.0" stroke-width="1.0"/>
<circle cx="205.07" cy="291.61" r="1.95"/>
<circle cx="210.32" cy="284.79" r="1.95"/>
<circle cx="201.75" cy="267.8" r="1.95"/>
<circle cx="201.16" cy="278.67" r="1.95"/>
<circle cx="226.65" cy="265.76" r="1.95"/>
<circle cx="211.94" cy="280.18" r="1.95"/>
<circle cx="167.59" cy="255.62" r="2.0" stroke-width="1.0"/>
<circle cx="196.62" cy="270.87" r="1.95"/>
<circle cx="195.87" cy="277.18" r="1.95"/>
<circle cx="168.16" cy="258.72" r="2.0" stroke-width="1.0"/>
<circle cx="199.07" cy="259.05" r="1.95"/>
<circle cx="235.34" cy="265.19" r="1.95"/>
<circle cx="227.95" cy="258.41" r="1.95"/>
<circle cx="222.37" cy="268.8" r="1.95"/>
<circle cx="222.13" cy="219.72" r="1.95"/>
<circle cx="201.15" cy="261.27" r="1.95"/>
<circle cx="204.1" cy="291.47" r="1.95"/>
<circle cx="204.98" cy="293.06" r="1.95"/>
<circle cx="218.39" cy="288.05" r="1.95"/>
<circle cx="205.38" cy="291.46" r="1.95"/>
<circle cx="209.71" cy="285.28" r="1.95"/>
<circle cx="200.89" cy="265.87" r="1.95"/>
<circle cx="198.92" cy="263.33" r="1.95"/>
<circle cx="169.5" cy="148.9" r="2.0" stroke-width="1.0"/>
<circle cx="201.45" cy="271.9" r="1.95"/>
<circle cx="224.93" cy="277.11" r="1.95"/>
<circle cx="178.27" cy="273.69" r="1.95"/>
<circle cx="199.42" cy="267.46" r="1.95"/>
<circle cx="203.67" cy="282.49" r="1.95"/>
<circle cx="230.09" cy="288.29" r="1.95"/>
<circle cx="205.01" cy="288.43" r="1.95"/>
<circle cx="222.11" cy="221.97" r="1.95"/>
<circle cx="211.56" cy="278.76" r="1.95"/>
<circle cx="204.81" cy="284.76" r="1.95"/>
<circle cx="205.3" cy="290.33" r="1.95"/>
<circle cx="212.11" cy="271.74" r="1.95"/>
<circle cx="211.91" cy="273.7" r="1.95"/>
<circle cx="200.19" cy="256.47" r="1.95"/>
<circle cx="204.27" cy="284.02" r="1.95"/>
<circle cx="175.91" cy="254.66" r="2.0" stroke-width="1.0"/>
<circle cx="241.86" cy="275.01" r="1.95"/>
<circle cx="222.29" cy="267.71" r="1.95"/>
<circle cx="195.88" cy="221.93" r="1.95"/>
<circle cx="198.69" cy="264.23" r="1.95"/>
<circle cx="197.73" cy="241.88" r="1.95"/>
<circle cx="233.95" cy="245.33" r="2.0" stroke-width="1.0"/>
<circle cx="203.61" cy="293.35" r="1.95"/>
<circle cx="163" cy="181.4" r="2.0" stroke-width="1.0"/>
<circle cx="225.79" cy="283.07" r="1.95"/>
<circle cx="215.8" cy="256.26" r="1.95"/>
<circle cx="203.09" cy="281.77" r="1.95"/>
<circle cx="223.24" cy="237.69" r="1.95"/>
<circle cx="211.49" cy="284.07" r="1.95"/>
<circle cx="203.33" cy="282.26" r="1.95"/>
<circle cx="216.45" cy="251.68" r="1.95"/>
<circle cx="208.55" cy="289.6" r="1.95"/>
<circle cx="212.44" cy="273.13" r="1.95"/>
<circle cx="236.58" cy="236.77" r="2.0" stroke-width="1.0"/>
<circle cx="224.1" cy="272.93" r="1.95"/>
<circle cx="228.54" cy="271.35" r="1.95"/>
<circle cx="209.07" cy="285.38" r="1.95"/>
<circle cx="177.8" cy="241.42" r="2.0" stroke-width="1.0"/>
<circle cx="209.84" cy="285.73" r="1.95"/>
<circle cx="193.86" cy="241.3" r="1.95"/>
<circle cx="223.12" cy="270.16" r="1.95"/>
<circle cx="230.97" cy="281.53" r="1.95"/>
<circle cx="197.47" cy="282.41" r="1.95"/>
<circle cx="210.99" cy="286.31" r="1.95"/>
<circle cx="219.19" cy="251.49" r="1.95"/>
<circle cx="201.85" cy="278.06" r="1.95"/>
<circle cx="231.39" cy="277.12" r="1.95"/>
<circle cx="211.53" cy="280.61" r="1.95"/>
<circle cx="199.62" cy="238.34" r="1.95"/>
<circle cx="240.91" cy="272.48" r="1.95"/>
<circle cx="225.28" cy="254.02" r="1.95"/>
<circle cx="201.36" cy="274.52" r="1.95"/>
<circle cx="224.14" cy="265.15" r="1.95"/>
<circle cx="214.75" cy="259.71" r="1.95"/>
<circle cx="198.44" cy="292.73" r="1.95"/>
<circle cx="185.84" cy="266.06" r="1.95"/>
<circle cx="206" cy="293.42" r="1.95"/>
<circle cx="217.84" cy="246.88" r="1.95"/>
<circle cx="165.1" cy="234.1" r="2.0" stroke-width="1.0"/>
<circle cx="217.98" cy="258.02" r="1.95"/>
<circle cx="212.45" cy="292.38" r="1.95"/>
<circle cx="210.47" cy="287.05" r="1.95"/>
<circle cx="189.67" cy="222.66" r="1.95"/>
<circle cx="215.46" cy="263.8" r="1.95"/>
<circle cx="212.83" cy="272.4" r="1.95"/>
<circle cx="219.01" cy="244.91" r="1.95"/>
<circle cx="206.04" cy="292.82" r="1.95"/>
<circle cx="203.9" cy="283.26" r="1.95"/>
<circle cx="219.75" cy="240.48" r="1.95"/>
<circle cx="213.58" cy="290.03" r="1.95"/>
<circle cx="209.22" cy="293.58" r="1.95"/>
<circle cx="253.7" cy="209.1" r="2.0" stroke-width="1.0"/>
<circle cx="212.56" cy="291.01" r="1.95"/>
<circle cx="235.16" cy="258.51" r="2.0" stroke-width="1.0"/>
<circle cx="203.88" cy="280.55" r="1.95"/>
<circle cx="237.44" cy="271.57" r="1.95"/>
<circle cx="216.16" cy="273.31" r="1.95"/>
<circle cx="214.95" cy="268.14" r="1.95"/>
<circle cx="210.48" cy="283.5" r="1.95"/>
<circle cx="202.94" cy="283.11" r="1.95"/>
<circle cx="177.91" cy="260.37" r="1.95"/>
<circle cx="202.14" cy="273.95" r="1.95"/>
<circle cx="200.95" cy="260.62" r="1.95"/>
<circle cx="183.64" cy="256.67" r="2.0" stroke-width="1.0"/>
<circle cx="195.14" cy="284.03" r="1.95"/>
<circle cx="202.21" cy="264.87" r="1.95"/>
<circle cx="197.42" cy="267.93" r="1.95"/>
<circle cx="202.27" cy="278.23" r="1.95"/>
<circle cx="215.92" cy="260.56" r="1.95"/>
<circle cx="203.12" cy="278.61" r="1.95"/>
<circle cx="239.98" cy="239.98" r="2.0" stroke-width="1.0"/>
<circle cx="202.5" cy="275.25" r="1.95"/>
<circle cx="220.6" cy="249.04" r="1.95"/>
<circle cx="199.87" cy="260.6" r="1.95"/>
<circle cx="210.06" cy="286.29" r="1.95"/>
<circle cx="202.06" cy="283.41" r="1.95"/>
<circle cx="188.55" cy="264.44" r="1.95"/>
<circle cx="212.87" cy="290.04" r="1.95"/>
<circle cx="197.31" cy="237.87" r="1.95"/>
<circle cx="227.22" cy="242.45" r="1.95"/>
<circle cx="179.6" cy="203.1" r="2.0" stroke-width="1.0"/>
<circle cx="203.51" cy="275.88" r="1.95"/>
<circle cx="210.32" cy="285.88" r="1.95"/>
<circle cx="240.4" cy="231.16" r="2.0" stroke-width="1.0"/>
<circle cx="202.44" cy="293.09" r="1.95"/>
<circle cx="192.91" cy="241.65" r="1.95"/>
<circle cx="209.27" cy="290.36" r="1.95"/>
<circle cx="183.69" cy="273.69" r="1.95"/>
<circle cx="185.64" cy="269.67" r="1.95"/>
<circle cx="214.62" cy="265.29" r="1.95"/>
<circle cx="199.04" cy="243.17" r="1.95"/>
<circle cx="221.79" cy="288.42" r="1.95"/>
<circle cx="189.7" cy="190.5" r="2.0" stroke-width="1.0"/>
<circle cx="197.18" cy="270.21" r="1.95"/>
<circle cx="210.06" cy="282.41" r="1.95"/>
<circle cx="196.86" cy="242.53" r="1.95"/>
<circle cx="212.2" cy="275.67" r="1.95"/>
<circle cx="215.55" cy="254.48" r="1.95"/>
<circle cx="210.33" cy="284.12" r="1.95"/>
<circle cx="217.01" cy="274.22" r="1.95"/>
<circle cx="202.99" cy="271.86" r="1.95"/>
<circle cx="178.27" cy="275.68" r="1.95"/>
<circle cx="203.76" cy="284.08" r="1.95"/>
<circle cx="199.84" cy="278.46" r="1.95"/>
<circle cx="216.75" cy="286.72" r="1.95"/>
<circle cx="218.09" cy="292.84" r="1.95"/>
<circle cx="203.87" cy="287.31" r="1.95"/>
<circle cx="212.99" cy="286.32" r="1.95"/>
<circle cx="204.02" cy="285.64" r="1.95"/>
<circle cx="197.4" cy="245.64" r="1.95"/>
<circle cx="190.74" cy="223.9" r="1.95"/>
<circle cx="193.42" cy="230.44" r="1.95"/>
<circle cx="276.3" cy="192.5" r="2.0" stroke-width="1.0"/>
<circle cx="231.7" cy="252.05" r="1.95"/>
<circle cx="194.52" cy="213.99" r="1.95"/>
<circle cx="186.24" cy="282" r="1.95"/>
<circle cx="204.15" cy="281.07" r="1.95"/>
<circle cx="249.36" cy="265.81" r="2.0" stroke-width="1.0"/>
<circle cx="213.85" cy="272.28" r="1.95"/>
<circle cx="210.4" cy="285.45" r="1.95"/>
<circle cx="231.34" cy="241.22" r="1.95"/>
<circle cx="218.13" cy="284.31" r="1.95"/>
<circle cx="202.57" cy="273.46" r="1.95"/>
<circle cx="197.44" cy="241.53" r="1.95"/>
<circle cx="203.18" cy="279.32" r="1.95"/>
<circle cx="188.41" cy="286.46" r="1.95"/>
<circle cx="200.91" cy="273.59" r="1.95"/>
<circle cx="210.59" cy="281.14" r="1.95"/>
<circle cx="214.42" cy="259.63" r="1.95"/>
<circle cx="186.25" cy="268.22" r="1.95"/>
<circle cx="211" cy="280.07" r="1.95"/>
<circle cx="236.45" cy="283.23" r="1.95"/>
<circle cx="197.65" cy="260.62" r="1.95"/>
<circle cx="190.77" cy="235.01" r="1.95"/>
<circle cx="164.96" cy="253.97" r="2.0" stroke-width="1.0"/>
<circle cx="204.04" cy="284.7" r="1.95"/>
<circle cx="198.65" cy="270.35" r="1.95"/>
<circle cx="214.43" cy="259.85" r="1.95"/>
<circle cx="239.49" cy="269.38" r="1.95"/>
<circle cx="230.65" cy="265.74" r="1.95"/>
<circle cx="213.96" cy="277.86" r="1.95"/>
<circle cx="227.97" cy="210.04" r="2.0" stroke-width="1.0"/>
<circle cx="203.14" cy="283.42" r="1.95"/>
<circle cx="195.82" cy="252.8" r="1.95"/>
<circle cx="204.06" cy="280.3" r="1.95"/>
<circle cx="194.76" cy="259.95" r="1.95"/>
<circle cx="201.47" cy="270.05" r="1.95"/>
<circle cx="192.96" cy="230.58" r="1.95"/>
<circle cx="192.85" cy="280.09" r="1.95"/>
<circle cx="190.79" cy="285.31" r="1.95"/>
<circle cx="198.79" cy="255.66" r="1.95"/>
<circle cx="203.95" cy="289.29" r="1.95"/>
<circle cx="223.37" cy="211.43" r="2.0" stroke-width="1.0"/>
<circle cx="224.96" cy="273.65" r="1.95"/>
<circle cx="199.88" cy="275.51" r="1.95"/>
<circle cx="200.15" cy="254.81" r="1.95"/>
<circle cx="200.46" cy="257.08" r="1.95"/>
<circle cx="225.95" cy="263.57" r="1.95"/>
<circle cx="213.57" cy="283.84" r="1.95"/>
<circle cx="192.7" cy="267.16" r="1.95"/>
<circle cx="221.18" cy="273.72" r="1.95"/>
<circle cx="195.82" cy="250.41" r="1.95"/>
<circle cx="194.16" cy="257.43" r="1.95"/>
<circle cx="213.39" cy="261.68" r="1.95"/>
<circle cx="209.54" cy="287.24" r="1.95"/>
<circle cx="201.76" cy="265.85" r="1.95"/>
<circle cx="219.39" cy="248.01" r="1.95"/>
<circle cx="243.34" cy="253.91" r="2.0" stroke-width="1.0"/>
<circle cx="214.09" cy="281.29" r="1.95"/>
<circle cx="206.43" cy="293.13" r="1.95"/>
<circle cx="164.7" cy="238.1" r="2.0" stroke-width="1.0"/>
<circle cx="202.17" cy="269.07" r="1.95"/>
<circle cx="201.22" cy="276.01" r="1.95"/>
<circle cx="199.74" cy="277.96" r="1.95"/>
<circle cx="202.05" cy="265.99" r="1.95"/>
<circle cx="203.95" cy="283.78" r="1.95"/>
<circle cx="210.81" cy="280.04" r="1.95"/>
<circle cx="195.92" cy="259.34" r="1.95"/>
<circle cx="209.71" cy="285.84" r="1.95"/>
<circle cx="214.97" cy="287.49" r="1.95"/>
<circle cx="181.95" cy="244.32" r="2.0" stroke-width="1.0"/>
<circle cx="201.02" cy="264.53" r="1.95"/>
<circle cx="194.52" cy="244.03" r="1.95"/>
<circle cx="204.07" cy="289.05" r="1.95"/>
<circle cx="227.32" cy="241.14" r="1.95"/>
<circle cx="201.64" cy="274.31" r="1.95"/>
<circle cx="207.38" cy="293.43" r="1.95"/>
<circle cx="212.76" cy="275.87" r="1.95"/>
<circle cx="216.05" cy="264.6" r="1.95"/>
<circle cx="193.56" cy="258.05" r="1.95"/>
<circle cx="181.6" cy="185.1" r="2.0" stroke-width="1.0"/>
<circle cx="196.71" cy="224.73" r="1.95"/>
<circle cx="205.11" cy="291.79" r="1.95"/>
<circle cx="168.45" cy="251.77" r="2.0" stroke-width="1.0"/>
<circle cx="222.12" cy="289.07" r="1.95"/>
<circle cx="242.44" cy="231.36" r="2.0" stroke-width="1.0"/>
<circle cx="208.26" cy="291.23" r="1.95"/>
<circle cx="177.25" cy="267.64" r="1.95"/>
<circle cx="198.71" cy="279.33" r="1.95"/>
<circle cx="210.15" cy="285.23" r="1.95"/>
<circle cx="213.46" cy="272.98" r="1.95"/>
<circle cx="199.66" cy="270.31" r="1.95"/>
<circle cx="233.64" cy="247.25" r="2.0" stroke-width="1.0"/>
<circle cx="213.4" cy="237.86" r="2.0" stroke-width="1.0"/>
<circle cx="197.82" cy="256.62" r="1.95"/>
<circle cx="196.92" cy="233.8" r="1.95"/>
<circle cx="198.18" cy="257.32" r="1.95"/>
<circle cx="179.85" cy="276.32" r="1.95"/>
<circle cx="213.26" cy="263.16" r="1.95"/>
<circle cx="245.04" cy="251.05" r="2.0" stroke-width="1.0"/>
<circle cx="243.96" cy="277.41" r="1.95"/>
<circle cx="207.65" cy="293.57" r="1.95"/>
<circle cx="227.09" cy="286.16" r="1.95"/>
<circle cx="211.58" cy="280.34" r="1.95"/>
<circle cx="221.41" cy="261.12" r="1.95"/>
<circle cx="217.6" cy="245.47" r="1.95"/>
<circle cx="217.19" cy="285.07" r="1.95"/>
<circle cx="199.61" cy="267.09" r="1.95"/>
<circle cx="197.2" cy="260.12" r="1.95"/>
<circle cx="237.19" cy="266.91" r="1.95"/>
<circle cx="184.4" cy="238.63" r="2.0" stroke-width="1.0"/>
<circle cx="216.62" cy="250.67" r="1.95"/>
<circle cx="247.58" cy="229.03" r="2.0" stroke-width="1.0"/>
<circle cx="204.83" cy="291.21" r="1.95"/>
<circle cx="247.85" cy="262.29" r="2.0" stroke-width="1.0"/>
<circle cx="199.14" cy="249.23" r="1.95"/>
<circle cx="209.57" cy="291.6" r="1.95"/>
<circle cx="196.81" cy="278.27" r="1.95"/>
<circle cx="197.2" cy="259.12" r="1.95"/>
<circle cx="221.68" cy="244.65" r="1.95"/>
<circle cx="202.83" cy="276.17" r="1.95"/>
<circle cx="212.49" cy="271.09" r="1.95"/>
<circle cx="197.84" cy="272.11" r="1.95"/>
<circle cx="214.12" cy="293.22" r="1.95"/>
<circle cx="213.72" cy="261.28" r="1.95"/>
<circle cx="211.99" cy="293.4" r="1.95"/>
<circle cx="189.69" cy="269.87" r="1.95"/>
<circle cx="198.44" cy="287.52" r="1.95"/>
<circle cx="220.16" cy="273.01" r="1.95"/>
<circle cx="214.06" cy="266.92" r="1.95"/>
<circle cx="193.58" cy="252.13" r="1.95"/>
<circle cx="209.39" cy="292.44" r="1.95"/>
<circle cx="200.82" cy="263.8" r="1.95"/>
<circle cx="201.7" cy="271.34" r="1.95"/>
<circle cx="213.93" cy="290.19" r="1.95"/>
<circle cx="215.37" cy="273.86" r="1.95"/>
<circle cx="218.89" cy="267.62" r="1.95"/>
<circle cx="200.32" cy="257.03" r="1.95"/>
<circle cx="200.95" cy="283.65" r="1.95"/>
<circle cx="209.96" cy="287.54" r="1.95"/>
<circle cx="222.15" cy="280.12" r="1.95"/>
<circle cx="191.84" cy="269.12" r="1.95"/>
<circle cx="189" cy="202" r="2.0" stroke-width="1.0"/>
<circle cx="206.07" cy="293.52" r="1.95"/>
<circle cx="228.17" cy="242.52" r="1.95"/>
<circle cx="203.26" cy="275.73" r="1.95"/>
<circle cx="204.28" cy="286.02" r="1.95"/>
<circle cx="211.71" cy="291.39" r="1.95"/>
<circle cx="173.7" cy="242.91" r="2.0" stroke-width="1.0"/>
<circle cx="211.38" cy="290.4" r="1.95"/>
<circle cx="201.18" cy="276.97" r="1.95"/>
<circle cx="200.8" cy="285.31" r="1.95"/>
<circle cx="197.56" cy="256.1" r="1.95"/>
<circle cx="221.94" cy="271.64" r="1.95"/>
<circle cx="202.91" cy="289.15" r="1.95"/>
<circle cx="205.2" cy="290.03" r="1.95"/>
<circle cx="259" cy="253.7" r="2.0" stroke-width="1.0"/>
<circle cx="197.49" cy="237.16" r="1.95"/>
<circle cx="203.88" cy="279.73" r="1.95"/>
<circle cx="207.86" cy="292.49" r="1.95"/>
<circle cx="202.96" cy="272.5" r="1.95"/>
<circle cx="194.71" cy="218.84" r="1.95"/>
<circle cx="197.14" cy="280.71" r="1.95"/>
<circle cx="197.72" cy="233.92" r="1.95"/>
<circle cx="200.49" cy="278.31" r="1.95"/>
<circle cx="199.07" cy="261.64" r="1.95"/>
<circle cx="200.2" cy="256.91" r="1.95"/>
<circle cx="173.7" cy="230.1" r="2.0" stroke-width="1.0"/>
<circle cx="211.68" cy="290.08" r="1.95"/>
<circle cx="203.81" cy="284.31" r="1.95"/>
<circle cx="202.92" cy="287.54" r="1.95"/>
<circle cx="231.18" cy="271.4" r="1.95"/>
<circle cx="223.1" cy="286.93" r="1.95"/>
<circle cx="218.96" cy="266.58" r="1.95"/>
<circle cx="195.09" cy="252.25" r="1.95"/>
<circle cx="200.01" cy="273.61" r="1.95"/>
<circle cx="177.5" cy="167.9" r="2.0" stroke-width="1.0"/>
<circle cx="200.32" cy="261.74" r="1.95"/>
<circle cx="189.91" cy="235.54" r="1.95"/>
<circle cx="195.4" cy="286.03" r="1.95"/>
<circle cx="227.81" cy="211.98" r="2.0" stroke-width="1.0"/>
<circle cx="187.33" cy="282.14" r="1.95"/>
<circle cx="201.83" cy="279.95" r="1.95"/>
<circle cx="204.07" cy="290.24" r="1.95"/>
<circle cx="205.91" cy="292.66" r="1.95"/>
<circle cx="200.54" cy="260.87" r="1.95"/>
<circle cx="206.22" cy="292.89" r="1.95"/>
<circle cx="197" cy="279.4" r="1.95"/>
<circle cx="207.78" cy="292.23" r="1.95"/>
<circle cx="203.94" cy="282.66" r="1.95"/>
<circle cx="204.73" cy="286" r="1.95"/>
<circle cx="214.71" cy="276.4" r="1.95"/>
<circle cx="207.39" cy="293.2" r="1.95"/>
<circle cx="216.83" cy="247.99" r="1.95"/>
<circle cx="202.49" cy="284.16" r="1.95"/>
<circle cx="261.38" cy="244.46" r="2.0" stroke-width="1.0"/>
<circle cx="236.18" cy="285.64" r="1.95"/>
<circle cx="200.15" cy="252.07" r="1.95"/>
<circle cx="201.06" cy="275.7" r="1.95"/>
<circle cx="228.12" cy="237.8" r="1.95"/>
<circle cx="201.07" cy="255.87" r="1.95"/>
<circle cx="195.78" cy="277.53" r="1.95"/>
<circle cx="240.35" cy="282.4" r="2.0" stroke-width="1.0"/>
<circle cx="202.51" cy="277.87" r="1.95"/>
<circle cx="208.81" cy="287.67" r="1.95"/>
<circle cx="214.64" cy="289.25" r="1.95"/>
<circle cx="205.38" cy="292.42" r="1.95"/>
<circle cx="215.4" cy="263.8" r="1.95"/>
<circle cx="223.84" cy="273.44" r="1.95"/>
<circle cx="224.17" cy="241.98" r="1.95"/>
<circle cx="203.29" cy="281.68" r="1.95"/>
<circle cx="196.64" cy="281.02" r="1.95"/>
<circle cx="204.11" cy="277.98" r="1.95"/>
<circle cx="202.53" cy="280.21" r="1.95"/>
<circle cx="198.38" cy="259.89" r="1.95"/>
<circle cx="211.77" cy="277.88" r="1.95"/>
<circle cx="197.41" cy="270.81" r="1.95"/>
<circle cx="212.26" cy="276.45" r="1.95"/>
<circle cx="208.57" cy="292.96" r="1.95"/>
<circle cx="201.23" cy="277.5" r="1.95"/>
<circle cx="213.16" cy="287.68" r="1.95"/>
<circle cx="230.58" cy="250.71" r="1.95"/>
<circle cx="173.59" cy="261.09" r="2.0" stroke-width="1.0"/>
<circle cx="183.92" cy="280.27" r="1.95"/>
<circle cx="214.46" cy="254.39" r="1.95"/>
<circle cx="207.74" cy="292.96" r="1.95"/>
<circle cx="210.13" cy="292.67" r="1.95"/>
<circle cx="229.18" cy="246.42" r="2.0" stroke-width="1.0"/>
<circle cx="208.97" cy="289.01" r="1.95"/>
<circle cx="201.9" cy="278.57" r="1.95"/>
<circle cx="195.48" cy="274.73" r="1.95"/>
<circle cx="196.41" cy="276.94" r="1.95"/>
<circle cx="215.79" cy="256.11" r="1.95"/>
<circle cx="200.65" cy="289.04" r="1.95"/>
<circle cx="214.94" cy="267.86" r="1.95"/>
<circle cx="214.74" cy="262.47" r="1.95"/>
<circle cx="191.93" cy="286.88" r="1.95"/>
<circle cx="198.93" cy="227.56" r="2.0" stroke-width="1.0"/>
<circle cx="218.78" cy="233.94" r="1.95"/>
<circle cx="220.27" cy="279.55" r="1.95"/>
<circle cx="202.08" cy="290.6" r="1.95"/>
<circle cx="216.64" cy="254.66" r="1.95"/>
<circle cx="179.61" cy="270.83" r="1.95"/>
<circle cx="194.12" cy="284.89" r="1.95"/>
<circle cx="192.1" cy="257.65" r="1.95"/>
<circle cx="228.41" cy="278.28" r="1.95"/>
<circle cx="202.66" cy="283.43" r="1.95"/>
<circle cx="203.79" cy="287.94" r="1.95"/>
<circle cx="221.61" cy="220.42" r="1.95"/>
<circle cx="215.64" cy="265.84" r="1.95"/>
<circle cx="176.65" cy="272.14" r="1.95"/>
<circle cx="218.23" cy="244.45" r="1.95"/>
<circle cx="211.93" cy="289.22" r="1.95"/>
<circle cx="214.38" cy="282.81" r="1.95"/>
<circle cx="202.01" cy="288.34" r="1.95"/>
<circle cx="205.78" cy="293.05" r="1.95"/>
<circle cx="216.63" cy="292.98" r="1.95"/>
<circle cx="185.7" cy="180.3" r="2.0" stroke-width="1.0"/>
<circle cx="237.7" cy="194.5" r="2.0" stroke-width="1.0"/>
<circle cx="178.31" cy="271.33" r="1.95"/>
<circle cx="215.81" cy="256.1" r="1.95"/>
<circle cx="158.98" cy="254.32" r="2.0" stroke-width="1.0"/>
<circle cx="238.81" cy="272.53" r="1.95"/>
<circle cx="203.36" cy="281.57" r="1.95"/>
<circle cx="215.92" cy="265.28" r="1.95"/>
<circle cx="189.44" cy="279.97" r="1.95"/>
<circle cx="211.66" cy="268.53" r="1.95"/>
<circle cx="159.54" cy="259.68" r="2.0" stroke-width="1.0"/>
<circle cx="205.24" cy="290.14" r="1.95"/>
<circle cx="200.97" cy="267.93" r="1.95"/>
<circle cx="201.01" cy="263.22" r="1.95"/>
<circle cx="193.78" cy="269.52" r="1.95"/>
<circle cx="204.62" cy="291.13" r="1.95"/>
<circle cx="250.79" cy="260.29" r="1.95"/>
<circle cx="204.18" cy="291.39" r="1.95"/>
<circle cx="233.7" cy="271.63" r="1.95"/>
<circle cx="199.82" cy="261.15" r="1.95"/>
<circle cx="202.61" cy="286.61" r="1.95"/>
<circle cx="195.61" cy="224.79" r="1.95"/>
<circle cx="174.3" cy="239.5" r="2.0" stroke-width="1.0"/>
<circle cx="198.74" cy="287.74" r="1.95"/>
<circle cx="229.98" cy="257.04" r="1.95"/>
<circle cx="235.48" cy="282.59" r="1.95"/>
<circle cx="211.72" cy="288.27" r="1.95"/>
<circle cx="202.71" cy="281.84" r="1.95"/>
<circle cx="207.81" cy="292.4" r="1.95"/>
<circle cx="193.34" cy="279.81" r="1.95"/>
<circle cx="219.23" cy="262.22" r="1.95"/>
<circle cx="198.04" cy="244.05" r="1.95"/>
<circle cx="237.48" cy="226.28" r="2.0" stroke-width="1.0"/>
<circle cx="214.88" cy="274.22" r="1.95"/>
<circle cx="208.63" cy="293.08" r="1.95"/>
<circle cx="157.2" cy="163.4" r="2.0" stroke-width="1.0"/>
<circle cx="184.3" cy="201.3" r="2.0" stroke-width="1.0"/>
<circle cx="183.9" cy="263.85" r="1.95"/>
<circle cx="205.02" cy="288.42" r="1.95"/>
<circle cx="201.28" cy="270.81" r="1.95"/>
<circle cx="205.19" cy="289.34" r="1.95"/>
<circle cx="204.08" cy="290.11" r="1.95"/>
<circle cx="201.32" cy="287.66" r="1.95"/>
<circle cx="217.55" cy="262.77" r="1.95"/>
<circle cx="211.67" cy="289.51" r="1.95"/>
<circle cx="213.72" cy="286.63" r="1.95"/>
<circle cx="202.25" cy="265.93" r="1.95"/>
<circle cx="203.72" cy="283.48" r="1.95"/>
<circle cx="228.6" cy="274.3" r="1.95"/>
<circle cx="209.79" cy="292.99" r="1.95"/>
<circle cx="202.53" cy="286.34" r="1.95"/>
<circle cx="207.47" cy="293.36" r="1.95"/>
<circle cx="189.42" cy="276.33" r="1.95"/>
<circle cx="195.18" cy="219.45" r="1.95"/>
<circle cx="188.53" cy="244.09" r="2.0" stroke-width="1.0"/>
<circle cx="202.34" cy="281.39" r="1.95"/>
<circle cx="201.14" cy="291.64" r="1.95"/>
<circle cx="201.49" cy="260.57" r="1.95"/>
<circle cx="212" cy="275.51" r="1.95"/>
<circle cx="212.36" cy="278.41" r="1.95"/>
<circle cx="218.64" cy="269.32" r="1.95"/>
<circle cx="190.14" cy="274.77" r="1.95"/>
<circle cx="194.22" cy="218.13" r="1.95"/>
<circle cx="189.26" cy="285.63" r="1.95"/>
<circle cx="216.28" cy="255.99" r="1.95"/>
<circle cx="287.2" cy="227.2" r="2.0" stroke-width="1.0"/>
<circle cx="239.9" cy="275.96" r="1.95"/>
<circle cx="220" cy="280.37" r="1.95"/>
<circle cx="210.69" cy="284.19" r="1.95"/>
<circle cx="258.76" cy="255.54" r="2.0" stroke-width="1.0"/>
<circle cx="203.89" cy="288.18" r="1.95"/>
<circle cx="211.21" cy="286.44" r="1.95"/>
<circle cx="235.85" cy="239.11" r="2.0" stroke-width="1.0"/>
<circle cx="218.57" cy="251.34" r="1.95"/>
<circle cx="158" cy="239.9" r="2.0" stroke-width="1.0"/>
<circle cx="217.59" cy="251.99" r="1.95"/>
<circle cx="224.32" cy="272.14" r="1.95"/>
<circle cx="198.7" cy="242.23" r="1.95"/>
<circle cx="205.15" cy="289.4" r="1.95"/>
<circle cx="207.86" cy="292.94" r="1.95"/>
<circle cx="175.73" cy="276.81" r="2.0" stroke-width="1.0"/>
<circle cx="210.07" cy="283.89" r="1.95"/>
<circle cx="181" cy="255.17" r="2.0" stroke-width="1.0"/>
<circle cx="200.88" cy="261.99" r="1.95"/>
<circle cx="202.6" cy="280.81" r="1.95"/>
<circle cx="243.31" cy="234.26" r="2.0" stroke-width="1.0"/>
<circle cx="217.44" cy="288.34" r="1.95"/>
<circle cx="211.15" cy="284.26" r="1.95"/>
<circle cx="221.01" cy="237.33" r="1.95"/>
<circle cx="209.19" cy="289.86" r="1.95"/>
<circle cx="213.43" cy="266.81" r="1.95"/>
<circle cx="213.16" cy="259.33" r="1.95"/>
<circle cx="213.6" cy="286.62" r="1.95"/>
<circle cx="194.54" cy="267.56" r="1.95"/>
<circle cx="200.18" cy="266.67" r="1.95"/>
<circle cx="195.17" cy="239.34" r="1.95"/>
<circle cx="201.79" cy="279.15" r="1.95"/>
<circle cx="250.38" cy="266.86" r="2.0" stroke-width="1.0"/>
<circle cx="222.38" cy="249.55" r="1.95"/>
<circle cx="208.71" cy="293.15" r="1.95"/>
<circle cx="203.78" cy="277.63" r="1.95"/>
<circle cx="205.35" cy="288.88" r="1.95"/>
<circle cx="244.4" cy="198.2" r="2.0" stroke-width="1.0"/>
<circle cx="205.5" cy="291.91" r="1.95"/>
<circle cx="203.99" cy="287.48" r="1.95"/>
<circle cx="202.46" cy="264.72" r="1.95"/>
<circle cx="197.68" cy="244.27" r="1.95"/>
<circle cx="203.17" cy="277.58" r="1.95"/>
<circle cx="211.65" cy="290.35" r="1.95"/>
<circle cx="242.99" cy="249.78" r="2.0" stroke-width="1.0"/>
<circle cx="189.51" cy="283.64" r="1.95"/>
<circle cx="204.56" cy="286.2" r="1.95"/>
<circle cx="194.75" cy="233.22" r="1.95"/>
<circle cx="190.33" cy="246.35" r="2.0" stroke-width="1.0"/>
<circle cx="245.28" cy="271.85" r="1.95"/>
<circle cx="200.1" cy="277.27" r="1.95"/>
<circle cx="217.35" cy="272.44" r="1.95"/>
<circle cx="215.84" cy="252.98" r="1.95"/>
<circle cx="207.06" cy="292.84" r="1.95"/>
<circle cx="220.08" cy="286.78" r="1.95"/>
<circle cx="226.22" cy="236.55" r="2.0" stroke-width="1.0"/>
<circle cx="200.02" cy="263.79" r="1.95"/>
<circle cx="209.74" cy="289.43" r="1.95"/>
<circle cx="212.14" cy="282.22" r="1.95"/>
<circle cx="191.65" cy="214.16" r="1.95"/>
<circle cx="203.14" cy="286.51" r="1.95"/>
<circle cx="213.71" cy="285.3" r="1.95"/>
<circle cx="210.6" cy="288.24" r="1.95"/>
<circle cx="253.8" cy="192.7" r="2.0" stroke-width="1.0"/>
<circle cx="226.06" cy="287.42" r="1.95"/>
<circle cx="203.18" cy="291.85" r="1.95"/>
<circle cx="230.33" cy="283.04" r="1.95"/>
<circle cx="198.88" cy="278.39" r="1.95"/>
<circle cx="205.8" cy="292.16" r="1.95"/>
<circle cx="200.76" cy="280.44" r="1.95"/>
<circle cx="204.41" cy="287.69" r="1.95"/>
<circle cx="217" cy="260.15" r="1.95"/>
<circle cx="203.26" cy="278.34" r="1.95"/>
<circle cx="197.22" cy="263.19" r="1.95"/>
<circle cx="196.97" cy="291.68" r="1.95"/>
<circle cx="194.14" cy="222.26" r="1.95"/>
<circle cx="192.93" cy="209.01" r="2.0" stroke-width="1.0"/>
<circle cx="223.61" cy="257.12" r="1.95"/>
<circle cx="196" cy="235.17" r="1.95"/>
<circle cx="203.03" cy="276.84" r="1.95"/>
<circle cx="201.25" cy="282.59" r="1.95"/>
<circle cx="204.44" cy="288.86" r="1.95"/>
<circle cx="198.83" cy="256.2" r="1.95"/>
<circle cx="216.41" cy="293.11" r="1.95"/>
<circle cx="215.14" cy="279.16" r="1.95"/>
<circle cx="168.33" cy="264.8" r="2.0" stroke-width="1.0"/>
<circle cx="211.37" cy="285.17" r="1.95"/>
<circle cx="225.52" cy="285.47" r="1.95"/>
<circle cx="219.22" cy="269.78" r="1.95"/>
<circle cx="182.9" cy="197.3" r="2.0" stroke-width="1.0"/>
<circle cx="220.18" cy="248.76" r="1.95"/>
<circle cx="203.03" cy="262.71" r="1.95"/>
<circle cx="214.27" cy="264.96" r="1.95"/>
<circle cx="215.64" cy="292.36" r="1.95"/>
<circle cx="165.21" cy="262.54" r="2.0" stroke-width="1.0"/>
<circle cx="207.69" cy="292.75" r="1.95"/>
<circle cx="215.42" cy="280.87" r="1.95"/>
<circle cx="192.64" cy="282.76" r="1.95"/>
<circle cx="186.3" cy="197.9" r="2.0" stroke-width="1.0"/>
<circle cx="241.01" cy="275.31" r="1.95"/>
<circle cx="212.57" cy="266.82" r="1.95"/>
<circle cx="212.91" cy="285.03" r="1.95"/>
<circle cx="164.73" cy="260.46" r="2.0" stroke-width="1.0"/>
<circle cx="204.13" cy="285.97" r="1.95"/>
<circle cx="196.36" cy="265.96" r="1.95"/>
<circle cx="214.45" cy="251.09" r="1.95"/>
<circle cx="216.62" cy="272.07" r="1.95"/>
<circle cx="201.79" cy="275.09" r="1.95"/>
<circle cx="222.03" cy="227.6" r="1.95"/>
<circle cx="200.46" cy="274.71" r="1.95"/>
<circle cx="209.27" cy="288.75" r="1.95"/>
<circle cx="172.1" cy="171.9" r="2.0" stroke-width="1.0"/>
<circle cx="202.25" cy="276.36" r="1.95"/>
<circle cx="234.36" cy="251.88" r="2.0" stroke-width="1.0"/>
<circle cx="253.07" cy="253.27" r="2.0" stroke-width="1.0"/>
<circle cx="216.71" cy="238.52" r="1.95"/>
<circle cx="226.8" cy="267.35" r="1.95"/>
<circle cx="195.02" cy="278.84" r="1.95"/>
<circle cx="201.02" cy="248.85" r="1.95"/>
<circle cx="200.19" cy="272.75" r="1.95"/>
<circle cx="187.07" cy="260.48" r="2.0" stroke-width="1.0"/>
<circle cx="226.33" cy="216.34" r="1.95"/>
<circle cx="205.53" cy="293.28" r="1.95"/>
<circle cx="212.67" cy="266.98" r="1.95"/>
<circle cx="200.6" cy="271.37" r="1.95"/>
<circle cx="199.49" cy="271.63" r="1.95"/>
<circle cx="201.29" cy="273.04" r="1.95"/>
<circle cx="210.26" cy="284.71" r="1.95"/>
<circle cx="205.61" cy="293.36" r="1.95"/>
<circle cx="207.71" cy="293.54" r="1.95"/>
<circle cx="201.29" cy="264.3" r="1.95"/>
<circle cx="213.56" cy="276.21" r="1.95"/>
<circle cx="203.01" cy="268.08" r="1.95"/>
<circle cx="216.3" cy="257.26" r="1.95"/>
<circle cx="203.06" cy="281.93" r="1.95"/>
<circle cx="216.38" cy="266.39" r="1.95"/>
<circle cx="213.16" cy="292.47" r="1.95"/>
<circle cx="221.96" cy="278.48" r="1.95"/>
<circle cx="235.15" cy="285.76" r="1.95"/>
<circle cx="200.15" cy="274.61" r="1.95"/>
<circle cx="201.63" cy="282.35" r="1.95"/>
<circle cx="218.52" cy="252.14" r="1.95"/>
<circle cx="208.18" cy="292.95" r="1.95"/>
<circle cx="196.58" cy="241.46" r="1.95"/>
<circle cx="223" cy="283.73" r="1.95"/>
<circle cx="204.3" cy="281.74" r="1.95"/>
<circle cx="209.41" cy="285.88" r="1.95"/>
<circle cx="212.87" cy="255.87" r="1.95"/>
<circle cx="131.2" cy="243.4" r="2.0" stroke-width="1.0"/>
<circle cx="209.41" cy="290.56" r="1.95"/>
<circle cx="199.13" cy="286.99" r="1.95"/>
<circle cx="221.83" cy="270.67" r="1.95"/>
<circle cx="209.67" cy="282.41" r="1.95"/>
<circle cx="204.37" cy="285.44" r="1.95"/>
<circle cx="210.72" cy="285.61" r="1.95"/>
<circle cx="212.29" cy="280.55" r="1.95"/>
<circle cx="215.15" cy="246.31" r="1.95"/>
<circle cx="216.14" cy="258.33" r="1.95"/>
<circle cx="203.85" cy="286.47" r="1.95"/>
<circle cx="196.57" cy="249.44" r="1.95"/>
<circle cx="206.07" cy="293.31" r="1.95"/>
<circle cx="197.31" cy="254.61" r="1.95"/>
<circle cx="203.6" cy="285.68" r="1.95"/>
<circle cx="222.14" cy="215.49" r="1.95"/>
<circle cx="204.92" cy="290.17" r="1.95"/>
<circle cx="199.45" cy="261.76" r="1.95"/>
<circle cx="218.77" cy="271.11" r="1.95"/>
<circle cx="203.86" cy="285.03" r="1.95"/>
<circle cx="202.45" cy="274.66" r="1.95"/>
<circle cx="239.83" cy="260.18" r="2.0" stroke-width="1.0"/>
<circle cx="199.35" cy="267.51" r="1.95"/>
<circle cx="203.06" cy="288.21" r="1.95"/>
<circle cx="212.39" cy="292.86" r="1.95"/>
<circle cx="214.48" cy="266.69" r="1.95"/>
<circle cx="205.16" cy="286" r="1.95"/>
<circle cx="202.06" cy="286.46" r="1.95"/>
<circle cx="197.57" cy="226.34" r="1.95"/>
<circle cx="234.32" cy="271.77" r="1.95"/>
<circle cx="199.35" cy="288.93" r="1.95"/>
<circle cx="225.12" cy="223.99" r="1.95"/>
<circle cx="201.49" cy="275.98" r="1.95"/>
<circle cx="216.03" cy="258.31" r="1.95"/>
<circle cx="209.62" cy="288.5" r="1.95"/>
<circle cx="216.83" cy="285.02" r="1.95"/>
<circle cx="208.5" cy="288.64" r="1.95"/>
<circle cx="212.61" cy="292.09" r="1.95"/>
<circle cx="221.55" cy="275.22" r="1.95"/>
<circle cx="215.03" cy="292.82" r="1.95"/>
<circle cx="195.44" cy="245.24" r="1.95"/>
<circle cx="174.18" cy="257.22" r="2.0" stroke-width="1.0"/>
<circle cx="213.36" cy="279.08" r="1.95"/>
<circle cx="213.12" cy="255.35" r="1.95"/>
<circle cx="203.23" cy="282.04" r="1.95"/>
<circle cx="222.98" cy="286.99" r="1.95"/>
<circle cx="203.75" cy="283.17" r="1.95"/>
<circle cx="250.11" cy="260.59" r="1.95"/>
<circle cx="196.28" cy="230.88" r="1.95"/>
<circle cx="247.8" cy="238.18" r="2.0" stroke-width="1.0"/>
<circle cx="177.4" cy="269.48" r="1.95"/>
<circle cx="232.71" cy="224.05" r="2.0" stroke-width="1.0"/>
<circle cx="218.71" cy="256.32" r="1.95"/>
<circle cx="225.77" cy="252.66" r="1.95"/>
<circle cx="182.72" cy="269.29" r="1.95"/>
<circle cx="188.72" cy="267.46" r="1.95"/>
<circle cx="204.28" cy="284.57" r="1.95"/>
<circle cx="204.17" cy="287.22" r="1.95"/>
<circle cx="147.4" cy="194.1" r="2.0" stroke-width="1.0"/>
<circle cx="229.4" cy="273.6" r="1.95"/>
<circle cx="211.57" cy="276.51" r="1.95"/>
<circle cx="216.91" cy="288.09" r="1.95"/>
<circle cx="203.65" cy="280.33" r="1.95"/>
<circle cx="213.91" cy="266.77" r="1.95"/>
<circle cx="208.44" cy="288.75" r="1.95"/>
<circle cx="214.52" cy="277.33" r="1.95"/>
<circle cx="205.69" cy="291.84" r="1.95"/>
<circle cx="194.47" cy="232.38" r="1.95"/>
<circle cx="180.34" cy="280.91" r="1.95"/>
<circle cx="215.05" cy="262.11" r="1.95"/>
<circle cx="204.81" cy="288.71" r="1.95"/>
<circle cx="201.38" cy="291.65" r="1.95"/>
<circle cx="211.96" cy="273.29" r="1.95"/>
<circle cx="250.06" cy="262.77" r="1.95"/>
<circle cx="218.73" cy="259.15" r="1.95"/>
<circle cx="218.37" cy="285.2" r="1.95"/>
<circle cx="212.93" cy="290.98" r="1.95"/>
<circle cx="235.84" cy="274.78" r="1.95"/>
<circle cx="193.75" cy="241.41" r="1.95"/>
<circle cx="211.73" cy="293.28" r="1.95"/>
<circle cx="222.69" cy="248.38" r="1.95"/>
<circle cx="222.83" cy="255.56" r="1.95"/>
<circle cx="197.86" cy="254.92" r="1.95"/>
<circle cx="210.45" cy="281.23" r="1.95"/>
<circle cx="210.4" cy="288.64" r="1.95"/>
<circle cx="209.12" cy="287.07" r="1.95"/>
<circle cx="213.69" cy="287.58" r="1.95"/>
<circle cx="197.41" cy="281.73" r="1.95"/>
<circle cx="203.63" cy="293.03" r="1.95"/>
<circle cx="215.63" cy="264.74" r="1.95"/>
<circle cx="202.52" cy="281" r="1.95"/>
<circle cx="212.65" cy="282.53" r="1.95"/>
<circle cx="200.57" cy="270.01" r="1.95"/>
<circle cx="205.51" cy="291.41" r="1.95"/>
<circle cx="249" cy="208.6" r="2.0" stroke-width="1.0"/>
<circle cx="240.57" cy="279.87" r="1.95"/>
<circle cx="237.57" cy="285.56" r="2.0" stroke-width="1.0"/>
<circle cx="212.1" cy="281.06" r="1.95"/>
<circle cx="193.35" cy="236.13" r="1.95"/>
<circle cx="217.63" cy="259.34" r="1.95"/>
<circle cx="214.33" cy="262.34" r="1.95"/>
<circle cx="180.18" cy="264.13" r="1.95"/>
<circle cx="196.49" cy="281.69" r="1.95"/>
<circle cx="213.06" cy="280.32" r="1.95"/>
<circle cx="209.21" cy="292.54" r="1.95"/>
<circle cx="214.34" cy="286.02" r="1.95"/>
<circle cx="215.26" cy="268.31" r="1.95"/>
<circle cx="221.8" cy="255.96" r="1.95"/>
<circle cx="215.49" cy="260.83" r="1.95"/>
<circle cx="212.7" cy="271.37" r="1.95"/>
<circle cx="211.92" cy="267.31" r="1.95"/>
<circle cx="205.6" cy="292.23" r="1.95"/>
<circle cx="200.91" cy="275.9" r="1.95"/>
<circle cx="214.09" cy="260.1" r="1.95"/>
<circle cx="214.09" cy="260.45" r="1.95"/>
<circle cx="202.41" cy="287.97" r="1.95"/>
<circle cx="203.65" cy="285.51" r="1.95"/>
<circle cx="214.15" cy="291.4" r="1.95"/>
<circle cx="213.72" cy="261.2" r="1.95"/>
<circle cx="207.63" cy="293.36" r="1.95"/>
<circle cx="225.62" cy="262.93" r="1.95"/>
<circle cx="199.74" cy="259.78" r="1.95"/>
<circle cx="230.84" cy="262.74" r="1.95"/>
<circle cx="222.28" cy="289.83" r="1.95"/>
<circle cx="201.41" cy="270.06" r="1.95"/>
<circle cx="210.24" cy="283.71" r="1.95"/>
<circle cx="217.12" cy="262.77" r="1.95"/>
<circle cx="197.82" cy="248.78" r="1.95"/>
<circle cx="204.93" cy="291.15" r="1.95"/>
<circle cx="218.88" cy="240.74" r="1.95"/>
<circle cx="193.02" cy="263.13" r="1.95"/>
<circle cx="214.29" cy="263.99" r="1.95"/>
<circle cx="199.58" cy="275.44" r="1.95"/>
<circle cx="244.67" cy="239.25" r="2.0" stroke-width="1.0"/>
<circle cx="233.47" cy="255.8" r="1.95"/>
<circle cx="211.78" cy="277.38" r="1.95"/>
<circle cx="201.82" cy="284.62" r="1.95"/>
<circle cx="242.78" cy="279.85" r="1.95"/>
<circle cx="233.94" cy="236.79" r="2.0" stroke-width="1.0"/>
<circle cx="194.35" cy="239.04" r="1.95"/>
<circle cx="222.04" cy="280.92" r="1.95"/>
<circle cx="215.3" cy="260.28" r="1.95"/>
<circle cx="219.02" cy="253.26" r="1.95"/>
<circle cx="257.4" cy="229.9" r="2.0" stroke-width="1.0"/>
<circle cx="203.07" cy="271.71" r="1.95"/>
<circle cx="176.99" cy="258.95" r="2.0" stroke-width="1.0"/>
<circle cx="215.54" cy="256.35" r="1.95"/>
<circle cx="200.46" cy="258.95" r="1.95"/>
<circle cx="219.84" cy="277.79" r="1.95"/>
<circle cx="210.72" cy="281.13" r="1.95"/>
<circle cx="199.29" cy="263.84" r="1.95"/>
<circle cx="202.33" cy="276.8" r="1.95"/>
<circle cx="199.3" cy="257.04" r="1.95"/>
<circle cx="202.66" cy="281.4" r="1.95"/>
<circle cx="200.11" cy="260.37" r="1.95"/>
<circle cx="213.76" cy="285.62" r="1.95"/>
<circle cx="233.95" cy="273.19" r="1.95"/>
<circle cx="193.14" cy="244.56" r="1.95"/>
<circle cx="238.28" cy="284.51" r="1.95"/>
<circle cx="215.11" cy="290.92" r="1.95"/>
<circle cx="209.4" cy="287.57" r="1.95"/>
<circle cx="178.84" cy="280.53" r="2.0" stroke-width="1.0"/>
<circle cx="217.56" cy="269" r="1.95"/>
<circle cx="201.91" cy="266.9" r="1.95"/>
<circle cx="188.2" cy="254.57" r="2.0" stroke-width="1.0"/>
<circle cx="203.38" cy="290.45" r="1.95"/>
<circle cx="211.1" cy="285.54" r="1.95"/>
<circle cx="212" cy="274.45" r="1.95"/>
<circle cx="230.09" cy="248.81" r="2.0" stroke-width="1.0"/>
<circle cx="202.28" cy="279.59" r="1.95"/>
<circle cx="234.14" cy="266.43" r="1.95"/>
<circle cx="221.1" cy="217.46" r="1.95"/>
<circle cx="176.2" cy="169.5" r="2.0" stroke-width="1.0"/>
<circle cx="241.39" cy="279.81" r="1.95"/>
<circle cx="221.32" cy="247.84" r="1.95"/>
<circle cx="250.2" cy="217.6" r="2.0" stroke-width="1.0"/>
<circle cx="210.52" cy="286.14" r="1.95"/>
<circle cx="223.6" cy="225.37" r="1.95"/>
<circle cx="202.26" cy="278.4" r="1.95"/>
<circle cx="219.12" cy="235.93" r="1.95"/>
<circle cx="210.24" cy="280.25" r="1.95"/>
<circle cx="195.66" cy="227.09" r="1.95"/>
<circle cx="216.99" cy="276.91" r="1.95"/>
<circle cx="214.3" cy="247.39" r="1.95"/>
<circle cx="209.82" cy="286.66" r="1.95"/>
<circle cx="203.79" cy="285.12" r="1.95"/>
<circle cx="205.92" cy="293.14" r="1.95"/>
<circle cx="218.9" cy="274.87" r="1.95"/>
<circle cx="159.32" cy="248.19" r="2.0" stroke-width="1.0"/>
<circle cx="166.26" cy="256.93" r="2.0" stroke-width="1.0"/>
<circle cx="233.06" cy="284.84" r="1.95"/>
<circle cx="259.68" cy="243.63" r="2.0" stroke-width="1.0"/>
<circle cx="233.08" cy="220.07" r="2.0" stroke-width="1.0"/>
<circle cx="209.16" cy="289.52" r="1.95"/>
<circle cx="201.61" cy="263.46" r="1.95"/>
<circle cx="197.96" cy="242.27" r="1.95"/>
<circle cx="223.85" cy="274.36" r="1.95"/>
<circle cx="216.75" cy="251.87" r="1.95"/>
<circle cx="181.75" cy="276.45" r="1.95"/>
<circle cx="195.76" cy="262.64" r="1.95"/>
<circle cx="213.38" cy="285.7" r="1.95"/>
<circle cx="201.5" cy="265.47" r="1.95"/>
<circle cx="216.46" cy="264.6" r="1.95"/>
<circle cx="223.25" cy="242.91" r="1.95"/>
<circle cx="199.68" cy="270.03" r="1.95"/>
<circle cx="214" cy="288.72" r="1.95"/>
<circle cx="237.68" cy="223.92" r="2.0" stroke-width="1.0"/>
<circle cx="204.9" cy="292.79" r="1.95"/>
<circle cx="202.36" cy="272.39" r="1.95"/>
<circle cx="203.01" cy="279.86" r="1.95"/>
<circle cx="214.16" cy="293.56" r="1.95"/>
<circle cx="231.59" cy="248.5" r="2.0" stroke-width="1.0"/>
<circle cx="210.58" cy="285.21" r="1.95"/>
<circle cx="204.48" cy="291.15" r="1.95"/>
<circle cx="204.89" cy="286.51" r="1.95"/>
<circle cx="203.12" cy="276.11" r="1.95"/>
<circle cx="203.83" cy="292.87" r="1.95"/>
<circle cx="199.06" cy="265.75" r="1.95"/>
<circle cx="202.05" cy="270.89" r="1.95"/>
<circle cx="200.09" cy="282.23" r="1.95"/>
<circle cx="224.51" cy="274.26" r="1.95"/>
<circle cx="208.36" cy="291.84" r="1.95"/>
<circle cx="195.44" cy="278.1" r="1.95"/>
<circle cx="186.99" cy="254.8" r="2.0" stroke-width="1.0"/>
<circle cx="215" cy="264.82" r="1.95"/>
<circle cx="211.24" cy="291.62" r="1.95"/>
<circle cx="202.71" cy="283.15" r="1.95"/>
<circle cx="199.58" cy="248.72" r="1.95"/>
<circle cx="187.31" cy="273.82" r="1.95"/>
<circle cx="208.81" cy="289.53" r="1.95"/>
<circle cx="210.27" cy="280.87" r="1.95"/>
<circle cx="211.96" cy="280.76" r="1.95"/>
<circle cx="225.68" cy="274.1" r="1.95"/>
<circle cx="221.78" cy="222.64" r="1.95"/>
<circle cx="241.33" cy="269.86" r="1.95"/>
<circle cx="201.37" cy="266.36" r="1.95"/>
<circle cx="207.98" cy="292.55" r="1.95"/>
<circle cx="203.07" cy="279.48" r="1.95"/>
<circle cx="203.02" cy="293.57" r="1.95"/>
<circle cx="220.9" cy="242.75" r="1.95"/>
<circle cx="214.42" cy="254.26" r="1.95"/>
<circle cx="202.34" cy="276.23" r="1.95"/>
<circle cx="261.34" cy="241.31" r="2.0" stroke-width="1.0"/>
<circle cx="185.89" cy="280.36" r="1.95"/>
<circle cx="211.95" cy="279.26" r="1.95"/>
<circle cx="202.29" cy="276.05" r="1.95"/>
<circle cx="199.87" cy="247.11" r="1.95"/>
<circle cx="195.26" cy="244.51" r="1.95"/>
<circle cx="211.38" cy="277.65" r="1.95"/>
<circle cx="178.84" cy="269.56" r="1.95"/>
<circle cx="214.04" cy="271.3" r="1.95"/>
<circle cx="193.71" cy="278.27" r="1.95"/>
<circle cx="204.74" cy="291.36" r="1.95"/>
<circle cx="213.28" cy="274.6" r="1.95"/>
<circle cx="218.21" cy="282.02" r="1.95"/>
<circle cx="201.49" cy="271.94" r="1.95"/>
<circle cx="204.17" cy="285.27" r="1.95"/>
<circle cx="205.98" cy="292.78" r="1.95"/>
<circle cx="198.56" cy="273.54" r="1.95"/>
<circle cx="204.55" cy="287.67" r="1.95"/>
<circle cx="207.86" cy="292.38" r="1.95"/>
<circle cx="200.27" cy="274.01" r="1.95"/>
<circle cx="202.9" cy="284.61" r="1.95"/>
<circle cx="223.59" cy="278.55" r="1.95"/>
<circle cx="224.17" cy="247.35" r="1.95"/>
<circle cx="209.49" cy="285.15" r="1.95"/>
<circle cx="207.79" cy="291.46" r="1.95"/>
<circle cx="213.91" cy="256.74" r="1.95"/>
<circle cx="208.75" cy="287.43" r="1.95"/>
<circle cx="203.57" cy="281.27" r="1.95"/>
<circle cx="203.95" cy="286.48" r="1.95"/>
<circle cx="210.48" cy="281.99" r="1.95"/>
<circle cx="233.54" cy="236.28" r="2.0" stroke-width="1.0"/>
<circle cx="216.29" cy="261" r="1.95"/>
<circle cx="247.86" cy="242.97" r="2.0" stroke-width="1.0"/>
<circle cx="194.51" cy="246.6" r="1.95"/>
<circle cx="203.38" cy="290.68" r="1.95"/>
<circle cx="208.42" cy="289.94" r="1.95"/>
<circle cx="216.2" cy="246.46" r="1.95"/>
<circle cx="209.48" cy="293.57" r="1.95"/>
<circle cx="199.71" cy="267.07" r="1.95"/>
<circle cx="199.36" cy="250.08" r="1.95"/>
<circle cx="202.96" cy="287.28" r="1.95"/>
<circle cx="204.68" cy="287.67" r="1.95"/>
<circle cx="214.95" cy="287.83" r="1.95"/>
<circle cx="213.44" cy="273.29" r="1.95"/>
<circle cx="242.47" cy="274.78" r="1.95"/>
<circle cx="218.43" cy="248.46" r="1.95"/>
<circle cx="156.2" cy="165.1" r="2.0" stroke-width="1.0"/>
<circle cx="204.83" cy="292.9" r="1.95"/>
<circle cx="219.15" cy="274.98" r="1.95"/>
<circle cx="205.7" cy="291.92" r="1.95"/>
<circle cx="221.95" cy="284.39" r="1.95"/>
<circle cx="221.2" cy="203.1" r="2.0" stroke-width="1.0"/>
<circle cx="203.34" cy="278.22" r="1.95"/>
<circle cx="203.04" cy="285.65" r="1.95"/>
<circle cx="224.3" cy="286.73" r="1.95"/>
<circle cx="233.1" cy="164.2" r="2.0" stroke-width="1.0"/>
<circle cx="213.91" cy="285.64" r="1.95"/>
<circle cx="236.1" cy="251.94" r="2.0" stroke-width="1.0"/>
<circle cx="215.68" cy="256.07" r="1.95"/>
<circle cx="194.92" cy="223.93" r="1.95"/>
<circle cx="238.77" cy="282.04" r="1.95"/>
<circle cx="213.78" cy="280.88" r="1.95"/>
<circle cx="199.55" cy="267.58" r="1.95"/>
<circle cx="204.85" cy="289.11" r="1.95"/>
<circle cx="210.96" cy="279.8" r="1.95"/>
<circle cx="197.92" cy="241.04" r="1.95"/>
<circle cx="197.5" cy="249.06" r="1.95"/>
<circle cx="221.56" cy="288.94" r="1.95"/>
<circle cx="163.22" cy="263.46" r="2.0" stroke-width="1.0"/>
<circle cx="193.4" cy="244.27" r="1.95"/>
<circle cx="208.53" cy="290.63" r="1.95"/>
<circle cx="230.73" cy="260.11" r="1.95"/>
<circle cx="226.36" cy="259.34" r="1.95"/>
<circle cx="209.44" cy="293.31" r="1.95"/>
<circle cx="203.51" cy="283.67" r="1.95"/>
<circle cx="198.17" cy="288.41" r="1.95"/>
<circle cx="217.15" cy="271.65" r="1.95"/>
<circle cx="208.74" cy="290.4" r="1.95"/>
<circle cx="224.99" cy="274.16" r="1.95"/>
<circle cx="252.21" cy="255.86" r="2.0" stroke-width="1.0"/>
<circle cx="224.63" cy="242.36" r="1.95"/>
<circle cx="249.84" cy="259.61" r="1.95"/>
<circle cx="213.98" cy="293.06" r="1.95"/>
<circle cx="236.29" cy="263.46" r="1.95"/>
<circle cx="235.93" cy="284.56" r="1.95"/>
<circle cx="218.48" cy="265" r="1.95"/>
<circle cx="210.08" cy="280.68" r="1.95"/>
<circle cx="201.65" cy="289.25" r="1.95"/>
<circle cx="209.59" cy="285.26" r="1.95"/>
<circle cx="258.01" cy="259.27" r="2.0" stroke-width="1.0"/>
<circle cx="213.26" cy="272.83" r="1.95"/>
<circle cx="219.9" cy="244.81" r="1.95"/>
<circle cx="191.42" cy="284.99" r="1.95"/>
<circle cx="169.1" cy="208.6" r="2.0" stroke-width="1.0"/>
<circle cx="212.07" cy="293.51" r="1.95"/>
<circle cx="213.45" cy="265.54" r="1.95"/>
<circle cx="217.62" cy="272.4" r="1.95"/>
<circle cx="198.86" cy="278.2" r="1.95"/>
<circle cx="241.75" cy="280.21" r="1.95"/>
<circle cx="201.45" cy="276.94" r="1.95"/>
<circle cx="211.9" cy="279.39" r="1.95"/>
<circle cx="195.35" cy="268.55" r="1.95"/>
<circle cx="198" cy="271.95" r="1.95"/>
<circle cx="188.79" cy="277.15" r="1.95"/>
<circle cx="195.23" cy="231.72" r="1.95"/>
<circle cx="210.29" cy="286.13" r="1.95"/>
<circle cx="234.35" cy="263.3" r="1.95"/>
<circle cx="203.35" cy="292.99" r="1.95"/>
<circle cx="184.1" cy="272.56" r="1.95"/>
<circle cx="213.16" cy="269.05" r="1.95"/>
<circle cx="287.2" cy="208" r="2.0" stroke-width="1.0"/>
<circle cx="221.44" cy="237.98" r="1.95"/>
<circle cx="216.99" cy="274.03" r="1.95"/>
<circle cx="156.9" cy="255.46" r="2.0" stroke-width="1.0"/>
<circle cx="201.35" cy="266.38" r="1.95"/>
<circle cx="212.03" cy="280.64" r="1.95"/>
<circle cx="209.97" cy="282.81" r="1.95"/>
<circle cx="213.3" cy="266.17" r="1.95"/>
<circle cx="203.81" cy="284.04" r="1.95"/>
<circle cx="165.19" cy="244.42" r="2.0" stroke-width="1.0"/>
<circle cx="204.5" cy="285.22" r="1.95"/>
<circle cx="193.99" cy="220.69" r="1.95"/>
<circle cx="215.25" cy="271.26" r="1.95"/>
<circle cx="204.7" cy="293.37" r="1.95"/>
<circle cx="213.59" cy="279.13" r="1.95"/>
<circle cx="199.22" cy="271.95" r="1.95"/>
<circle cx="201.42" cy="275.2" r="1.95"/>
<circle cx="199.36" cy="269.69" r="1.95"/>
<circle cx="222.41" cy="245.13" r="1.95"/>
<circle cx="216.78" cy="272.45" r="1.95"/>
<circle cx="220.91" cy="287.77" r="1.95"/>
<circle cx="195.72" cy="218.76" r="1.95"/>
<circle cx="202.22" cy="266.72" r="1.95"/>
<circle cx="242.72" cy="228.72" r="2.0" stroke-width="1.0"/>
<circle cx="232.75" cy="253.58" r="1.95"/>
<circle cx="183.4" cy="151.4" r="2.0" stroke-width="1.0"/>
<circle cx="172.47" cy="272.42" r="2.0" stroke-width="1.0"/>
<circle cx="210.51" cy="277.41" r="1.95"/>
<circle cx="214.6" cy="258.12" r="1.95"/>
<circle cx="209.29" cy="289.04" r="1.95"/>
<circle cx="215.84" cy="268.93" r="1.95"/>
<circle cx="218.62" cy="221.93" r="2.0" stroke-width="1.0"/>
<circle cx="202.2" cy="291.62" r="1.95"/>
<circle cx="232.24" cy="251.98" r="1.95"/>
<circle cx="213.05" cy="275.84" r="1.95"/>
<circle cx="200.82" cy="268.44" r="1.95"/>
<circle cx="183.61" cy="275.57" r="1.95"/>
<circle cx="203.05" cy="286.4" r="1.95"/>
<circle cx="203.44" cy="283.18" r="1.95"/>
<circle cx="224.26" cy="282.92" r="1.95"/>
<circle cx="176.4" cy="221" r="2.0" stroke-width="1.0"/>
<circle cx="240.92" cy="283.68" r="2.0" stroke-width="1.0"/>
<circle cx="217.02" cy="285.58" r="1.95"/>
<circle cx="218.71" cy="279.47" r="1.95"/>
<circle cx="227.79" cy="249.47" r="1.95"/>
<circle cx="201.24" cy="262.39" r="1.95"/>
<circle cx="201.82" cy="284.81" r="1.95"/>
<circle cx="211.73" cy="283.74" r="1.95"/>
<circle cx="254.64" cy="256.91" r="2.0" stroke-width="1.0"/>
<circle cx="198.76" cy="234.6" r="1.95"/>
<circle cx="216.82" cy="282.44" r="1.95"/>
<circle cx="184.29" cy="254.83" r="2.0" stroke-width="1.0"/>
<circle cx="201.04" cy="270.73" r="1.95"/>
<circle cx="203.74" cy="286.71" r="1.95"/>
<circle cx="216.19" cy="242.43" r="1.95"/>
<circle cx="203.33" cy="284.07" r="1.95"/>
<circle cx="207.95" cy="292.72" r="1.95"/>
<circle cx="215.73" cy="274.61" r="1.95"/>
<circle cx="171.1" cy="248.9" r="2.0" stroke-width="1.0"/>
<circle cx="200.89" cy="240.98" r="1.95"/>
<circle cx="203.68" cy="287.62" r="1.95"/>
<circle cx="188.04" cy="210.48" r="2.0" stroke-width="1.0"/>
<circle cx="231.94" cy="273.92" r="1.95"/>
<circle cx="200.07" cy="275.32" r="1.95"/>
<circle cx="203.56" cy="286.58" r="1.95"/>
<circle cx="180.58" cy="267.45" r="1.95"/>
<circle cx="199.23" cy="269.53" r="1.95"/>
<circle cx="199.86" cy="279.37" r="1.95"/>
<circle cx="197.15" cy="270.77" r="1.95"/>
<circle cx="200.55" cy="262.79" r="1.95"/>
<circle cx="198.41" cy="245.07" r="1.95"/>
<circle cx="218.3" cy="289.08" r="1.95"/>
<circle cx="218.14" cy="220.81" r="2.0" stroke-width="1.0"/>
<circle cx="202.26" cy="289.42" r="1.95"/>
<circle cx="188.95" cy="213" r="2.0" stroke-width="1.0"/>
<circle cx="220.81" cy="281.15" r="1.95"/>
<circle cx="198.01" cy="237.56" r="1.95"/>
<circle cx="223.04" cy="272.29" r="1.95"/>
<circle cx="234.5" cy="265.54" r="1.95"/>
<circle cx="184.1" cy="221.9" r="2.0" stroke-width="1.0"/>
<circle cx="213.88" cy="276.41" r="1.95"/>
<circle cx="235.15" cy="269.82" r="1.95"/>
<circle cx="250.33" cy="231.54" r="2.0" stroke-width="1.0"/>
<circle cx="216.88" cy="287.87" r="1.95"/>
<circle cx="243.99" cy="260.46" r="2.0" stroke-width="1.0"/>
<circle cx="194.9" cy="275.46" r="1.95"/>
<circle cx="208.15" cy="292.34" r="1.95"/>
<circle cx="216.94" cy="283.09" r="1.95"/>
<circle cx="191.37" cy="282.75" r="1.95"/>
<circle cx="212.66" cy="276.32" r="1.95"/>
<circle cx="213.1" cy="275.57" r="1.95"/>
<circle cx="202.89" cy="273.96" r="1.95"/>
<circle cx="242.98" cy="227.78" r="2.0" stroke-width="1.0"/>
<circle cx="191.44" cy="253.38" r="1.95"/>
<circle cx="190.42" cy="213.35" r="1.95"/>
<circle cx="221.61" cy="250.19" r="1.95"/>
<circle cx="213.05" cy="286.36" r="1.95"/>
<circle cx="197.4" cy="241.67" r="1.95"/>
<circle cx="200.99" cy="255.82" r="1.95"/>
<circle cx="216.51" cy="253.63" r="1.95"/>
<circle cx="190.93" cy="264.94" r="1.95"/>
<circle cx="204.62" cy="293.28" r="1.95"/>
<circle cx="225.67" cy="244.97" r="1.95"/>
<circle cx="225.77" cy="287.84" r="1.95"/>
<circle cx="229.53" cy="279.38" r="1.95"/>
<circle cx="201.89" cy="283.8" r="1.95"/>
<circle cx="202.3" cy="273.5" r="1.95"/>
<circle cx="201.52" cy="276.52" r="1.95"/>
<circle cx="212.23" cy="272.37" r="1.95"/>
<circle cx="212.27" cy="289.13" r="1.95"/>
<circle cx="221.38" cy="222.23" r="1.95"/>
<circle cx="227.65" cy="254.22" r="1.95"/>
<circle cx="202.94" cy="286.04" r="1.95"/>
<circle cx="204.34" cy="288.34" r="1.95"/>
<circle cx="203.18" cy="282.73" r="1.95"/>
<circle cx="202.94" cy="283.61" r="1.95"/>
<circle cx="234.28" cy="257.37" r="2.0" stroke-width="1.0"/>
<circle cx="195.07" cy="280.39" r="1.95"/>
<circle cx="219.71" cy="272.51" r="1.95"/>
<circle cx="200.61" cy="268.6" r="1.95"/>
<circle cx="171" cy="234.1" r="2.0" stroke-width="1.0"/>
<circle cx="225.17" cy="224.35" r="1.95"/>
<circle cx="180.04" cy="274.9" r="1.95"/>
<circle cx="201.16" cy="287.89" r="1.95"/>
<circle cx="230.45" cy="235.22" r="2.0" stroke-width="1.0"/>
<circle cx="215.36" cy="292.29" r="1.95"/>
<circle cx="204.96" cy="288.73" r="1.95"/>
<circle cx="203.83" cy="276.79" r="1.95"/>
<circle cx="204.36" cy="287.73" r="1.95"/>
<circle cx="200.65" cy="266.34" r="1.95"/>
<circle cx="204.82" cy="283.09" r="1.95"/>
<circle cx="219.73" cy="242.51" r="1.95"/>
<circle cx="203.45" cy="287.02" r="1.95"/>
<circle cx="225.45" cy="288.72" r="1.95"/>
<circle cx="203.28" cy="280.03" r="1.95"/>
<circle cx="207.75" cy="293.04" r="1.95"/>
<circle cx="189.72" cy="278.11" r="1.95"/>
<circle cx="199.2" cy="255.01" r="1.95"/>
<circle cx="201.72" cy="277.49" r="1.95"/>
<circle cx="217.59" cy="230.56" r="1.95"/>
<circle cx="196.69" cy="253.54" r="1.95"/>
<circle cx="193.12" cy="210.38" r="1.95"/>
<circle cx="191.37" cy="214.38" r="1.95"/>
<circle cx="204.04" cy="284.71" r="1.95"/>
<circle cx="214.28" cy="266.1" r="1.95"/>
<circle cx="189.36" cy="280.64" r="1.95"/>
<circle cx="182.38" cy="259.39" r="1.95"/>
<circle cx="215.18" cy="276.25" r="1.95"/>
<circle cx="212.03" cy="280.85" r="1.95"/>
<circle cx="200.69" cy="248.12" r="1.95"/>
<circle cx="198.3" cy="269.65" r="1.95"/>
<circle cx="217.69" cy="252.73" r="1.95"/>
<circle cx="210.27" cy="286.12" r="1.95"/>
<circle cx="204.62" cy="292.49" r="1.95"/>
<circle cx="187.9" cy="226.06" r="2.0" stroke-width="1.0"/>
<circle cx="202.13" cy="272.15" r="1.95"/>
<circle cx="201.74" cy="275.69" r="1.95"/>
<circle cx="219.93" cy="269.25" r="1.95"/>
<circle cx="252.99" cy="234.55" r="2.0" stroke-width="1.0"/>
<circle cx="208.84" cy="287.1" r="1.95"/>
<circle cx="204.19" cy="291.25" r="1.95"/>
<circle cx="196.94" cy="243.19" r="1.95"/>
<circle cx="223.78" cy="265.59" r="1.95"/>
<circle cx="201.81" cy="268.96" r="1.95"/>
<circle cx="209.02" cy="292.16" r="1.95"/>
<circle cx="203.27" cy="288.88" r="1.95"/>
<circle cx="192.52" cy="273.65" r="1.95"/>
<circle cx="204.39" cy="284.28" r="1.95"/>
<circle cx="216.7" cy="246.15" r="1.95"/>
<circle cx="202.5" cy="286.82" r="1.95"/>
<circle cx="218.36" cy="247.01" r="1.95"/>
<circle cx="178.13" cy="258.39" r="1.95"/>
<circle cx="216.23" cy="271.86" r="1.95"/>
<circle cx="241.54" cy="260.97" r="2.0" stroke-width="1.0"/>
<circle cx="199.83" cy="242.87" r="1.95"/>
<circle cx="202.65" cy="269.18" r="1.95"/>
<circle cx="197.44" cy="236.61" r="1.95"/>
<circle cx="248.44" cy="263.35" r="2.0" stroke-width="1.0"/>
<circle cx="197.18" cy="285.34" r="1.95"/>
<circle cx="198.84" cy="258.7" r="1.95"/>
<circle cx="193.24" cy="284.61" r="1.95"/>
<circle cx="211.77" cy="278.45" r="1.95"/>
<circle cx="228.25" cy="224.35" r="2.0" stroke-width="1.0"/>
<circle cx="214.03" cy="262.86" r="1.95"/>
<circle cx="244.03" cy="259.79" r="2.0" stroke-width="1.0"/>
<circle cx="203.2" cy="276.31" r="1.95"/>
<circle cx="174.5" cy="260.78" r="2.0" stroke-width="1.0"/>
<circle cx="206.01" cy="293.46" r="1.95"/>
<circle cx="226.21" cy="225.91" r="1.95"/>
<circle cx="217.56" cy="291.43" r="1.95"/>
<circle cx="230.28" cy="212.41" r="2.0" stroke-width="1.0"/>
<circle cx="197.57" cy="244.72" r="1.95"/>
<circle cx="181.65" cy="273.81" r="1.95"/>
<circle cx="213.78" cy="269.52" r="1.95"/>
<circle cx="198.16" cy="268.22" r="1.95"/>
<circle cx="205.01" cy="288.17" r="1.95"/>
<circle cx="199.55" cy="270.74" r="1.95"/>
<circle cx="193.82" cy="225.61" r="1.95"/>
<circle cx="202.83" cy="290.21" r="1.95"/>
<circle cx="201.25" cy="289" r="1.95"/>
<circle cx="213.91" cy="278.71" r="1.95"/>
<circle cx="178.2" cy="250.74" r="2.0" stroke-width="1.0"/>
<circle cx="200.02" cy="284.79" r="1.95"/>
<circle cx="209.83" cy="284.16" r="1.95"/>
<circle cx="234.91" cy="226.46" r="2.0" stroke-width="1.0"/>
<circle cx="177.37" cy="279.37" r="2.0" stroke-width="1.0"/>
<circle cx="203.87" cy="293.26" r="1.95"/>
<circle cx="197.78" cy="244.66" r="1.95"/>
<circle cx="232.47" cy="263.52" r="1.95"/>
<circle cx="210.82" cy="280.47" r="1.95"/>
<circle cx="201.27" cy="275.42" r="1.95"/>
<circle cx="230.08" cy="287.05" r="1.95"/>
<circle cx="209.13" cy="289.16" r="1.95"/>
<circle cx="202.9" cy="276.71" r="1.95"/>
<circle cx="201.11" cy="274.79" r="1.95"/>
<circle cx="248.72" cy="265.68" r="2.0" stroke-width="1.0"/>
<circle cx="198.45" cy="264.21" r="1.95"/>
<circle cx="209.34" cy="292.8" r="1.95"/>
<circle cx="221.67" cy="263.79" r="1.95"/>
<circle cx="221.07" cy="256.79" r="1.95"/>
<circle cx="212.53" cy="269.71" r="1.95"/>
<circle cx="228.45" cy="275.12" r="1.95"/>
<circle cx="195.69" cy="254.23" r="1.95"/>
<circle cx="223.44" cy="243.79" r="1.95"/>
<circle cx="180.87" cy="266.76" r="1.95"/>
<circle cx="197.42" cy="252.95" r="1.95"/>
<circle cx="205.93" cy="292.68" r="1.95"/>
<circle cx="211.81" cy="283.37" r="1.95"/>
<circle cx="219.36" cy="277.8" r="1.95"/>
<circle cx="204.46" cy="278.62" r="1.95"/>
<circle cx="203.01" cy="270.33" r="1.95"/>
<circle cx="203.27" cy="282.61" r="1.95"/>
<circle cx="213.8" cy="279.98" r="1.95"/>
<circle cx="217.81" cy="292.97" r="1.95"/>
<circle cx="202.79" cy="285.58" r="1.95"/>
<circle cx="215.67" cy="287.99" r="1.95"/>
<circle cx="197.68" cy="251.53" r="1.95"/>
<circle cx="219.24" cy="274.51" r="1.95"/>
<circle cx="213.57" cy="282.1" r="1.95"/>
<circle cx="229.22" cy="237.61" r="1.95"/>
<circle cx="199.93" cy="283.1" r="1.95"/>
<circle cx="229.05" cy="279.69" r="1.95"/>
<circle cx="207.73" cy="292.89" r="1.95"/>
<circle cx="197.3" cy="280.24" r="1.95"/>
<circle cx="245.36" cy="242.67" r="2.0" stroke-width="1.0"/>
<circle cx="215.68" cy="262.45" r="1.95"/>
<circle cx="203.76" cy="285.46" r="1.95"/>
<circle cx="196.89" cy="244.92" r="1.95"/>
<circle cx="202.7" cy="290.7" r="1.95"/>
<circle cx="197.22" cy="273.64" r="1.95"/>
<circle cx="217.05" cy="292.06" r="1.95"/>
<circle cx="232.21" cy="255.64" r="1.95"/>
<circle cx="180.9" cy="276.61" r="1.95"/>
<circle cx="248.13" cy="273.26" r="1.95"/>
<circle cx="201.46" cy="271.3" r="1.95"/>
<circle cx="204.7" cy="285.61" r="1.95"/>
<circle cx="214.3" cy="269.16" r="1.95"/>
<circle cx="225.88" cy="272.72" r="1.95"/>
<circle cx="211.57" cy="275.15" r="1.95"/>
<circle cx="239.1" cy="229" r="2.0" stroke-width="1.0"/>
<circle cx="200.34" cy="261.59" r="1.95"/>
<circle cx="205.57" cy="292.37" r="1.95"/>
<circle cx="200.67" cy="272.08" r="1.95"/>
<circle cx="226.27" cy="250.42" r="1.95"/>
<circle cx="213.95" cy="274.83" r="1.95"/>
<circle cx="194.28" cy="247.41" r="1.95"/>
<circle cx="214.67" cy="279.6" r="1.95"/>
<circle cx="203.15" cy="281.06" r="1.95"/>
<circle cx="204.77" cy="292.19" r="1.95"/>
<circle cx="193.96" cy="268.11" r="1.95"/>
<circle cx="214.29" cy="261.76" r="1.95"/>
<circle cx="204.41" cy="291.54" r="1.95"/>
<circle cx="204.81" cy="289.03" r="1.95"/>
<circle cx="214.25" cy="256.29" r="1.95"/>
<circle cx="212.37" cy="290.85" r="1.95"/>
<circle cx="198.85" cy="272.5" r="1.95"/>
<circle cx="199.43" cy="259.16" r="1.95"/>
<circle cx="210.45" cy="288.7" r="1.95"/>
<circle cx="212.36" cy="272.24" r="1.95"/>
<circle cx="219.51" cy="286.79" r="1.95"/>
<circle cx="214.58" cy="258.6" r="1.95"/>
<circle cx="222.3" cy="210.95" r="2.0" stroke-width="1.0"/>
<circle cx="200.83" cy="254.84" r="1.95"/>
<circle cx="230.22" cy="253.1" r="1.95"/>
<circle cx="168.57" cy="264.99" r="2.0" stroke-width="1.0"/>
<circle cx="201.18" cy="271.75" r="1.95"/>
<circle cx="212.88" cy="276.21" r="1.95"/>
<circle cx="220.18" cy="281.94" r="1.95"/>
<circle cx="202.12" cy="284.08" r="1.95"/>
<circle cx="197.6" cy="291.42" r="1.95"/>
<circle cx="191.25" cy="264.78" r="1.95"/>
<circle cx="217.6" cy="239.67" r="1.95"/>
<circle cx="241.79" cy="254.41" r="2.0" stroke-width="1.0"/>
<circle cx="189.38" cy="253.52" r="1.95"/>
<circle cx="202.82" cy="283.27" r="1.95"/>
<circle cx="200.5" cy="258.37" r="1.95"/>
<circle cx="205.88" cy="293.47" r="1.95"/>
<circle cx="228.34" cy="212.1" r="2.0" stroke-width="1.0"/>
<circle cx="194.79" cy="260.08" r="1.95"/>
<circle cx="218.44" cy="272.48" r="1.95"/>
<circle cx="200.16" cy="263.21" r="1.95"/>
<circle cx="193.96" cy="252.5" r="1.95"/>
<circle cx="219.54" cy="232.1" r="1.95"/>
<circle cx="207.94" cy="291.78" r="1.95"/>
<circle cx="257.48" cy="237.87" r="2.0" stroke-width="1.0"/>
<circle cx="198.03" cy="248.29" r="1.95"/>
<circle cx="225.81" cy="280.37" r="1.95"/>
<circle cx="217.66" cy="245.89" r="1.95"/>
<circle cx="209.46" cy="287.06" r="1.95"/>
<circle cx="216.51" cy="291.1" r="1.95"/>
<circle cx="219.28" cy="271.63" r="1.95"/>
<circle cx="209.81" cy="288.1" r="1.95"/>
<circle cx="233.85" cy="254.54" r="1.95"/>
<circle cx="214.49" cy="275.74" r="1.95"/>
<circle cx="244.22" cy="247.93" r="2.0" stroke-width="1.0"/>
<circle cx="165.97" cy="263.44" r="2.0" stroke-width="1.0"/>
<circle cx="194.43" cy="244.25" r="1.95"/>
<circle cx="231.9" cy="280.47" r="1.95"/>
<circle cx="198.44" cy="260.53" r="1.95"/>
<circle cx="195.75" cy="273.89" r="1.95"/>
<circle cx="194.55" cy="283.06" r="1.95"/>
<circle cx="271.6" cy="154.2" r="2.0" stroke-width="1.0"/>
<circle cx="240.2" cy="254.68" r="2.0" stroke-width="1.0"/>
<circle cx="206.2" cy="293.56" r="1.95"/>
<circle cx="210.54" cy="282.05" r="1.95"/>
<circle cx="200.61" cy="258.55" r="1.95"/>
<circle cx="247.9" cy="272.59" r="1.95"/>
<circle cx="213.56" cy="264.79" r="1.95"/>
<circle cx="180.14" cy="280.81" r="1.95"/>
<circle cx="192.2" cy="214.47" r="1.95"/>
<circle cx="210.59" cy="275.44" r="1.95"/>
<circle cx="217.45" cy="247.92" r="1.95"/>
<circle cx="226.01" cy="230.52" r="1.95"/>
<circle cx="194.59" cy="283.33" r="1.95"/>
<circle cx="220.93" cy="249.56" r="1.95"/>
<circle cx="205.92" cy="293.33" r="1.95"/>
<circle cx="200.09" cy="256.61" r="1.95"/>
<circle cx="203.65" cy="290.98" r="1.95"/>
<circle cx="208.53" cy="291.58" r="1.95"/>
<circle cx="187.49" cy="270.39" r="1.95"/>
<circle cx="203.82" cy="283.88" r="1.95"/>
<circle cx="228.51" cy="219.16" r="2.0" stroke-width="1.0"/>
<circle cx="225.63" cy="253.98" r="1.95"/>
<circle cx="200.89" cy="291.94" r="1.95"/>
<circle cx="211.74" cy="279.53" r="1.95"/>
<circle cx="199.53" cy="252.68" r="1.95"/>
<circle cx="203.32" cy="280.03" r="1.95"/>
<circle cx="193.58" cy="257.74" r="1.95"/>
<circle cx="208.35" cy="290.64" r="1.95"/>
<circle cx="210.75" cy="292.31" r="1.95"/>
<circle cx="204.92" cy="288.71" r="1.95"/>
<circle cx="238.72" cy="239.47" r="2.0" stroke-width="1.0"/>
<circle cx="165.86" cy="251.58" r="2.0" stroke-width="1.0"/>
<circle cx="207.88" cy="292.94" r="1.95"/>
<circle cx="224.77" cy="227.77" r="1.95"/>
<circle cx="236.3" cy="220.6" r="2.0" stroke-width="1.0"/>
<circle cx="220.16" cy="246.4" r="1.95"/>
<circle cx="188.64" cy="255.36" r="1.95"/>
<circle cx="195.27" cy="240.65" r="1.95"/>
<circle cx="188.2" cy="239.44" r="2.0" stroke-width="1.0"/>
<circle cx="200.25" cy="293.11" r="1.95"/>
<circle cx="233.2" cy="264.2" r="1.95"/>
<circle cx="196.16" cy="242.86" r="1.95"/>
<circle cx="220.82" cy="242.26" r="1.95"/>
<circle cx="190.41" cy="230.79" r="2.0" stroke-width="1.0"/>
<circle cx="201.63" cy="284.39" r="1.95"/>
<circle cx="186.77" cy="222.46" r="2.0" stroke-width="1.0"/>
<circle cx="195.89" cy="237.68" r="1.95"/>
<circle cx="201.42" cy="269.31" r="1.95"/>
<circle cx="202.25" cy="268.96" r="1.95"/>
<circle cx="223.8" cy="255.01" r="1.95"/>
<circle cx="202.62" cy="271" r="1.95"/>
<circle cx="213.63" cy="275.24" r="1.95"/>
<circle cx="217.52" cy="286.26" r="1.95"/>
<circle cx="208.38" cy="290.25" r="1.95"/>
<circle cx="217.15" cy="253.57" r="1.95"/>
<circle cx="247.53" cy="274.27" r="1.95"/>
<circle cx="197.88" cy="261.58" r="1.95"/>
<circle cx="202.65" cy="278.87" r="1.95"/>
<circle cx="212.5" cy="270.04" r="1.95"/>
<circle cx="211.64" cy="279.92" r="1.95"/>
<circle cx="212.57" cy="272.73" r="1.95"/>
<circle cx="203.93" cy="290.2" r="1.95"/>
<circle cx="187.28" cy="255.04" r="1.95"/>
<circle cx="230.89" cy="270.84" r="1.95"/>
<circle cx="198.1" cy="263.33" r="1.95"/>
<circle cx="197.23" cy="285.07" r="1.95"/>
<circle cx="215.7" cy="258.79" r="1.95"/>
<circle cx="217.78" cy="292.84" r="1.95"/>
<circle cx="216.56" cy="233.97" r="1.95"/>
<circle cx="204.23" cy="292.75" r="1.95"/>
<circle cx="239.1" cy="208.2" r="2.0" stroke-width="1.0"/>
<circle cx="198.44" cy="225.54" r="2.0" stroke-width="1.0"/>
<circle cx="197.26" cy="249.8" r="1.95"/>
<circle cx="200.19" cy="249.2" r="1.95"/>
<circle cx="210.65" cy="275.41" r="1.95"/>
<circle cx="229.67" cy="239.94" r="1.95"/>
<circle cx="203.79" cy="279.76" r="1.95"/>
<circle cx="177.32" cy="249.9" r="2.0" stroke-width="1.0"/>
<circle cx="219.75" cy="231.44" r="1.95"/>
<circle cx="197.59" cy="292.21" r="1.95"/>
<circle cx="213.05" cy="274.08" r="1.95"/>
<circle cx="232.89" cy="282.06" r="1.95"/>
<circle cx="200.79" cy="275.47" r="1.95"/>
<circle cx="199.53" cy="285.51" r="1.95"/>
<circle cx="195.95" cy="283.84" r="1.95"/>
<circle cx="197.55" cy="260.17" r="1.95"/>
<circle cx="198.88" cy="234.9" r="1.95"/>
<circle cx="196.19" cy="262.68" r="1.95"/>
<circle cx="208.79" cy="293.13" r="1.95"/>
<circle cx="198.83" cy="217.49" r="2.0" stroke-width="1.0"/>
<circle cx="239.07" cy="262.8" r="1.95"/>
<circle cx="205.11" cy="292.18" r="1.95"/>
<circle cx="200.16" cy="241.9" r="1.95"/>
<circle cx="200.98" cy="269.94" r="1.95"/>
<circle cx="193.7" cy="245.3" r="1.95"/>
<circle cx="205.1" cy="289.66" r="1.95"/>
<circle cx="202.45" cy="282.38" r="1.95"/>
<circle cx="233.1" cy="282.56" r="1.95"/>
<circle cx="208.06" cy="293.18" r="1.95"/>
<circle cx="188.38" cy="267.33" r="1.95"/>
<circle cx="202.57" cy="275.29" r="1.95"/>
<circle cx="239.42" cy="276.13" r="1.95"/>
<circle cx="221.14" cy="263.7" r="1.95"/>
<circle cx="193.23" cy="262.84" r="1.95"/>
<circle cx="224.68" cy="271.83" r="1.95"/>
<circle cx="214.68" cy="272.34" r="1.95"/>
<circle cx="194.56" cy="275.74" r="1.95"/>
<circle cx="203.19" cy="274.24" r="1.95"/>
<circle cx="211.73" cy="274.34" r="1.95"/>
<circle cx="199.31" cy="258.49" r="1.95"/>
<circle cx="211.56" cy="275.82" r="1.95"/>
<circle cx="209.61" cy="286.36" r="1.95"/>
<circle cx="220.27" cy="237.55" r="1.95"/>
<circle cx="278.8" cy="202.4" r="2.0" stroke-width="1.0"/>
<circle cx="203.53" cy="282.04" r="1.95"/>
<circle cx="216.42" cy="262.5" r="1.95"/>
<circle cx="204.36" cy="286.7" r="1.95"/>
<circle cx="187.11" cy="230.65" r="2.0" stroke-width="1.0"/>
<circle cx="205.35" cy="293.59" r="1.95"/>
<circle cx="198.78" cy="262.71" r="1.95"/>
<circle cx="194.46" cy="242.19" r="1.95"/>
<circle cx="196.79" cy="288.3" r="1.95"/>
<circle cx="228.94" cy="231.4" r="2.0" stroke-width="1.0"/>
<circle cx="230.32" cy="228.86" r="2.0" stroke-width="1.0"/>
<circle cx="204.32" cy="282.36" r="1.95"/>
<circle cx="204.22" cy="282.35" r="1.95"/>
<circle cx="196.96" cy="286.09" r="1.95"/>
<circle cx="199.83" cy="268.18" r="1.95"/>
<circle cx="231.37" cy="278.65" r="1.95"/>
<circle cx="168.82" cy="255.96" r="2.0" stroke-width="1.0"/>
<circle cx="209.56" cy="285.47" r="1.95"/>
<circle cx="243.82" cy="273.18" r="1.95"/>
<circle cx="217.74" cy="228.23" r="1.95"/>
<circle cx="175.5" cy="198.6" r="2.0" stroke-width="1.0"/>
<circle cx="203.64" cy="283.99" r="1.95"/>
<circle cx="206.46" cy="293.3" r="1.95"/>
<circle cx="193.4" cy="215.37" r="1.95"/>
<circle cx="182.93" cy="250.79" r="2.0" stroke-width="1.0"/>
<circle cx="208.49" cy="290.96" r="1.95"/>
<circle cx="195.57" cy="221.12" r="1.95"/>
<circle cx="215.17" cy="263.37" r="1.95"/>
<circle cx="220.05" cy="286.87" r="1.95"/>
<circle cx="204.37" cy="284.31" r="1.95"/>
<circle cx="210.21" cy="282.91" r="1.95"/>
<circle cx="253.26" cy="252.13" r="2.0" stroke-width="1.0"/>
<circle cx="213.41" cy="264.07" r="1.95"/>
<circle cx="239.19" cy="266.85" r="1.95"/>
<circle cx="205.65" cy="292.06" r="1.95"/>
<circle cx="204.09" cy="286.33" r="1.95"/>
<circle cx="246.4" cy="179.5" r="2.0" stroke-width="1.0"/>
<circle cx="185.93" cy="261.86" r="1.95"/>
<circle cx="193.23" cy="271.06" r="1.95"/>
<circle cx="203.42" cy="291.08" r="1.95"/>
<circle cx="211.33" cy="287.6" r="1.95"/>
<circle cx="206.09" cy="293.04" r="1.95"/>
<circle cx="200.04" cy="255.53" r="1.95"/>
<circle cx="151.5" cy="242.4" r="2.0" stroke-width="1.0"/>
<circle cx="194.27" cy="215.07" r="1.95"/>
<circle cx="194.2" cy="276.29" r="1.95"/>
<circle cx="205.99" cy="292.91" r="1.95"/>
<circle cx="191.76" cy="218.65" r="1.95"/>
<circle cx="199.57" cy="259.95" r="1.95"/>
<circle cx="217.92" cy="212.88" r="2.0" stroke-width="1.0"/>
<circle cx="213.69" cy="273.94" r="1.95"/>
<circle cx="227.22" cy="227.64" r="1.95"/>
<circle cx="206.35" cy="292.98" r="1.95"/>
<circle cx="236.2" cy="257.28" r="2.0" stroke-width="1.0"/>
<circle cx="195.37" cy="214.61" r="1.95"/>
<circle cx="202.86" cy="291.14" r="1.95"/>
<circle cx="202.92" cy="275.81" r="1.95"/>
<circle cx="202.87" cy="288.14" r="1.95"/>
<circle cx="200.84" cy="271.94" r="1.95"/>
<circle cx="205.28" cy="293.08" r="1.95"/>
<circle cx="176.16" cy="259.45" r="2.0" stroke-width="1.0"/>
<circle cx="225.14" cy="275.69" r="1.95"/>
<circle cx="195.34" cy="291.02" r="1.95"/>
<circle cx="196.23" cy="263.01" r="1.95"/>
<circle cx="170.82" cy="250.13" r="2.0" stroke-width="1.0"/>
<circle cx="230.86" cy="254.42" r="1.95"/>
<circle cx="194.89" cy="235.72" r="1.95"/>
<circle cx="197.82" cy="279.06" r="1.95"/>
<circle cx="214.94" cy="261.36" r="1.95"/>
<circle cx="154.5" cy="203.6" r="2.0" stroke-width="1.0"/>
<circle cx="212.79" cy="269.32" r="1.95"/>
<circle cx="208.49" cy="287.49" r="1.95"/>
<circle cx="204.33" cy="291.9" r="1.95"/>
<circle cx="203.79" cy="284.28" r="1.95"/>
<circle cx="200.81" cy="271.75" r="1.95"/>
<circle cx="242.84" cy="278.93" r="1.95"/>
<circle cx="217.8" cy="259.71" r="1.95"/>
<circle cx="215.74" cy="293.36" r="1.95"/>
<circle cx="198.18" cy="262.82" r="1.95"/>
<circle cx="219.06" cy="283.56" r="1.95"/>
<circle cx="198.35" cy="293.28" r="1.95"/>
<circle cx="211.29" cy="272.67" r="1.95"/>
<circle cx="210.63" cy="280.9" r="1.95"/>
<circle cx="205.87" cy="292.96" r="1.95"/>
<circle cx="232.09" cy="276.26" r="1.95"/>
<circle cx="210.47" cy="283.97" r="1.95"/>
<circle cx="240.41" cy="276.57" r="1.95"/>
<circle cx="200.48" cy="265.37" r="1.95"/>
<circle cx="219.22" cy="263.88" r="1.95"/>
<circle cx="203" cy="281.3" r="1.95"/>
<circle cx="241.1" cy="283.47" r="2.0" stroke-width="1.0"/>
<circle cx="253.76" cy="262.18" r="2.0" stroke-width="1.0"/>
<circle cx="210.87" cy="274.71" r="1.95"/>
<circle cx="214.27" cy="253.93" r="1.95"/>
<circle cx="161.7" cy="173.6" r="2.0" stroke-width="1.0"/>
<circle cx="222.34" cy="280.14" r="1.95"/>
<circle cx="195.41" cy="209.1" r="2.0" stroke-width="1.0"/>
<circle cx="212.87" cy="261.85" r="1.95"/>
<circle cx="210.87" cy="287.05" r="1.95"/>
<circle cx="201.36" cy="265.04" r="1.95"/>
<circle cx="191.32" cy="260.25" r="1.95"/>
<circle cx="199.29" cy="254.02" r="1.95"/>
<circle cx="172.78" cy="247.12" r="2.0" stroke-width="1.0"/>
<circle cx="191.7" cy="196.3" r="2.0" stroke-width="1.0"/>
<circle cx="208.75" cy="289.87" r="1.95"/>
<circle cx="213.36" cy="284.99" r="1.95"/>
<circle cx="194.12" cy="230.14" r="1.95"/>
<circle cx="194.45" cy="261.13" r="1.95"/>
<circle cx="211.89" cy="276.06" r="1.95"/>
<circle cx="219.83" cy="289.18" r="1.95"/>
<circle cx="219.24" cy="262.96" r="1.95"/>
<circle cx="196.71" cy="285.22" r="1.95"/>
<circle cx="190.15" cy="280.88" r="1.95"/>
<circle cx="208.92" cy="293.13" r="1.95"/>
<circle cx="205.03" cy="289.13" r="1.95"/>
<circle cx="193.57" cy="276.18" r="1.95"/>
<circle cx="213.19" cy="269.77" r="1.95"/>
<circle cx="181.07" cy="276.44" r="1.95"/>
<circle cx="225.77" cy="280.71" r="1.95"/>
<circle cx="245.99" cy="232.02" r="2.0" stroke-width="1.0"/>
<circle cx="211.54" cy="275.6" r="1.95"/>
<circle cx="198.56" cy="291.48" r="1.95"/>
<circle cx="217.49" cy="289.28" r="1.95"/>
<circle cx="234.87" cy="255.87" r="2.0" stroke-width="1.0"/>
<circle cx="232.73" cy="286.38" r="1.95"/>
<circle cx="196.7" cy="223.08" r="1.95"/>
<circle cx="212.32" cy="270.28" r="1.95"/>
<circle cx="226.92" cy="229.25" r="1.95"/>
<circle cx="212.87" cy="268.98" r="1.95"/>
<circle cx="224.43" cy="221.65" r="1.95"/>
<circle cx="210.78" cy="282.22" r="1.95"/>
<circle cx="204.22" cy="286.44" r="1.95"/>
<circle cx="243.76" cy="275.09" r="1.95"/>
<circle cx="203.76" cy="281.2" r="1.95"/>
<circle cx="215.85" cy="259.11" r="1.95"/>
<circle cx="201.53" cy="274.3" r="1.95"/>
<circle cx="212.89" cy="271.55" r="1.95"/>
<circle cx="209.95" cy="281.72" r="1.95"/>
<circle cx="213.98" cy="276.29" r="1.95"/>
<circle cx="181.49" cy="264.64" r="1.95"/>
<circle cx="211.16" cy="293.6" r="1.95"/>
<circle cx="214.12" cy="267.32" r="1.95"/>
<circle cx="217.23" cy="271.78" r="1.95"/>
<circle cx="224.37" cy="218.15" r="1.95"/>
<circle cx="170.51" cy="268.68" r="2.0" stroke-width="1.0"/>
<circle cx="200.9" cy="283.89" r="1.95"/>
<circle cx="205.23" cy="289.87" r="1.95"/>
<circle cx="196.89" cy="235.4" r="1.95"/>
<circle cx="178.47" cy="268.3" r="1.95"/>
<circle cx="168.7" cy="208.1" r="2.0" stroke-width="1.0"/>
<circle cx="233.13" cy="267.95" r="1.95"/>
<circle cx="215.75" cy="255.91" r="1.95"/>
<circle cx="184.32" cy="265.61" r="1.95"/>
<circle cx="201.81" cy="276.84" r="1.95"/>
<circle cx="199.95" cy="266" r="1.95"/>
<circle cx="196.01" cy="246.2" r="1.95"/>
<circle cx="197.29" cy="276.56" r="1.95"/>
<circle cx="196.45" cy="291.15" r="1.95"/>
<circle cx="211.58" cy="280.53" r="1.95"/>
<circle cx="200.39" cy="261.95" r="1.95"/>
<circle cx="205.59" cy="292.33" r="1.95"/>
<circle cx="216.82" cy="234.99" r="1.95"/>
<circle cx="221.94" cy="215.33" r="2.0" stroke-width="1.0"/>
<circle cx="208.89" cy="287.3" r="1.95"/>
<circle cx="193.5" cy="292.6" r="2.0" stroke-width="1.0"/>
<circle cx="197" cy="293.2" r="2.0" stroke-width="1.0"/>
<circle cx="200.8" cy="293.5" r="2.0" stroke-width="1.0"/>
<circle cx="204.6" cy="293.6" r="2.0" stroke-width="1.0"/>
<circle cx="208.4" cy="293.6" r="2.0" stroke-width="1.0"/>
<circle cx="212.2" cy="293.5" r="2.0" stroke-width="1.0"/>
<circle cx="216" cy="293.3" r="2.0" stroke-width="1.0"/>
<circle cx="219.8" cy="293" r="2.0" stroke-width="1.0"/>
<circle cx="223.4" cy="292.4" r="2.0" stroke-width="1.0"/>
<circle cx="106.5" cy="17.2" r="2"/>
<circle cx="129.6" cy="104.5" r="2"/>
<circle cx="139.3" cy="135" r="2"/>
<circle cx="72.3" cy="245.8" r="2"/>
<circle cx="310.8" cy="203.8" r="2"/>
</g>
<g stroke="#000" stroke-width="1">
<line x1="108.4" y1="18" x2="118.4" y2="21.9"/>
<line x1="118" y1="104.5" x2="127.6" y2="104.5"/>
<line x1="128.3" y1="135" x2="137.3" y2="135"/>
<line x1="73.1" y1="247.7" x2="75.3" y2="255.3"/>
<line x1="312.2" y1="205.3" x2="319.6" y2="214.7"/>
</g>
<line x1="53.7" y1="403" x2="53.7" y2="619" stroke="#000" stroke-width="2"/>
<line x1="267.6" y1="403" x2="267.6" y2="619" stroke="#000" stroke-width="2"/>
<line x1="48" y1="404" x2="53.7" y2="404" stroke="#000" stroke-width="2"/>
<line x1="267.6" y1="404" x2="273.5" y2="404" stroke="#000" stroke-width="2"/>
<line x1="48" y1="475.33" x2="53.7" y2="475.33" stroke="#000" stroke-width="2"/>
<line x1="267.6" y1="475.33" x2="273.5" y2="475.33" stroke="#000" stroke-width="2"/>
<line x1="48" y1="546.67" x2="53.7" y2="546.67" stroke="#000" stroke-width="2"/>
<line x1="267.6" y1="546.67" x2="273.5" y2="546.67" stroke="#000" stroke-width="2"/>
<line x1="48" y1="618" x2="53.7" y2="618" stroke="#000" stroke-width="2"/>
<line x1="267.6" y1="618" x2="273.5" y2="618" stroke="#000" stroke-width="2"/>
<line x1="48" y1="618" x2="267.6" y2="618" stroke="#000" stroke-width="2"/>
<line x1="75.7" y1="618" x2="75.7" y2="624.3" stroke="#000" stroke-width="2"/>
<line x1="109.6" y1="618" x2="109.6" y2="624.3" stroke="#000" stroke-width="2"/>
<line x1="143.2" y1="618" x2="143.2" y2="624.3" stroke="#000" stroke-width="2"/>
<line x1="176.9" y1="618" x2="176.9" y2="624.3" stroke="#000" stroke-width="2"/>
<line x1="210.5" y1="618" x2="210.5" y2="624.3" stroke="#000" stroke-width="2"/>
<line x1="244" y1="618" x2="244" y2="624.3" stroke="#000" stroke-width="2"/>
<text transform="translate(80.4,637.5) rotate(-45)" font-size="14.3" font-weight="bold" text-anchor="end" textLength="9.98" lengthAdjust="spacingAndGlyphs">0</text>
<text transform="translate(114.3,637.5) rotate(-45)" font-size="14.3" font-weight="bold" text-anchor="end" textLength="25.03" lengthAdjust="spacingAndGlyphs">0.1</text>
<text transform="translate(147.9,637.5) rotate(-45)" font-size="14.3" font-weight="bold" text-anchor="end" textLength="9.98" lengthAdjust="spacingAndGlyphs">1</text>
<text transform="translate(181.6,637.5) rotate(-45)" font-size="14.3" font-weight="bold" text-anchor="end" textLength="19.96" lengthAdjust="spacingAndGlyphs">10</text>
<text transform="translate(215.2,637.5) rotate(-45)" font-size="14.3" font-weight="bold" text-anchor="end" textLength="29.94" lengthAdjust="spacingAndGlyphs">100</text>
<text transform="translate(248.7,637.5) rotate(-45)" font-size="14.3" font-weight="bold" text-anchor="end" textLength="39.92" lengthAdjust="spacingAndGlyphs">1000</text>
<line x1="76.1" y1="411.6" x2="76.1" y2="421.8" stroke="#000" stroke-width="1.9"/>
<line x1="76.1" y1="412.6" x2="119.2" y2="412.6" stroke="#000" stroke-width="1.9"/>
<line x1="134.4" y1="412.6" x2="177.75" y2="412.6" stroke="#000" stroke-width="1.9"/>
<line x1="176.8" y1="411.65" x2="176.8" y2="438.2" stroke="#000" stroke-width="1.9"/>
<g stroke="#000" stroke-width="1.6"><line x1="126.8" y1="408.3" x2="126.8" y2="416.9"/><line x1="123.08" y1="410.45" x2="130.52" y2="414.75"/><line x1="123.08" y1="414.75" x2="130.52" y2="410.45"/></g>
<line x1="183.4" y1="412.6" x2="189.8" y2="412.6" stroke="#000" stroke-width="1.9"/>
<line x1="205" y1="412.6" x2="211.55" y2="412.6" stroke="#000" stroke-width="1.9"/>
<line x1="210.6" y1="411.65" x2="210.6" y2="506.2" stroke="#000" stroke-width="1.9"/>
<g stroke="#000" stroke-width="1.6"><line x1="197.4" y1="408.3" x2="197.4" y2="416.9"/><line x1="193.68" y1="410.45" x2="201.12" y2="414.75"/><line x1="193.68" y1="414.75" x2="201.12" y2="410.45"/></g>
<line x1="216.6" y1="412.6" x2="223" y2="412.6" stroke="#000" stroke-width="1.9"/>
<line x1="238.2" y1="412.6" x2="245.35" y2="412.6" stroke="#000" stroke-width="1.9"/>
<line x1="244.4" y1="411.65" x2="244.4" y2="516.7" stroke="#000" stroke-width="1.9"/>
<g stroke="#000" stroke-width="1.6"><line x1="230.6" y1="408.3" x2="230.6" y2="416.9"/><line x1="226.88" y1="410.45" x2="234.32" y2="414.75"/><line x1="226.88" y1="414.75" x2="234.32" y2="410.45"/></g>
<rect x="62.1" y="473.9" width="28" height="4" fill="#000"/>
<rect x="95.8" y="469.7" width="28" height="4" fill="#000"/>
<rect x="129.2" y="496.9" width="28" height="4" fill="#000"/>
<rect x="163.1" y="525.2" width="28" height="4" fill="#000"/>
<rect x="196.7" y="527.7" width="28" height="4" fill="#000"/>
<rect x="230.3" y="538.7" width="28" height="4" fill="#000"/>
<g fill="#fff" stroke="#000" stroke-width="1.3">
<circle cx="75.5" cy="475.9" r="4"/>
<circle cx="69.5" cy="475.9" r="4"/>
<circle cx="81.6" cy="475.9" r="4"/>
<circle cx="109.5" cy="442.4" r="4"/>
<circle cx="109.5" cy="456.9" r="4"/>
<circle cx="103" cy="482.3" r="4"/>
<circle cx="106.8" cy="487.8" r="4"/>
<circle cx="112.8" cy="482.9" r="4"/>
<circle cx="116" cy="478.5" r="4"/>
<circle cx="143.2" cy="456" r="4"/>
<circle cx="137.8" cy="498.5" r="4"/>
<circle cx="149.4" cy="503.3" r="4"/>
<circle cx="138.2" cy="507.9" r="4"/>
<circle cx="148.6" cy="510" r="4"/>
<circle cx="143.4" cy="517.1" r="4"/>
<circle cx="177" cy="481.7" r="4"/>
<circle cx="171.2" cy="506.6" r="4"/>
<circle cx="182.8" cy="507.8" r="4"/>
<circle cx="177" cy="527.8" r="4"/>
<circle cx="177" cy="558.5" r="4"/>
<circle cx="177" cy="578.3" r="4"/>
<circle cx="204.9" cy="517.7" r="4"/>
<circle cx="216.2" cy="519.1" r="4"/>
<circle cx="204.3" cy="531.1" r="4"/>
<circle cx="217.1" cy="530.5" r="4"/>
<circle cx="207.7" cy="539.6" r="4"/>
<circle cx="213.2" cy="536.8" r="4"/>
<circle cx="250" cy="526.2" r="4"/>
<circle cx="238.7" cy="532" r="4"/>
<circle cx="249.8" cy="534.4" r="4"/>
<circle cx="239.1" cy="539.9" r="4"/>
<circle cx="244.3" cy="546" r="4"/>
<circle cx="244.3" cy="565.7" r="4"/>
</g>
<line x1="53.7" y1="749" x2="53.7" y2="965" stroke="#000" stroke-width="2"/>
<line x1="267.6" y1="749" x2="267.6" y2="965" stroke="#000" stroke-width="2"/>
<line x1="48" y1="750" x2="53.7" y2="750" stroke="#000" stroke-width="2"/>
<line x1="267.6" y1="750" x2="273.5" y2="750" stroke="#000" stroke-width="2"/>
<line x1="48" y1="821.33" x2="53.7" y2="821.33" stroke="#000" stroke-width="2"/>
<line x1="267.6" y1="821.33" x2="273.5" y2="821.33" stroke="#000" stroke-width="2"/>
<line x1="48" y1="892.67" x2="53.7" y2="892.67" stroke="#000" stroke-width="2"/>
<line x1="267.6" y1="892.67" x2="273.5" y2="892.67" stroke="#000" stroke-width="2"/>
<line x1="48" y1="964" x2="53.7" y2="964" stroke="#000" stroke-width="2"/>
<line x1="267.6" y1="964" x2="273.5" y2="964" stroke="#000" stroke-width="2"/>
<line x1="48" y1="964" x2="267.6" y2="964" stroke="#000" stroke-width="2"/>
<line x1="75.7" y1="964" x2="75.7" y2="970.3" stroke="#000" stroke-width="2"/>
<line x1="109.6" y1="964" x2="109.6" y2="970.3" stroke="#000" stroke-width="2"/>
<line x1="143.2" y1="964" x2="143.2" y2="970.3" stroke="#000" stroke-width="2"/>
<line x1="176.9" y1="964" x2="176.9" y2="970.3" stroke="#000" stroke-width="2"/>
<line x1="210.5" y1="964" x2="210.5" y2="970.3" stroke="#000" stroke-width="2"/>
<line x1="244" y1="964" x2="244" y2="970.3" stroke="#000" stroke-width="2"/>
<text transform="translate(80.4,983.5) rotate(-45)" font-size="14.3" font-weight="bold" text-anchor="end" textLength="9.98" lengthAdjust="spacingAndGlyphs">0</text>
<text transform="translate(114.3,983.5) rotate(-45)" font-size="14.3" font-weight="bold" text-anchor="end" textLength="35.01" lengthAdjust="spacingAndGlyphs">0.01</text>
<text transform="translate(147.9,983.5) rotate(-45)" font-size="14.3" font-weight="bold" text-anchor="end" textLength="25.03" lengthAdjust="spacingAndGlyphs">0.1</text>
<text transform="translate(181.6,983.5) rotate(-45)" font-size="14.3" font-weight="bold" text-anchor="end" textLength="9.98" lengthAdjust="spacingAndGlyphs">1</text>
<text transform="translate(215.2,983.5) rotate(-45)" font-size="14.3" font-weight="bold" text-anchor="end" textLength="19.96" lengthAdjust="spacingAndGlyphs">10</text>
<text transform="translate(248.7,983.5) rotate(-45)" font-size="14.3" font-weight="bold" text-anchor="end" textLength="29.94" lengthAdjust="spacingAndGlyphs">100</text>
<line x1="76.1" y1="798.1" x2="76.1" y2="808.3" stroke="#000" stroke-width="1.9"/>
<line x1="76.1" y1="799.1" x2="102.5" y2="799.1" stroke="#000" stroke-width="1.9"/>
<line x1="117.7" y1="799.1" x2="144.15" y2="799.1" stroke="#000" stroke-width="1.9"/>
<line x1="143.2" y1="798.15" x2="143.2" y2="824.6" stroke="#000" stroke-width="1.9"/>
<g stroke="#000" stroke-width="1.6"><line x1="110.1" y1="794.8" x2="110.1" y2="803.4"/><line x1="106.38" y1="796.95" x2="113.82" y2="801.25"/><line x1="106.38" y1="801.25" x2="113.82" y2="796.95"/></g>
<line x1="149.2" y1="799.1" x2="155.2" y2="799.1" stroke="#000" stroke-width="1.9"/>
<line x1="170.4" y1="799.1" x2="177.75" y2="799.1" stroke="#000" stroke-width="1.9"/>
<line x1="176.8" y1="798.15" x2="176.8" y2="852.3" stroke="#000" stroke-width="1.9"/>
<g stroke="#000" stroke-width="1.6"><line x1="162.8" y1="794.8" x2="162.8" y2="803.4"/><line x1="159.08" y1="796.95" x2="166.52" y2="801.25"/><line x1="159.08" y1="801.25" x2="166.52" y2="796.95"/></g>
<line x1="183.4" y1="799.1" x2="189.8" y2="799.1" stroke="#000" stroke-width="1.9"/>
<line x1="205" y1="799.1" x2="211.45" y2="799.1" stroke="#000" stroke-width="1.9"/>
<line x1="210.5" y1="798.15" x2="210.5" y2="857.4" stroke="#000" stroke-width="1.9"/>
<g stroke="#000" stroke-width="1.6"><line x1="197.4" y1="794.8" x2="197.4" y2="803.4"/><line x1="193.68" y1="796.95" x2="201.12" y2="801.25"/><line x1="193.68" y1="801.25" x2="201.12" y2="796.95"/></g>
<line x1="216.8" y1="799.1" x2="223.2" y2="799.1" stroke="#000" stroke-width="1.9"/>
<line x1="238.4" y1="799.1" x2="245.05" y2="799.1" stroke="#000" stroke-width="1.9"/>
<line x1="244.1" y1="798.15" x2="244.1" y2="861.3" stroke="#000" stroke-width="1.9"/>
<g stroke="#000" stroke-width="1.6"><line x1="230.8" y1="794.8" x2="230.8" y2="803.4"/><line x1="227.08" y1="796.95" x2="234.52" y2="801.25"/><line x1="227.08" y1="801.25" x2="234.52" y2="796.95"/></g>
<rect x="62" y="819.6" width="28" height="4" fill="#000"/>
<rect x="95.8" y="866.2" width="28" height="4" fill="#000"/>
<rect x="129.2" y="866.9" width="28" height="4" fill="#000"/>
<rect x="163" y="882" width="28" height="4" fill="#000"/>
<rect x="196.9" y="895.4" width="28" height="4" fill="#000"/>
<rect x="230.5" y="888.5" width="28" height="4" fill="#000"/>
<g fill="#fff" stroke="#000" stroke-width="1.3">
<circle cx="75.5" cy="821.5" r="4"/>
<circle cx="69.5" cy="821.5" r="4"/>
<circle cx="82" cy="821.5" r="4"/>
<circle cx="109.5" cy="843" r="4"/>
<circle cx="109.5" cy="873.2" r="4"/>
<circle cx="109.5" cy="887.6" r="4"/>
<circle cx="132" cy="850" r="4"/>
<circle cx="149.1" cy="848.6" r="4"/>
<circle cx="137.8" cy="861.2" r="4"/>
<circle cx="149.1" cy="864.1" r="4"/>
<circle cx="149.1" cy="891.2" r="4"/>
<circle cx="137.8" cy="896.2" r="4"/>
<circle cx="182.5" cy="861.8" r="4"/>
<circle cx="171.1" cy="873.4" r="4"/>
<circle cx="181.9" cy="878.8" r="4"/>
<circle cx="171.6" cy="887.5" r="4"/>
<circle cx="177.1" cy="889.4" r="4"/>
<circle cx="176.8" cy="910.4" r="4"/>
<circle cx="210.8" cy="868.2" r="4"/>
<circle cx="205.7" cy="884.1" r="4"/>
<circle cx="215.7" cy="894.4" r="4"/>
<circle cx="210.8" cy="894.8" r="4"/>
<circle cx="210.8" cy="910.7" r="4"/>
<circle cx="210.8" cy="931.1" r="4"/>
<circle cx="244.4" cy="871.7" r="4"/>
<circle cx="249.3" cy="882" r="4"/>
<circle cx="244.4" cy="892.3" r="4"/>
<circle cx="239.4" cy="888.8" r="4"/>
<circle cx="250" cy="901.2" r="4"/>
<circle cx="238.9" cy="906.6" r="4"/>
</g>
<g font-weight="bold">
<text x="1.93" y="29.05" font-size="33.4" stroke="#000" stroke-width="1.1" stroke-linejoin="round" textLength="24.98" lengthAdjust="spacingAndGlyphs">A</text>
<text x="25.56" y="75.95" font-size="15" textLength="20.59" lengthAdjust="spacingAndGlyphs">10</text>
<text x="35.83" y="188.61" font-size="15" textLength="10.31" lengthAdjust="spacingAndGlyphs">5</text>
<text x="35.93" y="300.61" font-size="15" textLength="10.37" lengthAdjust="spacingAndGlyphs">0</text>
<text x="45.49" y="318.09" font-size="15" textLength="16.54" lengthAdjust="spacingAndGlyphs">-2</text>
<text x="121.76" y="317.28" font-size="15" textLength="16.37" lengthAdjust="spacingAndGlyphs">-1</text>
<text x="202.15" y="317.46" font-size="15" textLength="10.1" lengthAdjust="spacingAndGlyphs">0</text>
<text x="279.1" y="317.2" font-size="15" textLength="9.24" lengthAdjust="spacingAndGlyphs">1</text>
<text x="355.5" y="317.89" font-size="15" textLength="9.81" lengthAdjust="spacingAndGlyphs">2</text>
<text x="138.69" y="338.16" font-size="15" textLength="137.44" lengthAdjust="spacingAndGlyphs">log2-fold change</text>
<text transform="translate(14.75,212.87) rotate(-90)" font-size="15.62" textLength="128.18" lengthAdjust="spacingAndGlyphs">-log10(p-value)</text>
<text x="122.94" y="29.59" font-size="13.8" font-style="italic" textLength="83.7" lengthAdjust="spacingAndGlyphs">C10ORF10</text>
<text x="61.73" y="109.54" font-size="13.8" font-style="italic" textLength="52.23" lengthAdjust="spacingAndGlyphs">CXCR4</text>
<text x="97.94" y="137.23" font-size="13.8" font-style="italic" textLength="28.17" lengthAdjust="spacingAndGlyphs">KIT</text>
<text x="56.65" y="268.14" font-size="13.8" font-style="italic" textLength="44.88" lengthAdjust="spacingAndGlyphs">IFIT1</text>
<text x="302.89" y="228.04" font-size="13.8" font-style="italic" textLength="40.59" lengthAdjust="spacingAndGlyphs">LHX6</text>
<text x="2.88" y="414.55" font-size="33.4" stroke="#000" stroke-width="1.1" stroke-linejoin="round" textLength="23.65" lengthAdjust="spacingAndGlyphs">B</text>
<text x="104.68" y="399.87" font-size="14.6" font-style="italic" textLength="55.29" lengthAdjust="spacingAndGlyphs">CXCR4</text>
<text x="165.25" y="399.18" font-size="14" textLength="49.98" lengthAdjust="spacingAndGlyphs">mRNA</text>
<text x="278.29" y="409.83" font-size="13.9" textLength="29.74" lengthAdjust="spacingAndGlyphs">150</text>
<text x="278.29" y="481.1" font-size="13.9" textLength="29.75" lengthAdjust="spacingAndGlyphs">100</text>
<text x="278.14" y="552.43" font-size="13.9" textLength="20.09" lengthAdjust="spacingAndGlyphs">50</text>
<text x="277.71" y="623.69" font-size="13.9" textLength="10.67" lengthAdjust="spacingAndGlyphs">0</text>
<text x="107.88" y="684.14" font-size="15" textLength="103.7" lengthAdjust="spacingAndGlyphs">Insulin (nM)</text>
<text x="2.21" y="759.76" font-size="33.4" stroke="#000" stroke-width="1.1" stroke-linejoin="round" textLength="23.31" lengthAdjust="spacingAndGlyphs">C</text>
<text x="104.44" y="744.91" font-size="14.6" font-style="italic" textLength="55.55" lengthAdjust="spacingAndGlyphs">CXCR4</text>
<text x="165.18" y="744.99" font-size="14" textLength="49.82" lengthAdjust="spacingAndGlyphs">mRNA</text>
<text x="278.33" y="755.76" font-size="13.9" textLength="29.67" lengthAdjust="spacingAndGlyphs">150</text>
<text x="278.09" y="827.35" font-size="13.9" textLength="30.26" lengthAdjust="spacingAndGlyphs">100</text>
<text x="278.14" y="897.93" font-size="13.9" textLength="20.09" lengthAdjust="spacingAndGlyphs">50</text>
<text x="277.71" y="969.9" font-size="13.9" textLength="10.67" lengthAdjust="spacingAndGlyphs">0</text>
<text x="316.46" y="865.18" font-size="16" textLength="17.71" lengthAdjust="spacingAndGlyphs">%</text>
<text x="115.88" y="1026.8" font-size="15" textLength="94.61" lengthAdjust="spacingAndGlyphs">IGF-1 (nM)</text>
</g>
</svg>
</body></html>
